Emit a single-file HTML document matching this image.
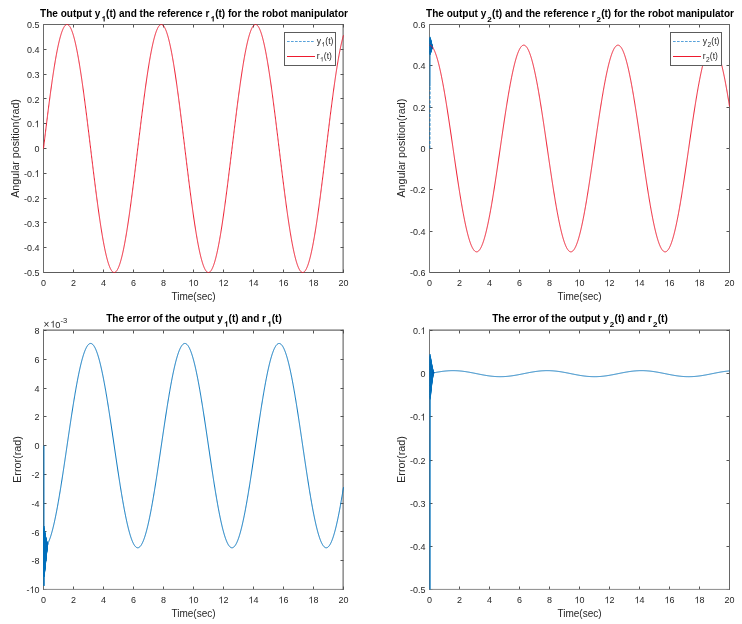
<!DOCTYPE html>
<html><head><meta charset="utf-8"><style>html,body{margin:0;padding:0;background:#fff;width:742px;height:624px;overflow:hidden}svg{display:block;will-change:transform}</style></head>
<body><svg width="742" height="624" viewBox="0 0 742 624" font-family="Liberation Sans, sans-serif" fill="#262626">
<rect width="742" height="624" fill="#fff"/>
<path d="M43.5,272.5v-3M43.5,24.5v3M73.5,272.5v-3M73.5,24.5v3M103.5,272.5v-3M103.5,24.5v3M133.5,272.5v-3M133.5,24.5v3M163.5,272.5v-3M163.5,24.5v3M193.5,272.5v-3M193.5,24.5v3M223.5,272.5v-3M223.5,24.5v3M253.5,272.5v-3M253.5,24.5v3M283.5,272.5v-3M283.5,24.5v3M313.5,272.5v-3M313.5,24.5v3M343.5,272.5v-3M343.5,24.5v3M43.5,272.5h3M343.5,272.5h-3M43.5,247.5h3M343.5,247.5h-3M43.5,222.5h3M343.5,222.5h-3M43.5,198.5h3M343.5,198.5h-3M43.5,173.5h3M343.5,173.5h-3M43.5,148.5h3M343.5,148.5h-3M43.5,123.5h3M343.5,123.5h-3M43.5,98.5h3M343.5,98.5h-3M43.5,74.5h3M343.5,74.5h-3M43.5,49.5h3M343.5,49.5h-3M43.5,24.5h3M343.5,24.5h-3" stroke="#555" stroke-width="1.0" fill="none"/>
<path d="M43.0,24.5H343.6" stroke="#666" stroke-width="1"/>
<path d="M43.0,272.5H343.6" stroke="#5c5c5c" stroke-width="1"/>
<path d="M43.5,24.0V273.0" stroke="#6a6a6a" stroke-width="1"/>
<path d="M343.1,24.0V273.0" stroke="#505050" stroke-width="1"/>
<path d="M429.5,272.5v-3M429.5,24.5v3M459.5,272.5v-3M459.5,24.5v3M489.5,272.5v-3M489.5,24.5v3M519.5,272.5v-3M519.5,24.5v3M549.5,272.5v-3M549.5,24.5v3M579.5,272.5v-3M579.5,24.5v3M609.5,272.5v-3M609.5,24.5v3M639.5,272.5v-3M639.5,24.5v3M669.5,272.5v-3M669.5,24.5v3M699.5,272.5v-3M699.5,24.5v3M729.5,272.5v-3M729.5,24.5v3M429.5,272.5h3M729.5,272.5h-3M429.5,231.5h3M729.5,231.5h-3M429.5,189.5h3M729.5,189.5h-3M429.5,148.5h3M729.5,148.5h-3M429.5,107.5h3M729.5,107.5h-3M429.5,65.5h3M729.5,65.5h-3M429.5,24.5h3M729.5,24.5h-3" stroke="#555" stroke-width="1.0" fill="none"/>
<path d="M429.0,24.5H730.0" stroke="#666" stroke-width="1"/>
<path d="M429.0,272.5H730.0" stroke="#5c5c5c" stroke-width="1"/>
<path d="M429.5,24.0V273.0" stroke="#777" stroke-width="1"/>
<path d="M729.5,24.0V273.0" stroke="#666" stroke-width="1"/>
<path d="M43.5,589.5v-3M43.5,330.5v3M73.5,589.5v-3M73.5,330.5v3M103.5,589.5v-3M103.5,330.5v3M133.5,589.5v-3M133.5,330.5v3M163.5,589.5v-3M163.5,330.5v3M193.5,589.5v-3M193.5,330.5v3M223.5,589.5v-3M223.5,330.5v3M253.5,589.5v-3M253.5,330.5v3M283.5,589.5v-3M283.5,330.5v3M313.5,589.5v-3M313.5,330.5v3M343.5,589.5v-3M343.5,330.5v3M43.5,589.5h3M343.5,589.5h-3M43.5,560.5h3M343.5,560.5h-3M43.5,531.5h3M343.5,531.5h-3M43.5,503.5h3M343.5,503.5h-3M43.5,474.5h3M343.5,474.5h-3M43.5,445.5h3M343.5,445.5h-3M43.5,416.5h3M343.5,416.5h-3M43.5,388.5h3M343.5,388.5h-3M43.5,359.5h3M343.5,359.5h-3M43.5,330.5h3M343.5,330.5h-3" stroke="#555" stroke-width="1.0" fill="none"/>
<path d="M43.0,330.1H343.6" stroke="#444" stroke-width="1"/>
<path d="M43.0,589.4H343.6" stroke="#8a8a8a" stroke-width="1"/>
<path d="M43.5,329.6V589.9" stroke="#6a6a6a" stroke-width="1"/>
<path d="M343.1,329.6V589.9" stroke="#505050" stroke-width="1"/>
<path d="M429.5,589.5v-3M429.5,330.5v3M459.5,589.5v-3M459.5,330.5v3M489.5,589.5v-3M489.5,330.5v3M519.5,589.5v-3M519.5,330.5v3M549.5,589.5v-3M549.5,330.5v3M579.5,589.5v-3M579.5,330.5v3M609.5,589.5v-3M609.5,330.5v3M639.5,589.5v-3M639.5,330.5v3M669.5,589.5v-3M669.5,330.5v3M699.5,589.5v-3M699.5,330.5v3M729.5,589.5v-3M729.5,330.5v3M429.5,589.5h3M729.5,589.5h-3M429.5,546.5h3M729.5,546.5h-3M429.5,503.5h3M729.5,503.5h-3M429.5,460.5h3M729.5,460.5h-3M429.5,416.5h3M729.5,416.5h-3M429.5,373.5h3M729.5,373.5h-3M429.5,330.5h3M729.5,330.5h-3" stroke="#555" stroke-width="1.0" fill="none"/>
<path d="M429.0,330.1H730.0" stroke="#444" stroke-width="1"/>
<path d="M429.0,589.4H730.0" stroke="#8a8a8a" stroke-width="1"/>
<path d="M429.5,329.6V589.9" stroke="#777" stroke-width="1"/>
<path d="M729.5,329.6V589.9" stroke="#666" stroke-width="1"/>
<path d="M43.50,148.50 L43.65,147.26 L43.80,146.02 L43.95,144.78 L44.10,143.54 L44.25,142.30 L44.40,141.06 L44.55,139.83 L44.70,138.59 L44.85,137.36 L45.00,136.12 L45.15,134.89 L45.30,133.66 L45.45,132.43 L45.60,131.20 L45.75,129.97 L45.90,128.74 L46.05,127.52 L46.20,126.30 L46.35,125.08 L46.50,123.87 L46.65,122.65 L46.80,121.44 L46.95,120.23 L47.10,119.02 L47.25,117.82 L47.40,116.62 L47.55,115.43 L47.70,114.23 L47.85,113.04 L48.00,111.86 L48.15,110.67 L48.30,109.49 L48.45,108.32 L48.60,107.15 L48.75,105.98 L48.90,104.82 L49.05,103.66 L49.20,102.51 L49.35,101.36 L49.50,100.21 L49.65,99.07 L49.80,97.94 L49.95,96.81 L50.10,95.68 L50.25,94.56 L50.40,93.45 L50.55,92.34 L50.70,91.24 L50.85,90.14 L51.00,89.05 L51.15,87.97 L51.30,86.89 L51.45,85.81 L51.60,84.75 L51.75,83.69 L51.90,82.63 L52.05,81.59 L52.20,80.55 L52.35,79.51 L52.50,78.48 L52.65,77.46 L52.80,76.45 L52.95,75.45 L53.10,74.45 L53.25,73.46 L53.40,72.47 L53.55,71.50 L53.70,70.53 L53.85,69.57 L54.00,68.62 L54.15,67.67 L54.30,66.74 L54.45,65.81 L54.60,64.89 L54.75,63.98 L54.90,63.07 L55.05,62.18 L55.20,61.29 L55.35,60.42 L55.50,59.55 L55.65,58.69 L55.80,57.84 L55.95,57.00 L56.10,56.16 L56.25,55.34 L56.40,54.53 L56.55,53.72 L56.70,52.93 L56.85,52.14 L57.00,51.37 L57.15,50.60 L57.30,49.85 L57.45,49.10 L57.60,48.36 L57.75,47.64 L57.90,46.92 L58.05,46.21 L58.20,45.52 L58.35,44.83 L58.50,44.16 L58.65,43.49 L58.80,42.84 L58.95,42.19 L59.10,41.56 L59.25,40.94 L59.40,40.33 L59.55,39.73 L59.70,39.14 L59.85,38.56 L60.00,37.99 L60.15,37.43 L60.30,36.89 L60.45,36.35 L60.60,35.83 L60.75,35.32 L60.90,34.82 L61.05,34.33 L61.20,33.85 L61.35,33.38 L61.50,32.93 L61.65,32.48 L61.80,32.05 L61.95,31.63 L62.10,31.22 L62.25,30.83 L62.40,30.44 L62.55,30.07 L62.70,29.71 L62.85,29.36 L63.00,29.02 L63.15,28.69 L63.30,28.38 L63.45,28.08 L63.60,27.79 L63.75,27.51 L63.90,27.24 L64.05,26.99 L64.20,26.75 L64.35,26.52 L64.50,26.30 L64.65,26.10 L64.80,25.91 L64.95,25.73 L65.10,25.56 L65.25,25.40 L65.40,25.26 L65.55,25.13 L65.70,25.01 L65.85,24.90 L66.00,24.81 L66.15,24.73 L66.30,24.66 L66.45,24.60 L66.60,24.56 L66.75,24.53 L66.90,24.51 L67.05,24.50 L67.20,24.51 L67.35,24.52 L67.50,24.55 L67.65,24.60 L67.80,24.65 L67.95,24.72 L68.10,24.80 L68.25,24.89 L68.40,24.99 L68.55,25.11 L68.70,25.24 L68.85,25.38 L69.00,25.53 L69.15,25.70 L69.30,25.88 L69.45,26.07 L69.60,26.27 L69.75,26.49 L69.90,26.71 L70.05,26.95 L70.20,27.20 L70.35,27.47 L70.50,27.74 L70.65,28.03 L70.80,28.33 L70.95,28.64 L71.10,28.97 L71.25,29.30 L71.40,29.65 L71.55,30.01 L71.70,30.38 L71.85,30.76 L72.00,31.16 L72.15,31.57 L72.30,31.98 L72.45,32.41 L72.60,32.86 L72.75,33.31 L72.90,33.77 L73.05,34.25 L73.20,34.74 L73.35,35.24 L73.50,35.75 L73.65,36.27 L73.80,36.80 L73.95,37.35 L74.10,37.90 L74.25,38.47 L74.40,39.04 L74.55,39.63 L74.70,40.23 L74.85,40.84 L75.00,41.46 L75.15,42.09 L75.30,42.74 L75.45,43.39 L75.60,44.05 L75.75,44.72 L75.90,45.41 L76.05,46.10 L76.20,46.81 L76.35,47.52 L76.50,48.25 L76.65,48.98 L76.80,49.73 L76.95,50.48 L77.10,51.24 L77.25,52.02 L77.40,52.80 L77.55,53.60 L77.70,54.40 L77.85,55.21 L78.00,56.03 L78.15,56.86 L78.30,57.70 L78.45,58.55 L78.60,59.41 L78.75,60.28 L78.90,61.15 L79.05,62.04 L79.20,62.93 L79.35,63.83 L79.50,64.74 L79.65,65.66 L79.80,66.59 L79.95,67.52 L80.10,68.47 L80.25,69.42 L80.40,70.38 L80.55,71.34 L80.70,72.32 L80.85,73.30 L81.00,74.29 L81.15,75.29 L81.30,76.29 L81.45,77.30 L81.60,78.32 L81.75,79.35 L81.90,80.38 L82.05,81.42 L82.20,82.47 L82.35,83.52 L82.50,84.58 L82.65,85.64 L82.80,86.72 L82.95,87.79 L83.10,88.88 L83.25,89.97 L83.40,91.06 L83.55,92.17 L83.70,93.27 L83.85,94.39 L84.00,95.50 L84.15,96.63 L84.30,97.76 L84.45,98.89 L84.60,100.03 L84.75,101.17 L84.90,102.32 L85.05,103.48 L85.20,104.63 L85.35,105.80 L85.50,106.96 L85.65,108.13 L85.80,109.31 L85.95,110.48 L86.10,111.67 L86.25,112.85 L86.40,114.04 L86.55,115.24 L86.70,116.43 L86.85,117.63 L87.00,118.83 L87.15,120.04 L87.30,121.25 L87.45,122.46 L87.60,123.67 L87.75,124.89 L87.90,126.11 L88.05,127.33 L88.20,128.55 L88.35,129.77 L88.50,131.00 L88.65,132.23 L88.80,133.46 L88.95,134.69 L89.10,135.92 L89.25,137.16 L89.40,138.39 L89.55,139.63 L89.70,140.87 L89.85,142.11 L90.00,143.34 L90.15,144.58 L90.30,145.82 L90.45,147.06 L90.60,148.30 L90.75,149.54 L90.90,150.78 L91.05,152.02 L91.20,153.26 L91.35,154.50 L91.50,155.74 L91.65,156.98 L91.80,158.21 L91.95,159.45 L92.10,160.68 L92.25,161.92 L92.40,163.15 L92.55,164.38 L92.70,165.61 L92.85,166.84 L93.00,168.06 L93.15,169.28 L93.30,170.51 L93.45,171.72 L93.60,172.94 L93.75,174.16 L93.90,175.37 L94.05,176.58 L94.20,177.78 L94.35,178.99 L94.50,180.19 L94.65,181.38 L94.80,182.58 L94.95,183.77 L95.10,184.96 L95.25,186.14 L95.40,187.32 L95.55,188.49 L95.70,189.67 L95.85,190.83 L96.00,192.00 L96.15,193.16 L96.30,194.31 L96.45,195.46 L96.60,196.61 L96.75,197.75 L96.90,198.88 L97.05,200.01 L97.20,201.14 L97.35,202.26 L97.50,203.37 L97.65,204.48 L97.80,205.59 L97.95,206.68 L98.10,207.78 L98.25,208.86 L98.40,209.94 L98.55,211.02 L98.70,212.08 L98.85,213.14 L99.00,214.20 L99.15,215.25 L99.30,216.29 L99.45,217.32 L99.60,218.35 L99.75,219.37 L99.90,220.39 L100.05,221.39 L100.20,222.39 L100.35,223.39 L100.50,224.37 L100.65,225.35 L100.80,226.32 L100.95,227.28 L101.10,228.23 L101.25,229.18 L101.40,230.12 L101.55,231.04 L101.70,231.97 L101.85,232.88 L102.00,233.78 L102.15,234.68 L102.30,235.57 L102.45,236.44 L102.60,237.31 L102.75,238.18 L102.90,239.03 L103.05,239.87 L103.20,240.70 L103.35,241.53 L103.50,242.34 L103.65,243.15 L103.80,243.95 L103.95,244.73 L104.10,245.51 L104.25,246.28 L104.40,247.03 L104.55,247.78 L104.70,248.52 L104.85,249.25 L105.00,249.97 L105.15,250.67 L105.30,251.37 L105.45,252.06 L105.60,252.74 L105.75,253.40 L105.90,254.06 L106.05,254.70 L106.20,255.34 L106.35,255.96 L106.50,256.58 L106.65,257.18 L106.80,257.77 L106.95,258.35 L107.10,258.92 L107.25,259.48 L107.40,260.03 L107.55,260.56 L107.70,261.09 L107.85,261.60 L108.00,262.10 L108.15,262.60 L108.30,263.08 L108.45,263.54 L108.60,264.00 L108.75,264.45 L108.90,264.88 L109.05,265.30 L109.20,265.71 L109.35,266.11 L109.50,266.50 L109.65,266.87 L109.80,267.24 L109.95,267.59 L110.10,267.93 L110.25,268.26 L110.40,268.57 L110.55,268.88 L110.70,269.17 L110.85,269.45 L111.00,269.71 L111.15,269.97 L111.30,270.21 L111.45,270.44 L111.60,270.66 L111.75,270.87 L111.90,271.06 L112.05,271.25 L112.20,271.41 L112.35,271.57 L112.50,271.72 L112.65,271.85 L112.80,271.97 L112.95,272.08 L113.10,272.18 L113.25,272.26 L113.40,272.33 L113.55,272.39 L113.70,272.43 L113.85,272.47 L114.00,272.49 L114.15,272.50 L114.30,272.50 L114.45,272.48 L114.60,272.45 L114.75,272.41 L114.90,272.36 L115.05,272.29 L115.20,272.22 L115.35,272.13 L115.50,272.02 L115.65,271.91 L115.80,271.78 L115.95,271.64 L116.10,271.49 L116.25,271.33 L116.40,271.15 L116.55,270.96 L116.70,270.76 L116.85,270.55 L117.00,270.32 L117.15,270.09 L117.30,269.84 L117.45,269.58 L117.60,269.30 L117.75,269.02 L117.90,268.72 L118.05,268.41 L118.20,268.09 L118.35,267.75 L118.50,267.41 L118.65,267.05 L118.80,266.68 L118.95,266.30 L119.10,265.90 L119.25,265.50 L119.40,265.08 L119.55,264.66 L119.70,264.22 L119.85,263.76 L120.00,263.30 L120.15,262.83 L120.30,262.34 L120.45,261.84 L120.60,261.33 L120.75,260.82 L120.90,260.28 L121.05,259.74 L121.20,259.19 L121.35,258.62 L121.50,258.05 L121.65,257.46 L121.80,256.86 L121.95,256.26 L122.10,255.64 L122.25,255.01 L122.40,254.37 L122.55,253.72 L122.70,253.06 L122.85,252.38 L123.00,251.70 L123.15,251.01 L123.30,250.31 L123.45,249.59 L123.60,248.87 L123.75,248.14 L123.90,247.39 L124.05,246.64 L124.20,245.88 L124.35,245.11 L124.50,244.32 L124.65,243.53 L124.80,242.73 L124.95,241.92 L125.10,241.10 L125.25,240.27 L125.40,239.43 L125.55,238.58 L125.70,237.73 L125.85,236.86 L126.00,235.99 L126.15,235.10 L126.30,234.21 L126.45,233.31 L126.60,232.40 L126.75,231.49 L126.90,230.56 L127.05,229.63 L127.20,228.68 L127.35,227.73 L127.50,226.78 L127.65,225.81 L127.80,224.84 L127.95,223.86 L128.10,222.87 L128.25,221.87 L128.40,220.87 L128.55,219.86 L128.70,218.84 L128.85,217.82 L129.00,216.79 L129.15,215.75 L129.30,214.70 L129.45,213.65 L129.60,212.59 L129.75,211.53 L129.90,210.46 L130.05,209.38 L130.20,208.30 L130.35,207.21 L130.50,206.11 L130.65,205.01 L130.80,203.90 L130.95,202.79 L131.10,201.67 L131.25,200.55 L131.40,199.42 L131.55,198.29 L131.70,197.15 L131.85,196.01 L132.00,194.86 L132.15,193.71 L132.30,192.55 L132.45,191.39 L132.60,190.22 L132.75,189.05 L132.90,187.88 L133.05,186.70 L133.20,185.52 L133.35,184.34 L133.50,183.15 L133.65,181.96 L133.80,180.76 L133.95,179.56 L134.10,178.36 L134.25,177.15 L134.40,175.95 L134.55,174.74 L134.70,173.52 L134.85,172.31 L135.00,171.09 L135.15,169.87 L135.30,168.65 L135.45,167.42 L135.60,166.19 L135.75,164.97 L135.90,163.74 L136.05,162.51 L136.20,161.27 L136.35,160.04 L136.50,158.80 L136.65,157.57 L136.80,156.33 L136.95,155.09 L137.10,153.85 L137.25,152.61 L137.40,151.37 L137.55,150.13 L137.70,148.89 L137.85,147.65 L138.00,146.42 L138.15,145.18 L138.30,143.94 L138.45,142.70 L138.60,141.46 L138.75,140.22 L138.90,138.98 L139.05,137.75 L139.20,136.51 L139.35,135.28 L139.50,134.05 L139.65,132.82 L139.80,131.59 L139.95,130.36 L140.10,129.13 L140.25,127.91 L140.40,126.69 L140.55,125.47 L140.70,124.25 L140.85,123.04 L141.00,121.83 L141.15,120.62 L141.30,119.41 L141.45,118.20 L141.60,117.00 L141.75,115.81 L141.90,114.61 L142.05,113.42 L142.20,112.23 L142.35,111.05 L142.50,109.87 L142.65,108.69 L142.80,107.52 L142.95,106.35 L143.10,105.19 L143.25,104.03 L143.40,102.87 L143.55,101.72 L143.70,100.58 L143.85,99.43 L144.00,98.30 L144.15,97.17 L144.30,96.04 L144.45,94.92 L144.60,93.80 L144.75,92.69 L144.90,91.59 L145.05,90.49 L145.20,89.40 L145.35,88.31 L145.50,87.23 L145.65,86.15 L145.80,85.09 L145.95,84.02 L146.10,82.97 L146.25,81.92 L146.40,80.88 L146.55,79.84 L146.70,78.81 L146.85,77.79 L147.00,76.77 L147.15,75.77 L147.30,74.76 L147.45,73.77 L147.60,72.79 L147.75,71.81 L147.90,70.84 L148.05,69.87 L148.20,68.92 L148.35,67.97 L148.50,67.03 L148.65,66.10 L148.80,65.18 L148.95,64.27 L149.10,63.36 L149.25,62.46 L149.40,61.57 L149.55,60.69 L149.70,59.82 L149.85,58.96 L150.00,58.11 L150.15,57.26 L150.30,56.43 L150.45,55.60 L150.60,54.79 L150.75,53.98 L150.90,53.18 L151.05,52.39 L151.20,51.61 L151.35,50.84 L151.50,50.09 L151.65,49.34 L151.80,48.60 L151.95,47.87 L152.10,47.15 L152.25,46.44 L152.40,45.74 L152.55,45.05 L152.70,44.37 L152.85,43.70 L153.00,43.05 L153.15,42.40 L153.30,41.76 L153.45,41.14 L153.60,40.52 L153.75,39.92 L153.90,39.32 L154.05,38.74 L154.20,38.17 L154.35,37.61 L154.50,37.06 L154.65,36.52 L154.80,35.99 L154.95,35.48 L155.10,34.97 L155.25,34.48 L155.40,34.00 L155.55,33.53 L155.70,33.07 L155.85,32.62 L156.00,32.19 L156.15,31.76 L156.30,31.35 L156.45,30.95 L156.60,30.56 L156.75,30.19 L156.90,29.82 L157.05,29.47 L157.20,29.13 L157.35,28.80 L157.50,28.48 L157.65,28.17 L157.80,27.88 L157.95,27.60 L158.10,27.33 L158.25,27.07 L158.40,26.83 L158.55,26.59 L158.70,26.37 L158.85,26.16 L159.00,25.97 L159.15,25.78 L159.30,25.61 L159.45,25.45 L159.60,25.30 L159.75,25.17 L159.90,25.05 L160.05,24.94 L160.20,24.84 L160.35,24.75 L160.50,24.68 L160.65,24.62 L160.80,24.57 L160.95,24.54 L161.10,24.51 L161.25,24.50 L161.40,24.50 L161.55,24.52 L161.70,24.54 L161.85,24.58 L162.00,24.63 L162.15,24.69 L162.30,24.77 L162.45,24.86 L162.60,24.96 L162.75,25.07 L162.90,25.20 L163.05,25.33 L163.20,25.48 L163.35,25.65 L163.50,25.82 L163.65,26.01 L163.80,26.20 L163.95,26.42 L164.10,26.64 L164.25,26.87 L164.40,27.12 L164.55,27.38 L164.70,27.65 L164.85,27.94 L165.00,28.23 L165.15,28.54 L165.30,28.86 L165.45,29.19 L165.60,29.54 L165.75,29.89 L165.90,30.26 L166.05,30.64 L166.20,31.03 L166.35,31.43 L166.50,31.85 L166.65,32.28 L166.80,32.71 L166.95,33.16 L167.10,33.62 L167.25,34.10 L167.40,34.58 L167.55,35.08 L167.70,35.58 L167.85,36.10 L168.00,36.63 L168.15,37.17 L168.30,37.72 L168.45,38.29 L168.60,38.86 L168.75,39.44 L168.90,40.04 L169.05,40.65 L169.20,41.26 L169.35,41.89 L169.50,42.53 L169.65,43.18 L169.80,43.84 L169.95,44.51 L170.10,45.19 L170.25,45.88 L170.40,46.58 L170.55,47.29 L170.70,48.01 L170.85,48.75 L171.00,49.49 L171.15,50.24 L171.30,51.00 L171.45,51.77 L171.60,52.55 L171.75,53.34 L171.90,54.14 L172.05,54.95 L172.20,55.77 L172.35,56.60 L172.50,57.43 L172.65,58.28 L172.80,59.14 L172.95,60.00 L173.10,60.87 L173.25,61.75 L173.40,62.65 L173.55,63.54 L173.70,64.45 L173.85,65.37 L174.00,66.29 L174.15,67.22 L174.30,68.16 L174.45,69.11 L174.60,70.07 L174.75,71.03 L174.90,72.01 L175.05,72.99 L175.20,73.97 L175.35,74.97 L175.50,75.97 L175.65,76.98 L175.80,78.00 L175.95,79.02 L176.10,80.05 L176.25,81.09 L176.40,82.13 L176.55,83.18 L176.70,84.24 L176.85,85.30 L177.00,86.37 L177.15,87.45 L177.30,88.53 L177.45,89.62 L177.60,90.71 L177.75,91.81 L177.90,92.92 L178.05,94.03 L178.20,95.15 L178.35,96.27 L178.50,97.40 L178.65,98.53 L178.80,99.67 L178.95,100.81 L179.10,101.96 L179.25,103.11 L179.40,104.26 L179.55,105.42 L179.70,106.59 L179.85,107.76 L180.00,108.93 L180.15,110.11 L180.30,111.29 L180.45,112.47 L180.60,113.66 L180.75,114.85 L180.90,116.05 L181.05,117.25 L181.20,118.45 L181.35,119.65 L181.50,120.86 L181.65,122.07 L181.80,123.28 L181.95,124.50 L182.10,125.72 L182.25,126.94 L182.40,128.16 L182.55,129.38 L182.70,130.61 L182.85,131.84 L183.00,133.07 L183.15,134.30 L183.30,135.53 L183.45,136.77 L183.60,138.00 L183.75,139.24 L183.90,140.47 L184.05,141.71 L184.20,142.95 L184.35,144.19 L184.50,145.43 L184.65,146.67 L184.80,147.91 L184.95,149.15 L185.10,150.39 L185.25,151.63 L185.40,152.87 L185.55,154.11 L185.70,155.34 L185.85,156.58 L186.00,157.82 L186.15,159.05 L186.30,160.29 L186.45,161.52 L186.60,162.76 L186.75,163.99 L186.90,165.22 L187.05,166.44 L187.20,167.67 L187.35,168.89 L187.50,170.12 L187.65,171.34 L187.80,172.55 L187.95,173.77 L188.10,174.98 L188.25,176.19 L188.40,177.40 L188.55,178.60 L188.70,179.81 L188.85,181.00 L189.00,182.20 L189.15,183.39 L189.30,184.58 L189.45,185.76 L189.60,186.94 L189.75,188.12 L189.90,189.29 L190.05,190.46 L190.20,191.63 L190.35,192.79 L190.50,193.94 L190.65,195.09 L190.80,196.24 L190.95,197.38 L191.10,198.52 L191.25,199.65 L191.40,200.78 L191.55,201.90 L191.70,203.02 L191.85,204.13 L192.00,205.23 L192.15,206.33 L192.30,207.43 L192.45,208.52 L192.60,209.60 L192.75,210.67 L192.90,211.74 L193.05,212.81 L193.20,213.86 L193.35,214.91 L193.50,215.96 L193.65,217.00 L193.80,218.03 L193.95,219.05 L194.10,220.07 L194.25,221.07 L194.40,222.08 L194.55,223.07 L194.70,224.06 L194.85,225.04 L195.00,226.01 L195.15,226.97 L195.30,227.93 L195.45,228.88 L195.60,229.82 L195.75,230.75 L195.90,231.67 L196.05,232.59 L196.20,233.50 L196.35,234.39 L196.50,235.28 L196.65,236.17 L196.80,237.04 L196.95,237.90 L197.10,238.76 L197.25,239.60 L197.40,240.44 L197.55,241.27 L197.70,242.08 L197.85,242.89 L198.00,243.69 L198.15,244.48 L198.30,245.26 L198.45,246.03 L198.60,246.79 L198.75,247.55 L198.90,248.29 L199.05,249.02 L199.20,249.74 L199.35,250.45 L199.50,251.15 L199.65,251.84 L199.80,252.52 L199.95,253.19 L200.10,253.85 L200.25,254.50 L200.40,255.14 L200.55,255.76 L200.70,256.38 L200.85,256.99 L201.00,257.58 L201.15,258.17 L201.30,258.74 L201.45,259.30 L201.60,259.85 L201.75,260.39 L201.90,260.92 L202.05,261.44 L202.20,261.95 L202.35,262.44 L202.50,262.92 L202.65,263.40 L202.80,263.86 L202.95,264.31 L203.10,264.74 L203.25,265.17 L203.40,265.58 L203.55,265.99 L203.70,266.38 L203.85,266.76 L204.00,267.12 L204.15,267.48 L204.30,267.82 L204.45,268.15 L204.60,268.47 L204.75,268.78 L204.90,269.08 L205.05,269.36 L205.20,269.63 L205.35,269.89 L205.50,270.14 L205.65,270.37 L205.80,270.59 L205.95,270.80 L206.10,271.00 L206.25,271.19 L206.40,271.36 L206.55,271.52 L206.70,271.67 L206.85,271.81 L207.00,271.93 L207.15,272.05 L207.30,272.15 L207.45,272.23 L207.60,272.31 L207.75,272.37 L207.90,272.42 L208.05,272.46 L208.20,272.48 L208.35,272.50 L208.50,272.50 L208.65,272.49 L208.80,272.46 L208.95,272.43 L209.10,272.38 L209.25,272.32 L209.40,272.24 L209.55,272.16 L209.70,272.06 L209.85,271.95 L210.00,271.82 L210.15,271.69 L210.30,271.54 L210.45,271.38 L210.60,271.21 L210.75,271.02 L210.90,270.83 L211.05,270.62 L211.20,270.40 L211.35,270.16 L211.50,269.92 L211.65,269.66 L211.80,269.39 L211.95,269.11 L212.10,268.81 L212.25,268.51 L212.40,268.19 L212.55,267.86 L212.70,267.52 L212.85,267.16 L213.00,266.80 L213.15,266.42 L213.30,266.03 L213.45,265.63 L213.60,265.22 L213.75,264.79 L213.90,264.36 L214.05,263.91 L214.20,263.45 L214.35,262.98 L214.50,262.50 L214.65,262.00 L214.80,261.50 L214.95,260.98 L215.10,260.45 L215.25,259.92 L215.40,259.37 L215.55,258.80 L215.70,258.23 L215.85,257.65 L216.00,257.06 L216.15,256.45 L216.30,255.84 L216.45,255.21 L216.60,254.57 L216.75,253.93 L216.90,253.27 L217.05,252.60 L217.20,251.92 L217.35,251.23 L217.50,250.53 L217.65,249.82 L217.80,249.10 L217.95,248.37 L218.10,247.63 L218.25,246.88 L218.40,246.12 L218.55,245.35 L218.70,244.57 L218.85,243.78 L219.00,242.99 L219.15,242.18 L219.30,241.36 L219.45,240.53 L219.60,239.70 L219.75,238.85 L219.90,238.00 L220.05,237.14 L220.20,236.27 L220.35,235.39 L220.50,234.50 L220.65,233.60 L220.80,232.69 L220.95,231.78 L221.10,230.86 L221.25,229.92 L221.40,228.99 L221.55,228.04 L221.70,227.08 L221.85,226.12 L222.00,225.15 L222.15,224.17 L222.30,223.18 L222.45,222.19 L222.60,221.19 L222.75,220.18 L222.90,219.17 L223.05,218.14 L223.20,217.11 L223.35,216.08 L223.50,215.04 L223.65,213.99 L223.80,212.93 L223.95,211.87 L224.10,210.80 L224.25,209.72 L224.40,208.64 L224.55,207.55 L224.70,206.46 L224.85,205.36 L225.00,204.26 L225.15,203.15 L225.30,202.03 L225.45,200.91 L225.60,199.78 L225.75,198.65 L225.90,197.51 L226.05,196.37 L226.20,195.23 L226.35,194.08 L226.50,192.92 L226.65,191.76 L226.80,190.60 L226.95,189.43 L227.10,188.26 L227.25,187.08 L227.40,185.90 L227.55,184.71 L227.70,183.53 L227.85,182.34 L228.00,181.14 L228.15,179.94 L228.30,178.74 L228.45,177.54 L228.60,176.33 L228.75,175.12 L228.90,173.91 L229.05,172.69 L229.20,171.48 L229.35,170.26 L229.50,169.03 L229.65,167.81 L229.80,166.59 L229.95,165.36 L230.10,164.13 L230.25,162.90 L230.40,161.67 L230.55,160.43 L230.70,159.20 L230.85,157.96 L231.00,156.72 L231.15,155.49 L231.30,154.25 L231.45,153.01 L231.60,151.77 L231.75,150.53 L231.90,149.29 L232.05,148.05 L232.20,146.81 L232.35,145.57 L232.50,144.33 L232.65,143.09 L232.80,141.85 L232.95,140.62 L233.10,139.38 L233.25,138.14 L233.40,136.91 L233.55,135.67 L233.70,134.44 L233.85,133.21 L234.00,131.98 L234.15,130.75 L234.30,129.52 L234.45,128.30 L234.60,127.08 L234.75,125.86 L234.90,124.64 L235.05,123.42 L235.20,122.21 L235.35,121.00 L235.50,119.79 L235.65,118.59 L235.80,117.39 L235.95,116.19 L236.10,114.99 L236.25,113.80 L236.40,112.61 L236.55,111.43 L236.70,110.24 L236.85,109.07 L237.00,107.89 L237.15,106.72 L237.30,105.56 L237.45,104.40 L237.60,103.24 L237.75,102.09 L237.90,100.94 L238.05,99.80 L238.20,98.66 L238.35,97.53 L238.50,96.40 L238.65,95.28 L238.80,94.16 L238.95,93.05 L239.10,91.94 L239.25,90.84 L239.40,89.75 L239.55,88.66 L239.70,87.57 L239.85,86.50 L240.00,85.43 L240.15,84.36 L240.30,83.30 L240.45,82.25 L240.60,81.21 L240.75,80.17 L240.90,79.14 L241.05,78.11 L241.20,77.10 L241.35,76.09 L241.50,75.08 L241.65,74.09 L241.80,73.10 L241.95,72.12 L242.10,71.15 L242.25,70.18 L242.40,69.22 L242.55,68.27 L242.70,67.33 L242.85,66.40 L243.00,65.47 L243.15,64.56 L243.30,63.65 L243.45,62.75 L243.60,61.86 L243.75,60.97 L243.90,60.10 L244.05,59.23 L244.20,58.38 L244.35,57.53 L244.50,56.69 L244.65,55.86 L244.80,55.04 L244.95,54.23 L245.10,53.43 L245.25,52.64 L245.40,51.86 L245.55,51.09 L245.70,50.33 L245.85,49.57 L246.00,48.83 L246.15,48.10 L246.30,47.38 L246.45,46.66 L246.60,45.96 L246.75,45.27 L246.90,44.59 L247.05,43.92 L247.20,43.25 L247.35,42.60 L247.50,41.96 L247.65,41.33 L247.80,40.72 L247.95,40.11 L248.10,39.51 L248.25,38.93 L248.40,38.35 L248.55,37.79 L248.70,37.23 L248.85,36.69 L249.00,36.16 L249.15,35.64 L249.30,35.13 L249.45,34.64 L249.60,34.15 L249.75,33.68 L249.90,33.22 L250.05,32.76 L250.20,32.33 L250.35,31.90 L250.50,31.48 L250.65,31.08 L250.80,30.68 L250.95,30.30 L251.10,29.93 L251.25,29.58 L251.40,29.23 L251.55,28.90 L251.70,28.58 L251.85,28.27 L252.00,27.97 L252.15,27.69 L252.30,27.41 L252.45,27.15 L252.60,26.90 L252.75,26.67 L252.90,26.44 L253.05,26.23 L253.20,26.03 L253.35,25.84 L253.50,25.66 L253.65,25.50 L253.80,25.35 L253.95,25.21 L254.10,25.08 L254.25,24.97 L254.40,24.87 L254.55,24.78 L254.70,24.70 L254.85,24.64 L255.00,24.59 L255.15,24.55 L255.30,24.52 L255.45,24.50 L255.60,24.50 L255.75,24.51 L255.90,24.53 L256.05,24.57 L256.20,24.61 L256.35,24.67 L256.50,24.74 L256.65,24.83 L256.80,24.93 L256.95,25.03 L257.10,25.16 L257.25,25.29 L257.40,25.43 L257.55,25.59 L257.70,25.76 L257.85,25.95 L258.00,26.14 L258.15,26.35 L258.30,26.57 L258.45,26.80 L258.60,27.04 L258.75,27.30 L258.90,27.57 L259.05,27.85 L259.20,28.14 L259.35,28.44 L259.50,28.76 L259.65,29.09 L259.80,29.43 L259.95,29.78 L260.10,30.14 L260.25,30.52 L260.40,30.91 L260.55,31.31 L260.70,31.72 L260.85,32.14 L261.00,32.57 L261.15,33.02 L261.30,33.48 L261.45,33.95 L261.60,34.43 L261.75,34.92 L261.90,35.42 L262.05,35.94 L262.20,36.46 L262.35,37.00 L262.50,37.55 L262.65,38.11 L262.80,38.68 L262.95,39.26 L263.10,39.85 L263.25,40.45 L263.40,41.07 L263.55,41.69 L263.70,42.33 L263.85,42.97 L264.00,43.63 L264.15,44.29 L264.30,44.97 L264.45,45.66 L264.60,46.36 L264.75,47.07 L264.90,47.78 L265.05,48.51 L265.20,49.25 L265.35,50.00 L265.50,50.76 L265.65,51.52 L265.80,52.30 L265.95,53.09 L266.10,53.89 L266.25,54.69 L266.40,55.51 L266.55,56.33 L266.70,57.17 L266.85,58.01 L267.00,58.86 L267.15,59.72 L267.30,60.59 L267.45,61.47 L267.60,62.36 L267.75,63.26 L267.90,64.16 L268.05,65.07 L268.20,66.00 L268.35,66.93 L268.50,67.86 L268.65,68.81 L268.80,69.76 L268.95,70.73 L269.10,71.70 L269.25,72.67 L269.40,73.66 L269.55,74.65 L269.70,75.65 L269.85,76.66 L270.00,77.67 L270.15,78.69 L270.30,79.72 L270.45,80.76 L270.60,81.80 L270.75,82.85 L270.90,83.90 L271.05,84.96 L271.20,86.03 L271.35,87.11 L271.50,88.19 L271.65,89.27 L271.80,90.37 L271.95,91.46 L272.10,92.57 L272.25,93.68 L272.40,94.79 L272.55,95.91 L272.70,97.04 L272.85,98.17 L273.00,99.30 L273.15,100.44 L273.30,101.59 L273.45,102.74 L273.60,103.90 L273.75,105.05 L273.90,106.22 L274.05,107.39 L274.20,108.56 L274.35,109.73 L274.50,110.91 L274.65,112.10 L274.80,113.28 L274.95,114.47 L275.10,115.67 L275.25,116.87 L275.40,118.07 L275.55,119.27 L275.70,120.48 L275.85,121.69 L276.00,122.90 L276.15,124.11 L276.30,125.33 L276.45,126.55 L276.60,127.77 L276.75,128.99 L276.90,130.22 L277.05,131.45 L277.20,132.68 L277.35,133.91 L277.50,135.14 L277.65,136.37 L277.80,137.61 L277.95,138.84 L278.10,140.08 L278.25,141.32 L278.40,142.55 L278.55,143.79 L278.70,145.03 L278.85,146.27 L279.00,147.51 L279.15,148.75 L279.30,149.99 L279.45,151.23 L279.60,152.47 L279.75,153.71 L279.90,154.95 L280.05,156.19 L280.20,157.42 L280.35,158.66 L280.50,159.90 L280.65,161.13 L280.80,162.36 L280.95,163.60 L281.10,164.83 L281.25,166.05 L281.40,167.28 L281.55,168.50 L281.70,169.73 L281.85,170.95 L282.00,172.17 L282.15,173.38 L282.30,174.60 L282.45,175.81 L282.60,177.02 L282.75,178.22 L282.90,179.42 L283.05,180.62 L283.20,181.82 L283.35,183.01 L283.50,184.20 L283.65,185.39 L283.80,186.57 L283.95,187.75 L284.10,188.92 L284.25,190.09 L284.40,191.26 L284.55,192.42 L284.70,193.58 L284.85,194.73 L285.00,195.88 L285.15,197.02 L285.30,198.16 L285.45,199.29 L285.60,200.42 L285.75,201.54 L285.90,202.66 L286.05,203.78 L286.20,204.88 L286.35,205.98 L286.50,207.08 L286.65,208.17 L286.80,209.25 L286.95,210.33 L287.10,211.40 L287.25,212.47 L287.40,213.53 L287.55,214.58 L287.70,215.63 L287.85,216.67 L288.00,217.70 L288.15,218.72 L288.30,219.74 L288.45,220.75 L288.60,221.76 L288.75,222.75 L288.90,223.74 L289.05,224.73 L289.20,225.70 L289.35,226.67 L289.50,227.63 L289.65,228.58 L289.80,229.52 L289.95,230.45 L290.10,231.38 L290.25,232.30 L290.40,233.21 L290.55,234.11 L290.70,235.00 L290.85,235.89 L291.00,236.76 L291.15,237.63 L291.30,238.49 L291.45,239.33 L291.60,240.17 L291.75,241.00 L291.90,241.83 L292.05,242.64 L292.20,243.44 L292.35,244.23 L292.50,245.02 L292.65,245.79 L292.80,246.55 L292.95,247.31 L293.10,248.05 L293.25,248.79 L293.40,249.51 L293.55,250.22 L293.70,250.93 L293.85,251.62 L294.00,252.31 L294.15,252.98 L294.30,253.64 L294.45,254.29 L294.60,254.93 L294.75,255.57 L294.90,256.19 L295.05,256.80 L295.20,257.39 L295.35,257.98 L295.50,258.56 L295.65,259.12 L295.80,259.68 L295.95,260.22 L296.10,260.75 L296.25,261.28 L296.40,261.79 L296.55,262.28 L296.70,262.77 L296.85,263.25 L297.00,263.71 L297.15,264.16 L297.30,264.61 L297.45,265.03 L297.60,265.45 L297.75,265.86 L297.90,266.25 L298.05,266.64 L298.20,267.01 L298.35,267.37 L298.50,267.71 L298.65,268.05 L298.80,268.37 L298.95,268.68 L299.10,268.98 L299.25,269.27 L299.40,269.54 L299.55,269.81 L299.70,270.06 L299.85,270.30 L300.00,270.52 L300.15,270.74 L300.30,270.94 L300.45,271.13 L300.60,271.31 L300.75,271.47 L300.90,271.63 L301.05,271.77 L301.20,271.90 L301.35,272.01 L301.50,272.12 L301.65,272.21 L301.80,272.29 L301.95,272.35 L302.10,272.41 L302.25,272.45 L302.40,272.48 L302.55,272.50 L302.70,272.50 L302.85,272.49 L303.00,272.47 L303.15,272.44 L303.30,272.39 L303.45,272.34 L303.60,272.27 L303.75,272.19 L303.90,272.09 L304.05,271.98 L304.20,271.87 L304.35,271.73 L304.50,271.59 L304.65,271.43 L304.80,271.27 L304.95,271.08 L305.10,270.89 L305.25,270.69 L305.40,270.47 L305.55,270.24 L305.70,270.00 L305.85,269.74 L306.00,269.48 L306.15,269.20 L306.30,268.91 L306.45,268.61 L306.60,268.29 L306.75,267.97 L306.90,267.63 L307.05,267.28 L307.20,266.92 L307.35,266.54 L307.50,266.16 L307.65,265.76 L307.80,265.35 L307.95,264.93 L308.10,264.50 L308.25,264.05 L308.40,263.60 L308.55,263.13 L308.70,262.65 L308.85,262.16 L309.00,261.66 L309.15,261.15 L309.30,260.62 L309.45,260.09 L309.60,259.54 L309.75,258.98 L309.90,258.42 L310.05,257.84 L310.20,257.25 L310.35,256.65 L310.50,256.03 L310.65,255.41 L310.80,254.78 L310.95,254.13 L311.10,253.48 L311.25,252.81 L311.40,252.14 L311.55,251.45 L311.70,250.75 L311.85,250.05 L312.00,249.33 L312.15,248.60 L312.30,247.87 L312.45,247.12 L312.60,246.36 L312.75,245.60 L312.90,244.82 L313.05,244.04 L313.20,243.24 L313.35,242.44 L313.50,241.62 L313.65,240.80 L313.80,239.97 L313.95,239.12 L314.10,238.27 L314.25,237.41 L314.40,236.55 L314.55,235.67 L314.70,234.78 L314.85,233.89 L315.00,232.98 L315.15,232.07 L315.30,231.15 L315.45,230.22 L315.60,229.29 L315.75,228.34 L315.90,227.39 L316.05,226.43 L316.20,225.46 L316.35,224.48 L316.50,223.50 L316.65,222.51 L316.80,221.51 L316.95,220.50 L317.10,219.49 L317.25,218.47 L317.40,217.44 L317.55,216.41 L317.70,215.37 L317.85,214.32 L318.00,213.27 L318.15,212.21 L318.30,211.14 L318.45,210.07 L318.60,208.99 L318.75,207.90 L318.90,206.81 L319.05,205.71 L319.20,204.61 L319.35,203.50 L319.50,202.39 L319.65,201.27 L319.80,200.14 L319.95,199.01 L320.10,197.88 L320.25,196.74 L320.40,195.59 L320.55,194.44 L320.70,193.29 L320.85,192.13 L321.00,190.97 L321.15,189.80 L321.30,188.63 L321.45,187.45 L321.60,186.27 L321.75,185.09 L321.90,183.91 L322.05,182.72 L322.20,181.52 L322.35,180.32 L322.50,179.12 L322.65,177.92 L322.80,176.72 L322.95,175.51 L323.10,174.30 L323.25,173.08 L323.40,171.86 L323.55,170.65 L323.70,169.42 L323.85,168.20 L324.00,166.98 L324.15,165.75 L324.30,164.52 L324.45,163.29 L324.60,162.06 L324.75,160.82 L324.90,159.59 L325.05,158.35 L325.20,157.12 L325.35,155.88 L325.50,154.64 L325.65,153.40 L325.80,152.16 L325.95,150.92 L326.10,149.68 L326.25,148.44 L326.40,147.20 L326.55,145.97 L326.70,144.73 L326.85,143.49 L327.00,142.25 L327.15,141.01 L327.30,139.77 L327.45,138.54 L327.60,137.30 L327.75,136.07 L327.90,134.83 L328.05,133.60 L328.20,132.37 L328.35,131.14 L328.50,129.92 L328.65,128.69 L328.80,127.47 L328.95,126.25 L329.10,125.03 L329.25,123.81 L329.40,122.60 L329.55,121.39 L329.70,120.18 L329.85,118.97 L330.00,117.77 L330.15,116.57 L330.30,115.37 L330.45,114.18 L330.60,112.99 L330.75,111.80 L330.90,110.62 L331.05,109.44 L331.20,108.27 L331.35,107.10 L331.50,105.93 L331.65,104.77 L331.80,103.61 L331.95,102.45 L332.10,101.31 L332.25,100.16 L332.40,99.02 L332.55,97.89 L332.70,96.76 L332.85,95.63 L333.00,94.51 L333.15,93.40 L333.30,92.29 L333.45,91.19 L333.60,90.09 L333.75,89.00 L333.90,87.92 L334.05,86.84 L334.20,85.77 L334.35,84.70 L334.50,83.64 L334.65,82.59 L334.80,81.54 L334.95,80.50 L335.10,79.47 L335.25,78.44 L335.40,77.42 L335.55,76.41 L335.70,75.40 L335.85,74.40 L336.00,73.41 L336.15,72.43 L336.30,71.45 L336.45,70.49 L336.60,69.53 L336.75,68.57 L336.90,67.63 L337.05,66.69 L337.20,65.77 L337.35,64.85 L337.50,63.94 L337.65,63.03 L337.80,62.14 L337.95,61.25 L338.10,60.38 L338.25,59.51 L338.40,58.65 L338.55,57.80 L338.70,56.96 L338.85,56.13 L339.00,55.30 L339.15,54.49 L339.30,53.69 L339.45,52.89 L339.60,52.11 L339.75,51.33 L339.90,50.57 L340.05,49.81 L340.20,49.07 L340.35,48.33 L340.50,47.60 L340.65,46.89 L340.80,46.18 L340.95,45.49 L341.10,44.80 L341.25,44.13 L341.40,43.46 L341.55,42.81 L341.70,42.17 L341.85,41.53 L342.00,40.91 L342.15,40.30 L342.30,39.70 L342.45,39.11 L342.60,38.53 L342.75,37.97 L342.90,37.41 L343.05,36.86 L343.20,36.33 L343.35,35.81 L343.50,35.29" stroke="#ee1a2e" stroke-width="1.0" fill="none"/>
<path d="M429.88,148.50 L430.02,86.50" stroke="#0072bd" stroke-width="0.9" stroke-dasharray="3,1.5" fill="none"/>
<path d="M430.02,86.50 L430.10,36.90" stroke="#0072bd" stroke-width="0.9" fill="none"/>
<path d="M430.10,36.90 L430.18,37.58 L430.18,37.92 L430.18,38.88 L430.18,40.39 L430.19,42.34 L430.19,44.57 L430.19,46.92 L430.20,49.21 L430.20,51.27 L430.20,52.94 L430.21,54.10 L430.21,54.67 L430.21,54.60 L430.22,53.90 L430.22,52.63 L430.22,50.88 L430.23,48.78 L430.23,46.51 L430.23,44.21 L430.24,42.08 L430.24,40.26 L430.24,38.90 L430.25,38.09 L430.25,37.90 L430.25,38.33 L430.26,39.36 L430.26,40.89 L430.26,42.83 L430.27,45.01 L430.27,47.27 L430.27,49.45 L430.28,51.37 L430.28,52.91 L430.28,53.93 L430.29,54.38 L430.29,54.20 L430.29,53.43 L430.30,52.12 L430.30,50.37 L430.30,48.31 L430.31,46.10 L430.31,43.91 L430.31,41.90 L430.32,40.22 L430.32,39.00 L430.32,38.32 L430.33,38.24 L430.33,38.76 L430.33,39.83 L430.34,41.39 L430.34,43.29 L430.34,45.42 L430.35,47.59 L430.35,49.65 L430.35,51.45 L430.36,52.85 L430.36,53.74 L430.36,54.07 L430.37,53.80 L430.37,52.96 L430.37,51.62 L430.38,49.88 L430.38,47.87 L430.38,45.74 L430.39,43.65 L430.39,41.76 L430.39,40.21 L430.40,39.12 L430.40,38.57 L430.40,38.59 L430.40,39.19 L430.41,40.31 L430.41,41.86 L430.41,43.74 L430.42,45.80 L430.42,47.88 L430.42,49.83 L430.43,51.50 L430.43,52.77 L430.43,53.53 L430.44,53.75 L430.44,53.39 L430.44,52.50 L430.45,51.14 L430.45,49.41 L430.45,47.45 L430.46,45.40 L430.46,43.42 L430.46,41.66 L430.47,40.24 L430.47,39.28 L430.47,38.84 L430.48,38.96 L430.48,39.62 L430.48,40.77 L430.49,42.33 L430.49,44.17 L430.49,46.16 L430.50,48.15 L430.50,49.98 L430.50,51.52 L430.51,52.66 L430.51,53.31 L430.51,53.42 L430.52,52.99 L430.52,52.05 L430.52,50.67 L430.53,48.97 L430.53,47.06 L430.53,45.10 L430.54,43.23 L430.54,41.59 L430.54,40.30 L430.55,39.46 L430.55,39.13 L430.55,39.33 L430.56,40.05 L430.56,41.23 L430.56,42.78 L430.57,44.58 L430.57,46.50 L430.57,48.38 L430.58,50.10 L430.58,51.52 L430.58,52.53 L430.59,53.06 L430.59,53.08 L430.59,52.58 L430.60,51.60 L430.60,50.22 L430.60,48.55 L430.61,46.71 L430.61,44.83 L430.61,43.07 L430.62,41.55 L430.62,40.38 L430.62,39.66 L430.63,39.44 L430.63,39.72 L430.63,40.49 L430.63,41.68 L430.64,43.21 L430.64,44.97 L430.64,46.80 L430.65,48.59 L430.65,50.19 L430.65,51.48 L430.66,52.38 L430.66,52.80 L430.66,52.73 L430.67,52.17 L430.67,51.17 L430.67,49.80 L430.68,48.16 L430.68,46.38 L430.68,44.60 L430.69,42.95 L430.69,41.54 L430.69,40.50 L430.70,39.89 L430.70,39.76 L430.70,40.11 L430.71,40.92 L430.71,42.12 L430.71,43.63 L430.72,45.33 L430.72,47.08 L430.72,48.77 L430.73,50.25 L430.73,51.43 L430.73,52.21 L430.74,52.54 L430.74,52.39 L430.74,51.78 L430.75,50.75 L430.75,49.39 L430.75,47.79 L430.76,46.09 L430.76,44.40 L430.76,42.86 L430.77,41.57 L430.77,40.64 L430.77,40.14 L430.78,40.09 L430.78,40.50 L430.78,41.35 L430.79,42.55 L430.79,44.03 L430.79,45.67 L430.80,47.34 L430.80,48.92 L430.80,50.29 L430.81,51.35 L430.81,52.02 L430.81,52.26 L430.82,52.04 L430.82,51.38 L430.82,50.34 L430.83,49.00 L430.83,47.46 L430.83,45.83 L430.84,44.23 L430.84,42.80 L430.84,41.63 L430.85,40.81 L430.85,40.40 L430.85,40.43 L430.86,40.90 L430.86,41.77 L430.86,42.97 L430.86,44.41 L430.87,45.98 L430.87,47.56 L430.87,49.04 L430.88,50.30 L430.88,51.25 L430.88,51.82 L430.89,51.97 L430.89,51.69 L430.89,51.00 L430.90,49.96 L430.90,48.64 L430.90,47.15 L430.91,45.60 L430.91,44.10 L430.91,42.77 L430.92,41.71 L430.92,41.00 L430.92,40.68 L430.93,40.78 L430.93,41.30 L430.93,42.18 L430.94,43.37 L430.94,44.77 L430.94,46.27 L430.95,47.76 L430.95,49.14 L430.95,50.29 L430.96,51.14 L430.96,51.61 L430.96,51.68 L430.97,51.34 L430.97,50.63 L430.97,49.59 L430.98,48.30 L430.98,46.87 L430.98,45.40 L430.99,44.00 L430.99,42.78 L430.99,41.82 L431.00,41.21 L431.00,40.97 L431.00,41.14 L431.01,41.69 L431.01,42.59 L431.01,43.75 L431.02,45.10 L431.02,46.53 L431.02,47.94 L431.03,49.21 L431.03,50.26 L431.03,51.00 L431.04,51.39 L431.04,51.39 L431.04,51.00 L431.05,50.27 L431.05,49.24 L431.05,47.99 L431.06,46.62 L431.06,45.23 L431.06,43.93 L431.07,42.81 L431.07,41.96 L431.07,41.44 L431.08,41.28 L431.08,41.50 L431.08,42.09 L431.09,42.98 L431.09,44.12 L431.09,45.42 L431.09,46.77 L431.10,48.09 L431.10,49.26 L431.10,50.21 L431.11,50.85 L431.11,51.16 L431.11,51.09 L431.12,50.67 L431.12,49.92 L431.12,48.91 L431.13,47.70 L431.13,46.40 L431.13,45.09 L431.14,43.89 L431.14,42.87 L431.14,42.12 L431.15,41.68 L431.15,41.60 L431.15,41.87 L431.16,42.47 L431.16,43.36 L431.16,44.47 L431.17,45.71 L431.17,46.99 L431.17,48.21 L431.18,49.29 L431.18,50.14 L431.18,50.69 L431.19,50.92 L431.19,50.80 L431.19,50.34 L431.20,49.59 L431.20,48.60 L431.20,47.44 L431.21,46.20 L431.21,44.99 L431.21,43.88 L431.22,42.96 L431.22,42.30 L431.22,41.94 L431.23,41.92 L431.23,42.23 L431.23,42.85 L431.24,43.73 L431.24,44.80 L431.24,45.98 L431.25,47.18 L431.25,48.31 L431.25,49.29 L431.26,50.05 L431.26,50.52 L431.26,50.68 L431.27,50.51 L431.27,50.03 L431.27,49.28 L431.28,48.31 L431.28,47.21 L431.28,46.04 L431.29,44.91 L431.29,43.89 L431.29,43.07 L431.30,42.50 L431.30,42.22 L431.30,42.25 L431.31,42.60 L431.31,43.23 L431.31,44.08 L431.32,45.11 L431.32,46.23 L431.32,47.35 L431.32,48.39 L431.33,49.28 L431.33,49.94 L431.33,50.34 L431.34,50.43 L431.34,50.22 L431.34,49.72 L431.35,48.98 L431.35,48.05 L431.35,47.00 L431.36,45.91 L431.36,44.86 L431.36,43.94 L431.37,43.20 L431.37,42.71 L431.37,42.50 L431.38,42.59 L431.38,42.96 L431.38,43.59 L431.39,44.42 L431.39,45.40 L431.39,46.45 L431.40,47.50 L431.40,48.45 L431.40,49.25 L431.41,49.82 L431.41,50.14 L431.41,50.18 L431.42,49.94 L431.42,49.43 L431.42,48.71 L431.43,47.81 L431.43,46.82 L431.43,45.80 L431.44,44.84 L431.44,44.01 L431.44,43.36 L431.45,42.95 L431.45,42.80 L431.45,42.93 L431.46,43.32 L431.46,43.94 L431.46,44.75 L431.47,45.67 L431.47,46.66 L431.47,47.62 L431.48,48.49 L431.48,49.19 L431.48,49.69 L431.49,49.95 L431.49,49.94 L431.49,49.67 L431.50,49.16 L431.50,48.45 L431.50,47.60 L431.51,46.67 L431.51,45.73 L431.51,44.85 L431.52,44.10 L431.52,43.54 L431.52,43.19 L431.53,43.10 L431.53,43.26 L431.53,43.67 L431.54,44.28 L431.54,45.05 L431.54,45.93 L431.54,46.84 L431.55,47.72 L431.55,48.50 L431.55,49.13 L431.56,49.55 L431.56,49.75 L431.56,49.70 L431.57,49.41 L431.57,48.90 L431.57,48.22 L431.58,47.41 L431.58,46.55 L431.58,45.68 L431.59,44.89 L431.59,44.22 L431.59,43.73 L431.60,43.45 L431.60,43.41 L431.60,43.60 L431.61,44.01 L431.61,44.60 L431.61,45.34 L431.62,46.16 L431.62,47.00 L431.62,47.80 L431.63,48.50 L431.63,49.05 L431.63,49.41 L431.64,49.55 L431.64,49.46 L431.64,49.16 L431.65,48.66 L431.65,48.01 L431.65,47.25 L431.66,46.45 L431.66,45.66 L431.66,44.95 L431.67,44.36 L431.67,43.94 L431.67,43.72 L431.68,43.72 L431.68,43.93 L431.68,44.34 L431.69,44.91 L431.69,45.61 L431.69,46.37 L431.70,47.14 L431.70,47.86 L431.70,48.48 L431.71,48.96 L431.71,49.25 L431.71,49.35 L431.72,49.23 L431.72,48.92 L431.72,48.44 L431.73,47.82 L431.73,47.12 L431.73,46.38 L431.74,45.67 L431.74,45.03 L431.74,44.52 L431.75,44.17 L431.75,44.00 L431.75,44.03 L431.76,44.26 L431.76,44.66 L431.76,45.21 L431.77,45.86 L431.77,46.56 L431.77,47.26 L431.77,47.90 L431.78,48.45 L431.78,48.86 L431.78,49.10 L431.79,49.15 L431.79,49.01 L431.79,48.70 L431.80,48.23 L431.80,47.66 L431.80,47.01 L431.81,46.34 L431.81,45.70 L431.81,45.14 L431.82,44.69 L431.82,44.40 L431.82,44.29 L431.83,44.35 L431.83,44.58 L431.83,44.97 L431.84,45.49 L431.84,46.09 L431.84,46.73 L431.85,47.36 L431.85,47.93 L431.85,48.41 L431.86,48.75 L431.86,48.94 L431.86,48.95 L431.87,48.80 L431.87,48.49 L431.87,48.05 L431.88,47.52 L431.88,46.92 L431.88,46.32 L431.89,45.75 L431.89,45.26 L431.89,44.89 L431.90,44.65 L431.90,44.57 L431.90,44.66 L431.91,44.90 L431.91,45.27 L431.91,45.75 L431.92,46.30 L431.92,46.88 L431.92,47.44 L431.93,47.94 L431.93,48.35 L431.93,48.64 L431.94,48.78 L431.94,48.76 L431.94,48.60 L431.95,48.30 L431.95,47.89 L431.95,47.40 L431.96,46.87 L431.96,46.33 L431.96,45.83 L431.97,45.41 L431.97,45.09 L431.97,44.91 L431.98,44.86 L431.98,44.97 L431.98,45.20 L431.99,45.55 L431.99,46.00 L431.99,46.49 L432.00,47.01 L432.00,47.50 L432.00,47.94 L432.00,48.28 L432.01,48.52 L432.01,48.62 L432.01,48.58 L432.02,48.42 L432.02,48.13 L432.02,47.75 L432.03,47.31 L432.03,46.83 L432.03,46.36 L432.04,45.93 L432.04,45.57 L432.04,45.31 L432.05,45.17 L432.05,45.16 L432.05,45.27 L432.06,45.50 L432.06,45.82 L432.06,46.23 L432.07,46.67 L432.07,47.12 L432.07,47.55 L432.08,47.92 L432.08,48.21 L432.08,48.40 L432.09,48.46 L432.09,48.41 L432.09,48.25 L432.10,47.98 L432.10,47.64 L432.10,47.24 L432.11,46.82 L432.11,46.42 L432.11,46.05 L432.12,45.75 L432.12,45.54 L432.12,45.44 L432.13,45.45 L432.13,45.56 L432.13,45.78 L432.14,46.08 L432.14,46.44 L432.14,46.83 L432.15,47.22 L432.15,47.58 L432.15,47.90 L432.16,48.13 L432.16,48.28 L432.16,48.32 L432.17,48.25 L432.17,48.10 L432.17,47.85 L432.18,47.55 L432.18,47.20 L432.18,46.84 L432.19,46.49 L432.19,46.19 L432.19,45.94 L432.20,45.78 L432.20,45.71 L432.20,45.73 L432.21,45.85 L432.21,46.05 L432.21,46.32 L432.22,46.63 L432.22,46.97 L432.22,47.30 L432.23,47.61 L432.23,47.86 L432.23,48.05 L432.23,48.16 L432.24,48.18 L432.24,48.11 L432.24,47.96 L432.25,47.74 L432.25,47.48 L432.25,47.18 L432.26,46.88 L432.26,46.59 L432.26,46.34 L432.27,46.15 L432.27,46.02 L432.27,45.98 L432.28,46.02 L432.28,46.13 L432.28,46.31 L432.29,46.54 L432.29,46.81 L432.29,47.09 L432.30,47.37 L432.30,47.62 L432.30,47.82 L432.31,47.97 L432.31,48.04 L432.31,48.05 L432.32,47.98 L432.32,47.85 L432.32,47.66 L432.33,47.43 L432.33,47.18 L432.33,46.94 L432.34,46.71 L432.34,46.51 L432.34,46.36 L432.35,46.27 L432.35,46.25 L432.35,46.29 L432.36,46.40 L432.36,46.55 L432.36,46.75 L432.37,46.97 L432.37,47.20 L432.37,47.43 L432.38,47.62 L432.38,47.78 L432.38,47.89 L432.39,47.94 L432.39,47.93 L432.39,47.87 L432.40,47.75 L432.40,47.59 L432.40,47.41 L432.41,47.21 L432.41,47.02 L432.41,46.84 L432.42,46.69 L432.42,46.58 L432.42,46.52 L432.43,46.51 L432.43,46.56 L432.43,46.65 L432.44,46.78 L432.44,46.94 L432.44,47.12 L432.45,47.30 L432.45,47.47 L432.45,47.62 L432.46,47.74 L432.46,47.81 L432.46,47.84 L432.46,47.83 L432.47,47.77 L432.47,47.68 L432.47,47.55 L432.48,47.41 L432.48,47.26 L432.48,47.11 L432.49,46.98 L432.49,46.88 L432.49,46.81 L432.50,46.77 L432.50,46.77 L432.50,46.82 L432.51,46.89 L432.51,47.00 L432.51,47.12 L432.52,47.25 L432.52,47.39 L432.52,47.51 L432.53,47.61 L432.53,47.69 L432.53,47.74 L432.54,47.76 L432.54,47.74 L432.54,47.70 L432.55,47.63 L432.55,47.53 L432.55,47.43 L432.56,47.33 L432.56,47.23 L432.56,47.14 L432.57,47.07 L432.57,47.03 L432.57,47.01 L432.58,47.02 L432.58,47.06 L432.58,47.12 L432.59,47.19 L432.59,47.28 L432.59,47.37 L432.60,47.46 L432.60,47.54 L432.60,47.61 L432.61,47.66 L432.61,47.69 L432.61,47.69 L432.62,47.68 L432.62,47.65 L432.62,47.60 L432.63,47.54 L432.63,47.48 L432.63,47.41 L432.64,47.36 L432.64,47.31 L432.64,47.27 L432.65,47.25 L432.65,47.25 L432.65,47.26 L432.66,47.29 L432.66,47.33 L432.66,47.37 L432.67,47.43 L432.67,47.48 L432.67,47.53 L432.68,47.58 L432.68,47.61 L432.68,47.64 L432.69,47.65 L432.69,47.65 L432.69,47.64 L432.69,47.62 L432.70,47.60 L432.70,47.57 L432.70,47.54 L432.71,47.52 L432.71,47.49 L432.71,47.48 L432.72,47.47 L432.72,47.46 L432.72,47.47 L432.73,47.48 L432.73,47.50 L432.73,47.52 L432.74,47.54 L432.74,47.56 L432.74,47.58 L432.75,47.60 L432.75,47.62 L432.75,47.63 L432.76,47.64 L432.76,47.64 L432.76,47.64 L432.77,47.64 L432.77,47.64 L432.77,47.63 L432.78,47.63 L432.78,47.63 L432.78,47.63 L432.79,47.63 L432.79,47.64 L432.79,47.64 L432.80,47.65 L432.80,47.66" stroke="#0072bd" stroke-width="0.8" fill="none"/>
<path d="M429.50,45.17 L429.65,45.17 L429.80,45.19 L429.95,45.21 L430.10,45.25 L430.25,45.30 L430.40,45.35 L430.55,45.42 L430.70,45.50 L430.85,45.58 L431.00,45.68 L431.15,45.79 L431.30,45.91 L431.45,46.04 L431.60,46.18 L431.75,46.33 L431.90,46.49 L432.05,46.66 L432.20,46.84 L432.35,47.03 L432.50,47.23 L432.65,47.44 L432.80,47.66 L432.95,47.89 L433.10,48.13 L433.25,48.38 L433.40,48.64 L433.55,48.91 L433.70,49.19 L433.85,49.48 L434.00,49.78 L434.15,50.09 L434.30,50.41 L434.45,50.74 L434.60,51.08 L434.75,51.43 L434.90,51.79 L435.05,52.16 L435.20,52.54 L435.35,52.93 L435.50,53.32 L435.65,53.73 L435.80,54.15 L435.95,54.57 L436.10,55.01 L436.25,55.45 L436.40,55.91 L436.55,56.37 L436.70,56.84 L436.85,57.33 L437.00,57.82 L437.15,58.32 L437.30,58.83 L437.45,59.34 L437.60,59.87 L437.75,60.41 L437.90,60.95 L438.05,61.50 L438.20,62.07 L438.35,62.64 L438.50,63.22 L438.65,63.80 L438.80,64.40 L438.95,65.00 L439.10,65.62 L439.25,66.24 L439.40,66.87 L439.55,67.51 L439.70,68.15 L439.85,68.80 L440.00,69.47 L440.15,70.14 L440.30,70.81 L440.45,71.50 L440.60,72.19 L440.75,72.89 L440.90,73.60 L441.05,74.32 L441.20,75.04 L441.35,75.77 L441.50,76.51 L441.65,77.25 L441.80,78.00 L441.95,78.76 L442.10,79.53 L442.25,80.30 L442.40,81.08 L442.55,81.87 L442.70,82.66 L442.85,83.46 L443.00,84.27 L443.15,85.08 L443.30,85.90 L443.45,86.72 L443.60,87.56 L443.75,88.39 L443.90,89.24 L444.05,90.09 L444.20,90.94 L444.35,91.80 L444.50,92.67 L444.65,93.54 L444.80,94.42 L444.95,95.30 L445.10,96.19 L445.25,97.08 L445.40,97.98 L445.55,98.89 L445.70,99.80 L445.85,100.71 L446.00,101.63 L446.15,102.55 L446.30,103.48 L446.45,104.41 L446.60,105.35 L446.75,106.29 L446.90,107.23 L447.05,108.18 L447.20,109.14 L447.35,110.10 L447.50,111.06 L447.65,112.02 L447.80,112.99 L447.95,113.96 L448.10,114.94 L448.25,115.92 L448.40,116.90 L448.55,117.88 L448.70,118.87 L448.85,119.86 L449.00,120.86 L449.15,121.86 L449.30,122.86 L449.45,123.86 L449.60,124.86 L449.75,125.87 L449.90,126.88 L450.05,127.89 L450.20,128.90 L450.35,129.92 L450.50,130.94 L450.65,131.96 L450.80,132.98 L450.95,134.00 L451.10,135.02 L451.25,136.05 L451.40,137.07 L451.55,138.10 L451.70,139.13 L451.85,140.16 L452.00,141.19 L452.15,142.22 L452.30,143.25 L452.45,144.29 L452.60,145.32 L452.75,146.35 L452.90,147.38 L453.05,148.42 L453.20,149.45 L453.35,150.48 L453.50,151.52 L453.65,152.55 L453.80,153.58 L453.95,154.61 L454.10,155.65 L454.25,156.68 L454.40,157.71 L454.55,158.73 L454.70,159.76 L454.85,160.79 L455.00,161.81 L455.15,162.84 L455.30,163.86 L455.45,164.88 L455.60,165.90 L455.75,166.92 L455.90,167.93 L456.05,168.95 L456.20,169.96 L456.35,170.97 L456.50,171.98 L456.65,172.98 L456.80,173.99 L456.95,174.99 L457.10,175.98 L457.25,176.98 L457.40,177.97 L457.55,178.96 L457.70,179.94 L457.85,180.93 L458.00,181.91 L458.15,182.88 L458.30,183.86 L458.45,184.82 L458.60,185.79 L458.75,186.75 L458.90,187.71 L459.05,188.66 L459.20,189.61 L459.35,190.56 L459.50,191.50 L459.65,192.44 L459.80,193.37 L459.95,194.30 L460.10,195.22 L460.25,196.14 L460.40,197.06 L460.55,197.97 L460.70,198.87 L460.85,199.77 L461.00,200.67 L461.15,201.56 L461.30,202.44 L461.45,203.32 L461.60,204.19 L461.75,205.06 L461.90,205.92 L462.05,206.78 L462.20,207.63 L462.35,208.47 L462.50,209.31 L462.65,210.14 L462.80,210.97 L462.95,211.79 L463.10,212.60 L463.25,213.41 L463.40,214.21 L463.55,215.01 L463.70,215.79 L463.85,216.57 L464.00,217.35 L464.15,218.12 L464.30,218.88 L464.45,219.63 L464.60,220.37 L464.75,221.11 L464.90,221.85 L465.05,222.57 L465.20,223.29 L465.35,224.00 L465.50,224.70 L465.65,225.39 L465.80,226.08 L465.95,226.76 L466.10,227.43 L466.25,228.09 L466.40,228.75 L466.55,229.39 L466.70,230.03 L466.85,230.66 L467.00,231.28 L467.15,231.90 L467.30,232.51 L467.45,233.10 L467.60,233.69 L467.75,234.27 L467.90,234.84 L468.05,235.41 L468.20,235.96 L468.35,236.51 L468.50,237.05 L468.65,237.57 L468.80,238.09 L468.95,238.60 L469.10,239.10 L469.25,239.60 L469.40,240.08 L469.55,240.55 L469.70,241.02 L469.85,241.47 L470.00,241.92 L470.15,242.36 L470.30,242.79 L470.45,243.20 L470.60,243.61 L470.75,244.01 L470.90,244.40 L471.05,244.78 L471.20,245.15 L471.35,245.51 L471.50,245.86 L471.65,246.20 L471.80,246.54 L471.95,246.86 L472.10,247.17 L472.25,247.47 L472.40,247.76 L472.55,248.05 L472.70,248.32 L472.85,248.58 L473.00,248.83 L473.15,249.07 L473.30,249.31 L473.45,249.53 L473.60,249.74 L473.75,249.94 L473.90,250.13 L474.05,250.32 L474.20,250.49 L474.35,250.65 L474.50,250.80 L474.65,250.94 L474.80,251.07 L474.95,251.19 L475.10,251.30 L475.25,251.40 L475.40,251.49 L475.55,251.57 L475.70,251.64 L475.85,251.70 L476.00,251.74 L476.15,251.78 L476.30,251.81 L476.45,251.83 L476.60,251.83 L476.75,251.83 L476.90,251.82 L477.05,251.79 L477.20,251.76 L477.35,251.71 L477.50,251.66 L477.65,251.59 L477.80,251.52 L477.95,251.43 L478.10,251.33 L478.25,251.23 L478.40,251.11 L478.55,250.98 L478.70,250.85 L478.85,250.70 L479.00,250.54 L479.15,250.37 L479.30,250.19 L479.45,250.00 L479.60,249.81 L479.75,249.60 L479.90,249.38 L480.05,249.15 L480.20,248.91 L480.35,248.66 L480.50,248.40 L480.65,248.13 L480.80,247.85 L480.95,247.57 L481.10,247.27 L481.25,246.96 L481.40,246.64 L481.55,246.31 L481.70,245.97 L481.85,245.62 L482.00,245.27 L482.15,244.90 L482.30,244.52 L482.45,244.14 L482.60,243.74 L482.75,243.33 L482.90,242.92 L483.05,242.49 L483.20,242.06 L483.35,241.62 L483.50,241.17 L483.65,240.70 L483.80,240.23 L483.95,239.75 L484.10,239.26 L484.25,238.76 L484.40,238.26 L484.55,237.74 L484.70,237.21 L484.85,236.68 L485.00,236.14 L485.15,235.59 L485.30,235.02 L485.45,234.46 L485.60,233.88 L485.75,233.29 L485.90,232.70 L486.05,232.09 L486.20,231.48 L486.35,230.86 L486.50,230.23 L486.65,229.60 L486.80,228.95 L486.95,228.30 L487.10,227.64 L487.25,226.97 L487.40,226.30 L487.55,225.61 L487.70,224.92 L487.85,224.22 L488.00,223.51 L488.15,222.80 L488.30,222.08 L488.45,221.35 L488.60,220.61 L488.75,219.87 L488.90,219.12 L489.05,218.36 L489.20,217.59 L489.35,216.82 L489.50,216.04 L489.65,215.26 L489.80,214.47 L489.95,213.67 L490.10,212.86 L490.25,212.05 L490.40,211.23 L490.55,210.41 L490.70,209.58 L490.85,208.74 L491.00,207.90 L491.15,207.05 L491.30,206.20 L491.45,205.34 L491.60,204.47 L491.75,203.60 L491.90,202.72 L492.05,201.84 L492.20,200.95 L492.35,200.06 L492.50,199.16 L492.65,198.26 L492.80,197.35 L492.95,196.44 L493.10,195.52 L493.25,194.60 L493.40,193.67 L493.55,192.74 L493.70,191.80 L493.85,190.86 L494.00,189.92 L494.15,188.97 L494.30,188.01 L494.45,187.06 L494.60,186.10 L494.75,185.13 L494.90,184.16 L495.05,183.19 L495.20,182.22 L495.35,181.24 L495.50,180.26 L495.65,179.27 L495.80,178.28 L495.95,177.29 L496.10,176.30 L496.25,175.30 L496.40,174.30 L496.55,173.30 L496.70,172.30 L496.85,171.29 L497.00,170.28 L497.15,169.27 L497.30,168.26 L497.45,167.24 L497.60,166.23 L497.75,165.21 L497.90,164.19 L498.05,163.16 L498.20,162.14 L498.35,161.12 L498.50,160.09 L498.65,159.06 L498.80,158.03 L498.95,157.00 L499.10,155.97 L499.25,154.94 L499.40,153.91 L499.55,152.88 L499.70,151.85 L499.85,150.81 L500.00,149.78 L500.15,148.75 L500.30,147.71 L500.45,146.68 L500.60,145.65 L500.75,144.61 L500.90,143.58 L501.05,142.55 L501.20,141.52 L501.35,140.49 L501.50,139.46 L501.65,138.43 L501.80,137.40 L501.95,136.37 L502.10,135.35 L502.25,134.33 L502.40,133.30 L502.55,132.28 L502.70,131.26 L502.85,130.24 L503.00,129.23 L503.15,128.21 L503.30,127.20 L503.45,126.19 L503.60,125.18 L503.75,124.18 L503.90,123.17 L504.05,122.17 L504.20,121.18 L504.35,120.18 L504.50,119.19 L504.65,118.20 L504.80,117.21 L504.95,116.23 L505.10,115.25 L505.25,114.27 L505.40,113.30 L505.55,112.33 L505.70,111.36 L505.85,110.40 L506.00,109.44 L506.15,108.49 L506.30,107.54 L506.45,106.59 L506.60,105.65 L506.75,104.71 L506.90,103.78 L507.05,102.85 L507.20,101.92 L507.35,101.00 L507.50,100.09 L507.65,99.18 L507.80,98.27 L507.95,97.37 L508.10,96.47 L508.25,95.58 L508.40,94.70 L508.55,93.82 L508.70,92.95 L508.85,92.08 L509.00,91.21 L509.15,90.36 L509.30,89.51 L509.45,88.66 L509.60,87.82 L509.75,86.99 L509.90,86.16 L510.05,85.34 L510.20,84.53 L510.35,83.72 L510.50,82.92 L510.65,82.12 L510.80,81.33 L510.95,80.55 L511.10,79.77 L511.25,79.01 L511.40,78.24 L511.55,77.49 L511.70,76.74 L511.85,76.00 L512.00,75.27 L512.15,74.55 L512.30,73.83 L512.45,73.12 L512.60,72.41 L512.75,71.72 L512.90,71.03 L513.05,70.35 L513.20,69.68 L513.35,69.01 L513.50,68.36 L513.65,67.71 L513.80,67.07 L513.95,66.44 L514.10,65.81 L514.25,65.20 L514.40,64.59 L514.55,63.99 L514.70,63.40 L514.85,62.82 L515.00,62.25 L515.15,61.68 L515.30,61.13 L515.45,60.58 L515.60,60.04 L515.75,59.51 L515.90,58.99 L516.05,58.48 L516.20,57.97 L516.35,57.48 L516.50,57.00 L516.65,56.52 L516.80,56.05 L516.95,55.60 L517.10,55.15 L517.25,54.71 L517.40,54.28 L517.55,53.86 L517.70,53.45 L517.85,53.05 L518.00,52.66 L518.15,52.28 L518.30,51.91 L518.45,51.54 L518.60,51.19 L518.75,50.85 L518.90,50.52 L519.05,50.19 L519.20,49.88 L519.35,49.58 L519.50,49.28 L519.65,49.00 L519.80,48.72 L519.95,48.46 L520.10,48.21 L520.25,47.96 L520.40,47.73 L520.55,47.51 L520.70,47.29 L520.85,47.09 L521.00,46.90 L521.15,46.71 L521.30,46.54 L521.45,46.38 L521.60,46.22 L521.75,46.08 L521.90,45.95 L522.05,45.83 L522.20,45.72 L522.35,45.61 L522.50,45.52 L522.65,45.44 L522.80,45.37 L522.95,45.31 L523.10,45.26 L523.25,45.22 L523.40,45.19 L523.55,45.18 L523.70,45.17 L523.85,45.17 L524.00,45.18 L524.15,45.20 L524.30,45.24 L524.45,45.28 L524.60,45.33 L524.75,45.40 L524.90,45.47 L525.05,45.56 L525.20,45.65 L525.35,45.76 L525.50,45.87 L525.65,46.00 L525.80,46.13 L525.95,46.28 L526.10,46.43 L526.25,46.60 L526.40,46.78 L526.55,46.96 L526.70,47.16 L526.85,47.37 L527.00,47.59 L527.15,47.81 L527.30,48.05 L527.45,48.30 L527.60,48.56 L527.75,48.82 L527.90,49.10 L528.05,49.39 L528.20,49.69 L528.35,49.99 L528.50,50.31 L528.65,50.64 L528.80,50.97 L528.95,51.32 L529.10,51.68 L529.25,52.04 L529.40,52.42 L529.55,52.80 L529.70,53.20 L529.85,53.60 L530.00,54.01 L530.15,54.44 L530.30,54.87 L530.45,55.31 L530.60,55.76 L530.75,56.22 L530.90,56.69 L531.05,57.17 L531.20,57.66 L531.35,58.16 L531.50,58.66 L531.65,59.18 L531.80,59.70 L531.95,60.23 L532.10,60.78 L532.25,61.33 L532.40,61.89 L532.55,62.45 L532.70,63.03 L532.85,63.61 L533.00,64.21 L533.15,64.81 L533.30,65.42 L533.45,66.04 L533.60,66.67 L533.75,67.30 L533.90,67.94 L534.05,68.60 L534.20,69.25 L534.35,69.92 L534.50,70.60 L534.65,71.28 L534.80,71.97 L534.95,72.67 L535.10,73.37 L535.25,74.09 L535.40,74.81 L535.55,75.54 L535.70,76.27 L535.85,77.01 L536.00,77.76 L536.15,78.52 L536.30,79.28 L536.45,80.05 L536.60,80.83 L536.75,81.62 L536.90,82.41 L537.05,83.21 L537.20,84.01 L537.35,84.82 L537.50,85.64 L537.65,86.46 L537.80,87.29 L537.95,88.13 L538.10,88.97 L538.25,89.81 L538.40,90.67 L538.55,91.53 L538.70,92.39 L538.85,93.26 L539.00,94.14 L539.15,95.02 L539.30,95.91 L539.45,96.80 L539.60,97.70 L539.75,98.60 L539.90,99.51 L540.05,100.42 L540.20,101.34 L540.35,102.26 L540.50,103.18 L540.65,104.11 L540.80,105.05 L540.95,105.99 L541.10,106.93 L541.25,107.88 L541.40,108.83 L541.55,109.79 L541.70,110.75 L541.85,111.71 L542.00,112.68 L542.15,113.65 L542.30,114.63 L542.45,115.60 L542.60,116.59 L542.75,117.57 L542.90,118.56 L543.05,119.55 L543.20,120.54 L543.35,121.54 L543.50,122.54 L543.65,123.54 L543.80,124.54 L543.95,125.55 L544.10,126.56 L544.25,127.57 L544.40,128.58 L544.55,129.60 L544.70,130.61 L544.85,131.63 L545.00,132.65 L545.15,133.67 L545.30,134.70 L545.45,135.72 L545.60,136.75 L545.75,137.77 L545.90,138.80 L546.05,139.83 L546.20,140.86 L546.35,141.89 L546.50,142.92 L546.65,143.96 L546.80,144.99 L546.95,146.02 L547.10,147.06 L547.25,148.09 L547.40,149.12 L547.55,150.16 L547.70,151.19 L547.85,152.22 L548.00,153.25 L548.15,154.29 L548.30,155.32 L548.45,156.35 L548.60,157.38 L548.75,158.41 L548.90,159.43 L549.05,160.46 L549.20,161.49 L549.35,162.51 L549.50,163.54 L549.65,164.56 L549.80,165.58 L549.95,166.59 L550.10,167.61 L550.25,168.63 L550.40,169.64 L550.55,170.65 L550.70,171.66 L550.85,172.66 L551.00,173.67 L551.15,174.67 L551.30,175.67 L551.45,176.66 L551.60,177.65 L551.75,178.64 L551.90,179.63 L552.05,180.61 L552.20,181.59 L552.35,182.57 L552.50,183.55 L552.65,184.52 L552.80,185.48 L552.95,186.45 L553.10,187.41 L553.25,188.36 L553.40,189.31 L553.55,190.26 L553.70,191.20 L553.85,192.14 L554.00,193.08 L554.15,194.01 L554.30,194.93 L554.45,195.85 L554.60,196.77 L554.75,197.68 L554.90,198.59 L555.05,199.49 L555.20,200.38 L555.35,201.27 L555.50,202.16 L555.65,203.04 L555.80,203.92 L555.95,204.78 L556.10,205.65 L556.25,206.51 L556.40,207.36 L556.55,208.20 L556.70,209.05 L556.85,209.88 L557.00,210.71 L557.15,211.53 L557.30,212.35 L557.45,213.15 L557.60,213.96 L557.75,214.75 L557.90,215.54 L558.05,216.33 L558.20,217.10 L558.35,217.87 L558.50,218.63 L558.65,219.39 L558.80,220.14 L558.95,220.88 L559.10,221.61 L559.25,222.34 L559.40,223.06 L559.55,223.77 L559.70,224.47 L559.85,225.17 L560.00,225.86 L560.15,226.54 L560.30,227.21 L560.45,227.88 L560.60,228.54 L560.75,229.19 L560.90,229.83 L561.05,230.46 L561.20,231.09 L561.35,231.70 L561.50,232.31 L561.65,232.91 L561.80,233.50 L561.95,234.09 L562.10,234.66 L562.25,235.23 L562.40,235.79 L562.55,236.34 L562.70,236.88 L562.85,237.41 L563.00,237.93 L563.15,238.44 L563.30,238.95 L563.45,239.44 L563.60,239.93 L563.75,240.40 L563.90,240.87 L564.05,241.33 L564.20,241.78 L564.35,242.22 L564.50,242.65 L564.65,243.07 L564.80,243.48 L564.95,243.89 L565.10,244.28 L565.25,244.66 L565.40,245.03 L565.55,245.40 L565.70,245.75 L565.85,246.10 L566.00,246.43 L566.15,246.76 L566.30,247.07 L566.45,247.38 L566.60,247.67 L566.75,247.96 L566.90,248.23 L567.05,248.50 L567.20,248.75 L567.35,249.00 L567.50,249.23 L567.65,249.46 L567.80,249.67 L567.95,249.88 L568.10,250.07 L568.25,250.26 L568.40,250.43 L568.55,250.60 L568.70,250.75 L568.85,250.90 L569.00,251.03 L569.15,251.15 L569.30,251.27 L569.45,251.37 L569.60,251.46 L569.75,251.54 L569.90,251.62 L570.05,251.68 L570.20,251.73 L570.35,251.77 L570.50,251.80 L570.65,251.82 L570.80,251.83 L570.95,251.83 L571.10,251.82 L571.25,251.80 L571.40,251.77 L571.55,251.73 L571.70,251.68 L571.85,251.61 L572.00,251.54 L572.15,251.46 L572.30,251.37 L572.45,251.26 L572.60,251.15 L572.75,251.02 L572.90,250.89 L573.05,250.75 L573.20,250.59 L573.35,250.43 L573.50,250.25 L573.65,250.07 L573.80,249.87 L573.95,249.66 L574.10,249.45 L574.25,249.22 L574.40,248.99 L574.55,248.74 L574.70,248.49 L574.85,248.22 L575.00,247.94 L575.15,247.66 L575.30,247.36 L575.45,247.06 L575.60,246.74 L575.75,246.42 L575.90,246.08 L576.05,245.74 L576.20,245.38 L576.35,245.02 L576.50,244.64 L576.65,244.26 L576.80,243.87 L576.95,243.46 L577.10,243.05 L577.25,242.63 L577.40,242.20 L577.55,241.76 L577.70,241.31 L577.85,240.85 L578.00,240.38 L578.15,239.91 L578.30,239.42 L578.45,238.92 L578.60,238.42 L578.75,237.91 L578.90,237.38 L579.05,236.85 L579.20,236.31 L579.35,235.76 L579.50,235.20 L579.65,234.64 L579.80,234.06 L579.95,233.48 L580.10,232.89 L580.25,232.29 L580.40,231.68 L580.55,231.06 L580.70,230.43 L580.85,229.80 L581.00,229.16 L581.15,228.51 L581.30,227.85 L581.45,227.18 L581.60,226.51 L581.75,225.83 L581.90,225.14 L582.05,224.44 L582.20,223.74 L582.35,223.03 L582.50,222.31 L582.65,221.58 L582.80,220.85 L582.95,220.10 L583.10,219.36 L583.25,218.60 L583.40,217.84 L583.55,217.07 L583.70,216.29 L583.85,215.51 L584.00,214.72 L584.15,213.92 L584.30,213.12 L584.45,212.31 L584.60,211.49 L584.75,210.67 L584.90,209.84 L585.05,209.01 L585.20,208.17 L585.35,207.32 L585.50,206.47 L585.65,205.61 L585.80,204.75 L585.95,203.88 L586.10,203.00 L586.25,202.12 L586.40,201.23 L586.55,200.34 L586.70,199.45 L586.85,198.55 L587.00,197.64 L587.15,196.73 L587.30,195.81 L587.45,194.89 L587.60,193.96 L587.75,193.03 L587.90,192.10 L588.05,191.16 L588.20,190.22 L588.35,189.27 L588.50,188.32 L588.65,187.36 L588.80,186.40 L588.95,185.44 L589.10,184.47 L589.25,183.50 L589.40,182.53 L589.55,181.55 L589.70,180.57 L589.85,179.59 L590.00,178.60 L590.15,177.61 L590.30,176.62 L590.45,175.62 L590.60,174.62 L590.75,173.62 L590.90,172.62 L591.05,171.61 L591.20,170.60 L591.35,169.59 L591.50,168.58 L591.65,167.57 L591.80,166.55 L591.95,165.53 L592.10,164.51 L592.25,163.49 L592.40,162.47 L592.55,161.44 L592.70,160.42 L592.85,159.39 L593.00,158.36 L593.15,157.33 L593.30,156.30 L593.45,155.27 L593.60,154.24 L593.75,153.21 L593.90,152.18 L594.05,151.14 L594.20,150.11 L594.35,149.08 L594.50,148.04 L594.65,147.01 L594.80,145.98 L594.95,144.94 L595.10,143.91 L595.25,142.88 L595.40,141.85 L595.55,140.82 L595.70,139.79 L595.85,138.76 L596.00,137.73 L596.15,136.70 L596.30,135.68 L596.45,134.65 L596.60,133.63 L596.75,132.61 L596.90,131.59 L597.05,130.57 L597.20,129.55 L597.35,128.54 L597.50,127.52 L597.65,126.51 L597.80,125.50 L597.95,124.50 L598.10,123.49 L598.25,122.49 L598.40,121.49 L598.55,120.50 L598.70,119.50 L598.85,118.51 L599.00,117.53 L599.15,116.54 L599.30,115.56 L599.45,114.58 L599.60,113.61 L599.75,112.64 L599.90,111.67 L600.05,110.71 L600.20,109.75 L600.35,108.79 L600.50,107.84 L600.65,106.89 L600.80,105.95 L600.95,105.01 L601.10,104.07 L601.25,103.14 L601.40,102.22 L601.55,101.29 L601.70,100.38 L601.85,99.47 L602.00,98.56 L602.15,97.66 L602.30,96.76 L602.45,95.87 L602.60,94.98 L602.75,94.10 L602.90,93.22 L603.05,92.35 L603.20,91.49 L603.35,90.63 L603.50,89.78 L603.65,88.93 L603.80,88.09 L603.95,87.25 L604.10,86.42 L604.25,85.60 L604.40,84.78 L604.55,83.97 L604.70,83.17 L604.85,82.37 L605.00,81.58 L605.15,80.80 L605.30,80.02 L605.45,79.25 L605.60,78.49 L605.75,77.73 L605.90,76.98 L606.05,76.24 L606.20,75.50 L606.35,74.78 L606.50,74.06 L606.65,73.34 L606.80,72.64 L606.95,71.94 L607.10,71.25 L607.25,70.57 L607.40,69.89 L607.55,69.23 L607.70,68.57 L607.85,67.92 L608.00,67.27 L608.15,66.64 L608.30,66.01 L608.45,65.39 L608.60,64.78 L608.75,64.18 L608.90,63.59 L609.05,63.00 L609.20,62.43 L609.35,61.86 L609.50,61.30 L609.65,60.75 L609.80,60.21 L609.95,59.68 L610.10,59.15 L610.25,58.64 L610.40,58.13 L610.55,57.64 L610.70,57.15 L610.85,56.67 L611.00,56.20 L611.15,55.74 L611.30,55.29 L611.45,54.85 L611.60,54.42 L611.75,54.00 L611.90,53.58 L612.05,53.18 L612.20,52.78 L612.35,52.40 L612.50,52.02 L612.65,51.66 L612.80,51.30 L612.95,50.96 L613.10,50.62 L613.25,50.30 L613.40,49.98 L613.55,49.67 L613.70,49.37 L613.85,49.09 L614.00,48.81 L614.15,48.54 L614.30,48.29 L614.45,48.04 L614.60,47.80 L614.75,47.58 L614.90,47.36 L615.05,47.15 L615.20,46.96 L615.35,46.77 L615.50,46.59 L615.65,46.43 L615.80,46.27 L615.95,46.13 L616.10,45.99 L616.25,45.87 L616.40,45.75 L616.55,45.65 L616.70,45.55 L616.85,45.47 L617.00,45.39 L617.15,45.33 L617.30,45.28 L617.45,45.24 L617.60,45.20 L617.75,45.18 L617.90,45.17 L618.05,45.17 L618.20,45.18 L618.35,45.20 L618.50,45.23 L618.65,45.26 L618.80,45.32 L618.95,45.38 L619.10,45.45 L619.25,45.53 L619.40,45.62 L619.55,45.72 L619.70,45.83 L619.85,45.96 L620.00,46.09 L620.15,46.23 L620.30,46.38 L620.45,46.55 L620.60,46.72 L620.75,46.90 L620.90,47.10 L621.05,47.30 L621.20,47.52 L621.35,47.74 L621.50,47.97 L621.65,48.22 L621.80,48.47 L621.95,48.74 L622.10,49.01 L622.25,49.30 L622.40,49.59 L622.55,49.89 L622.70,50.21 L622.85,50.53 L623.00,50.86 L623.15,51.21 L623.30,51.56 L623.45,51.92 L623.60,52.30 L623.75,52.68 L623.90,53.07 L624.05,53.47 L624.20,53.88 L624.35,54.30 L624.50,54.73 L624.65,55.17 L624.80,55.62 L624.95,56.08 L625.10,56.54 L625.25,57.02 L625.40,57.50 L625.55,58.00 L625.70,58.50 L625.85,59.01 L626.00,59.53 L626.15,60.06 L626.30,60.60 L626.45,61.15 L626.60,61.71 L626.75,62.27 L626.90,62.85 L627.05,63.43 L627.20,64.02 L627.35,64.62 L627.50,65.23 L627.65,65.84 L627.80,66.47 L627.95,67.10 L628.10,67.74 L628.25,68.39 L628.40,69.04 L628.55,69.71 L628.70,70.38 L628.85,71.06 L629.00,71.75 L629.15,72.44 L629.30,73.15 L629.45,73.86 L629.60,74.58 L629.75,75.30 L629.90,76.04 L630.05,76.78 L630.20,77.52 L630.35,78.28 L630.50,79.04 L630.65,79.81 L630.80,80.58 L630.95,81.37 L631.10,82.16 L631.25,82.95 L631.40,83.75 L631.55,84.56 L631.70,85.38 L631.85,86.20 L632.00,87.02 L632.15,87.86 L632.30,88.70 L632.45,89.54 L632.60,90.40 L632.75,91.25 L632.90,92.12 L633.05,92.98 L633.20,93.86 L633.35,94.74 L633.50,95.62 L633.65,96.51 L633.80,97.41 L633.95,98.31 L634.10,99.22 L634.25,100.13 L634.40,101.04 L634.55,101.96 L634.70,102.89 L634.85,103.82 L635.00,104.75 L635.15,105.69 L635.30,106.63 L635.45,107.58 L635.60,108.53 L635.75,109.48 L635.90,110.44 L636.05,111.41 L636.20,112.37 L636.35,113.34 L636.50,114.32 L636.65,115.29 L636.80,116.27 L636.95,117.26 L637.10,118.24 L637.25,119.23 L637.40,120.22 L637.55,121.22 L637.70,122.22 L637.85,123.22 L638.00,124.22 L638.15,125.23 L638.30,126.24 L638.45,127.25 L638.60,128.26 L638.75,129.27 L638.90,130.29 L639.05,131.31 L639.20,132.33 L639.35,133.35 L639.50,134.37 L639.65,135.39 L639.80,136.42 L639.95,137.45 L640.10,138.48 L640.25,139.50 L640.40,140.53 L640.55,141.56 L640.70,142.60 L640.85,143.63 L641.00,144.66 L641.15,145.69 L641.30,146.73 L641.45,147.76 L641.60,148.79 L641.75,149.83 L641.90,150.86 L642.05,151.89 L642.20,152.92 L642.35,153.96 L642.50,154.99 L642.65,156.02 L642.80,157.05 L642.95,158.08 L643.10,159.11 L643.25,160.13 L643.40,161.16 L643.55,162.19 L643.70,163.21 L643.85,164.23 L644.00,165.25 L644.15,166.27 L644.30,167.29 L644.45,168.30 L644.60,169.32 L644.75,170.33 L644.90,171.34 L645.05,172.34 L645.20,173.35 L645.35,174.35 L645.50,175.35 L645.65,176.34 L645.80,177.34 L645.95,178.33 L646.10,179.32 L646.25,180.30 L646.40,181.28 L646.55,182.26 L646.70,183.24 L646.85,184.21 L647.00,185.18 L647.15,186.14 L647.30,187.10 L647.45,188.06 L647.60,189.01 L647.75,189.96 L647.90,190.90 L648.05,191.84 L648.20,192.78 L648.35,193.71 L648.50,194.64 L648.65,195.56 L648.80,196.48 L648.95,197.39 L649.10,198.30 L649.25,199.20 L649.40,200.10 L649.55,200.99 L649.70,201.88 L649.85,202.76 L650.00,203.64 L650.15,204.51 L650.30,205.37 L650.45,206.23 L650.60,207.09 L650.75,207.94 L650.90,208.78 L651.05,209.61 L651.20,210.44 L651.35,211.27 L651.50,212.09 L651.65,212.90 L651.80,213.70 L651.95,214.50 L652.10,215.29 L652.25,216.08 L652.40,216.86 L652.55,217.63 L652.70,218.39 L652.85,219.15 L653.00,219.90 L653.15,220.64 L653.30,221.38 L653.45,222.11 L653.60,222.83 L653.75,223.54 L653.90,224.25 L654.05,224.95 L654.20,225.64 L654.35,226.33 L654.50,227.00 L654.65,227.67 L654.80,228.33 L654.95,228.98 L655.10,229.63 L655.25,230.26 L655.40,230.89 L655.55,231.51 L655.70,232.12 L655.85,232.72 L656.00,233.32 L656.15,233.90 L656.30,234.48 L656.45,235.05 L656.60,235.61 L656.75,236.16 L656.90,236.70 L657.05,237.24 L657.20,237.76 L657.35,238.28 L657.50,238.79 L657.65,239.28 L657.80,239.77 L657.95,240.25 L658.10,240.72 L658.25,241.19 L658.40,241.64 L658.55,242.08 L658.70,242.51 L658.85,242.94 L659.00,243.35 L659.15,243.76 L659.30,244.15 L659.45,244.54 L659.60,244.92 L659.75,245.28 L659.90,245.64 L660.05,245.99 L660.20,246.33 L660.35,246.65 L660.50,246.97 L660.65,247.28 L660.80,247.58 L660.95,247.87 L661.10,248.15 L661.25,248.41 L661.40,248.67 L661.55,248.92 L661.70,249.16 L661.85,249.39 L662.00,249.61 L662.15,249.82 L662.30,250.01 L662.45,250.20 L662.60,250.38 L662.75,250.55 L662.90,250.70 L663.05,250.85 L663.20,250.99 L663.35,251.12 L663.50,251.23 L663.65,251.34 L663.80,251.43 L663.95,251.52 L664.10,251.59 L664.25,251.66 L664.40,251.71 L664.55,251.76 L664.70,251.79 L664.85,251.82 L665.00,251.83 L665.15,251.83 L665.30,251.83 L665.45,251.81 L665.60,251.78 L665.75,251.74 L665.90,251.69 L666.05,251.63 L666.20,251.57 L666.35,251.49 L666.50,251.40 L666.65,251.30 L666.80,251.19 L666.95,251.06 L667.10,250.93 L667.25,250.79 L667.40,250.64 L667.55,250.48 L667.70,250.31 L667.85,250.13 L668.00,249.93 L668.15,249.73 L668.30,249.52 L668.45,249.30 L668.60,249.06 L668.75,248.82 L668.90,248.57 L669.05,248.31 L669.20,248.03 L669.35,247.75 L669.50,247.46 L669.65,247.16 L669.80,246.84 L669.95,246.52 L670.10,246.19 L670.25,245.85 L670.40,245.50 L670.55,245.13 L670.70,244.76 L670.85,244.38 L671.00,243.99 L671.15,243.59 L671.30,243.19 L671.45,242.77 L671.60,242.34 L671.75,241.90 L671.90,241.45 L672.05,241.00 L672.20,240.53 L672.35,240.06 L672.50,239.58 L672.65,239.08 L672.80,238.58 L672.95,238.07 L673.10,237.55 L673.25,237.02 L673.40,236.48 L673.55,235.94 L673.70,235.38 L673.85,234.82 L674.00,234.25 L674.15,233.67 L674.30,233.08 L674.45,232.48 L674.60,231.87 L674.75,231.26 L674.90,230.63 L675.05,230.00 L675.20,229.36 L675.35,228.72 L675.50,228.06 L675.65,227.40 L675.80,226.73 L675.95,226.05 L676.10,225.36 L676.25,224.67 L676.40,223.96 L676.55,223.25 L676.70,222.54 L676.85,221.81 L677.00,221.08 L677.15,220.34 L677.30,219.60 L677.45,218.84 L677.60,218.08 L677.75,217.31 L677.90,216.54 L678.05,215.76 L678.20,214.97 L678.35,214.18 L678.50,213.38 L678.65,212.57 L678.80,211.75 L678.95,210.93 L679.10,210.11 L679.25,209.27 L679.40,208.44 L679.55,207.59 L679.70,206.74 L679.85,205.88 L680.00,205.02 L680.15,204.15 L680.30,203.28 L680.45,202.40 L680.60,201.52 L680.75,200.63 L680.90,199.73 L681.05,198.83 L681.20,197.93 L681.35,197.02 L681.50,196.10 L681.65,195.18 L681.80,194.26 L681.95,193.33 L682.10,192.40 L682.25,191.46 L682.40,190.52 L682.55,189.57 L682.70,188.62 L682.85,187.67 L683.00,186.71 L683.15,185.75 L683.30,184.78 L683.45,183.81 L683.60,182.84 L683.75,181.86 L683.90,180.88 L684.05,179.90 L684.20,178.91 L684.35,177.93 L684.50,176.93 L684.65,175.94 L684.80,174.94 L684.95,173.94 L685.10,172.94 L685.25,171.93 L685.40,170.93 L685.55,169.92 L685.70,168.90 L685.85,167.89 L686.00,166.87 L686.15,165.86 L686.30,164.84 L686.45,163.82 L686.60,162.79 L686.75,161.77 L686.90,160.74 L687.05,159.72 L687.20,158.69 L687.35,157.66 L687.50,156.63 L687.65,155.60 L687.80,154.57 L687.95,153.54 L688.10,152.50 L688.25,151.47 L688.40,150.44 L688.55,149.41 L688.70,148.37 L688.85,147.34 L689.00,146.31 L689.15,145.27 L689.30,144.24 L689.45,143.21 L689.60,142.18 L689.75,141.14 L689.90,140.11 L690.05,139.08 L690.20,138.06 L690.35,137.03 L690.50,136.00 L690.65,134.98 L690.80,133.95 L690.95,132.93 L691.10,131.91 L691.25,130.89 L691.40,129.87 L691.55,128.86 L691.70,127.85 L691.85,126.83 L692.00,125.82 L692.15,124.82 L692.30,123.81 L692.45,122.81 L692.60,121.81 L692.75,120.81 L692.90,119.82 L693.05,118.83 L693.20,117.84 L693.35,116.86 L693.50,115.87 L693.65,114.89 L693.80,113.92 L693.95,112.95 L694.10,111.98 L694.25,111.01 L694.40,110.05 L694.55,109.10 L694.70,108.14 L694.85,107.19 L695.00,106.25 L695.15,105.31 L695.30,104.37 L695.45,103.44 L695.60,102.51 L695.75,101.59 L695.90,100.67 L696.05,99.76 L696.20,98.85 L696.35,97.94 L696.50,97.04 L696.65,96.15 L696.80,95.26 L696.95,94.38 L697.10,93.50 L697.25,92.63 L697.40,91.76 L697.55,90.90 L697.70,90.05 L697.85,89.20 L698.00,88.36 L698.15,87.52 L698.30,86.69 L698.45,85.86 L698.60,85.04 L698.75,84.23 L698.90,83.43 L699.05,82.63 L699.20,81.83 L699.35,81.05 L699.50,80.27 L699.65,79.49 L699.80,78.73 L699.95,77.97 L700.10,77.22 L700.25,76.47 L700.40,75.74 L700.55,75.01 L700.70,74.28 L700.85,73.57 L701.00,72.86 L701.15,72.16 L701.30,71.47 L701.45,70.78 L701.60,70.11 L701.75,69.44 L701.90,68.78 L702.05,68.12 L702.20,67.48 L702.35,66.84 L702.50,66.21 L702.65,65.59 L702.80,64.98 L702.95,64.37 L703.10,63.78 L703.25,63.19 L703.40,62.61 L703.55,62.04 L703.70,61.48 L703.85,60.93 L704.00,60.38 L704.15,59.85 L704.30,59.32 L704.45,58.80 L704.60,58.29 L704.75,57.79 L704.90,57.30 L705.05,56.82 L705.20,56.35 L705.35,55.89 L705.50,55.43 L705.65,54.99 L705.80,54.55 L705.95,54.13 L706.10,53.71 L706.25,53.31 L706.40,52.91 L706.55,52.52 L706.70,52.14 L706.85,51.77 L707.00,51.42 L707.15,51.07 L707.30,50.73 L707.45,50.40 L707.60,50.08 L707.75,49.77 L707.90,49.47 L708.05,49.18 L708.20,48.90 L708.35,48.63 L708.50,48.37 L708.65,48.12 L708.80,47.88 L708.95,47.65 L709.10,47.43 L709.25,47.22 L709.40,47.02 L709.55,46.83 L709.70,46.65 L709.85,46.48 L710.00,46.32 L710.15,46.17 L710.30,46.03 L710.45,45.90 L710.60,45.79 L710.75,45.68 L710.90,45.58 L711.05,45.49 L711.20,45.42 L711.35,45.35 L711.50,45.29 L711.65,45.25 L711.80,45.21 L711.95,45.19 L712.10,45.17 L712.25,45.17 L712.40,45.17 L712.55,45.19 L712.70,45.21 L712.85,45.25 L713.00,45.30 L713.15,45.36 L713.30,45.42 L713.45,45.50 L713.60,45.59 L713.75,45.69 L713.90,45.80 L714.05,45.92 L714.20,46.04 L714.35,46.18 L714.50,46.33 L714.65,46.49 L714.80,46.66 L714.95,46.84 L715.10,47.03 L715.25,47.24 L715.40,47.45 L715.55,47.67 L715.70,47.90 L715.85,48.14 L716.00,48.39 L716.15,48.65 L716.30,48.92 L716.45,49.20 L716.60,49.49 L716.75,49.80 L716.90,50.11 L717.05,50.43 L717.20,50.76 L717.35,51.10 L717.50,51.45 L717.65,51.81 L717.80,52.18 L717.95,52.56 L718.10,52.94 L718.25,53.34 L718.40,53.75 L718.55,54.17 L718.70,54.59 L718.85,55.03 L719.00,55.47 L719.15,55.93 L719.30,56.39 L719.45,56.87 L719.60,57.35 L719.75,57.84 L719.90,58.34 L720.05,58.85 L720.20,59.37 L720.35,59.89 L720.50,60.43 L720.65,60.97 L720.80,61.53 L720.95,62.09 L721.10,62.66 L721.25,63.24 L721.40,63.83 L721.55,64.43 L721.70,65.03 L721.85,65.64 L722.00,66.27 L722.15,66.90 L722.30,67.53 L722.45,68.18 L722.60,68.83 L722.75,69.50 L722.90,70.17 L723.05,70.84 L723.20,71.53 L723.35,72.22 L723.50,72.92 L723.65,73.63 L723.80,74.35 L723.95,75.07 L724.10,75.80 L724.25,76.54 L724.40,77.29 L724.55,78.04 L724.70,78.80 L724.85,79.56 L725.00,80.34 L725.15,81.12 L725.30,81.90 L725.45,82.70 L725.60,83.50 L725.75,84.30 L725.90,85.12 L726.05,85.94 L726.20,86.76 L726.35,87.59 L726.50,88.43 L726.65,89.27 L726.80,90.12 L726.95,90.98 L727.10,91.84 L727.25,92.71 L727.40,93.58 L727.55,94.46 L727.70,95.34 L727.85,96.23 L728.00,97.12 L728.15,98.02 L728.30,98.93 L728.45,99.84 L728.60,100.75 L728.75,101.67 L728.90,102.59 L729.05,103.52 L729.20,104.45 L729.35,105.39 L729.50,106.33" stroke="#ee1a2e" stroke-width="1.0" fill="none"/>
<path d="M43.95,445.61 L44.01,585.90 L44.07,526.19 L44.13,572.24 L44.13,575.65 L44.14,576.83 L44.14,575.65 L44.14,572.24 L44.15,566.93 L44.15,560.24 L44.16,552.82 L44.16,545.38 L44.16,538.63 L44.17,533.24 L44.17,529.71 L44.17,528.37 L44.18,529.36 L44.18,532.57 L44.19,537.68 L44.19,544.20 L44.19,551.49 L44.20,558.85 L44.20,565.56 L44.20,570.99 L44.21,574.61 L44.21,576.07 L44.22,575.24 L44.22,572.21 L44.22,567.27 L44.23,560.90 L44.23,553.73 L44.23,546.43 L44.24,539.72 L44.24,534.25 L44.25,530.52 L44.25,528.91 L44.25,529.56 L44.26,532.39 L44.26,537.14 L44.26,543.33 L44.27,550.37 L44.27,557.57 L44.28,564.24 L44.28,569.74 L44.28,573.54 L44.29,575.27 L44.29,574.78 L44.29,572.12 L44.30,567.54 L44.30,561.50 L44.31,554.58 L44.31,547.44 L44.31,540.79 L44.32,535.25 L44.32,531.36 L44.32,529.48 L44.33,529.80 L44.33,532.28 L44.33,536.66 L44.34,542.52 L44.34,549.30 L44.35,556.34 L44.35,562.94 L44.35,568.49 L44.36,572.45 L44.36,574.44 L44.36,574.26 L44.37,571.95 L44.37,567.74 L44.38,562.02 L44.38,555.37 L44.38,548.41 L44.39,541.83 L44.39,536.25 L44.39,532.21 L44.40,530.09 L44.40,530.10 L44.41,532.22 L44.41,536.24 L44.41,541.78 L44.42,548.29 L44.42,555.14 L44.42,561.67 L44.43,567.25 L44.43,571.34 L44.44,573.56 L44.44,573.69 L44.44,571.73 L44.45,567.87 L44.45,562.48 L44.45,556.10 L44.46,549.33 L44.46,542.83 L44.47,537.23 L44.47,533.06 L44.47,530.72 L44.48,530.43 L44.48,532.22 L44.48,535.89 L44.49,541.10 L44.49,547.33 L44.49,553.99 L44.50,560.42 L44.50,566.01 L44.51,570.23 L44.51,572.66 L44.51,573.08 L44.52,571.45 L44.52,567.93 L44.52,562.87 L44.53,556.77 L44.53,550.20 L44.54,543.81 L44.54,538.20 L44.54,533.93 L44.55,531.38 L44.55,530.81 L44.55,532.27 L44.56,535.60 L44.56,540.48 L44.57,546.43 L44.57,552.88 L44.57,559.21 L44.58,564.79 L44.58,569.10 L44.58,571.73 L44.59,572.41 L44.59,571.10 L44.60,567.93 L44.60,563.20 L44.60,557.37 L44.61,551.02 L44.61,544.74 L44.61,539.15 L44.62,534.79 L44.62,532.06 L44.63,531.23 L44.63,532.37 L44.63,535.37 L44.64,539.92 L44.64,545.59 L44.64,551.83 L44.65,558.02 L44.65,563.58 L44.66,567.97 L44.66,570.77 L44.66,571.71 L44.67,570.71 L44.67,567.86 L44.67,563.46 L44.68,557.92 L44.68,551.78 L44.68,545.64 L44.69,540.08 L44.69,535.65 L44.70,532.76 L44.70,531.68 L44.70,532.53 L44.71,535.19 L44.71,539.42 L44.71,544.81 L44.72,550.82 L44.72,556.87 L44.73,562.39 L44.73,566.84 L44.73,569.79 L44.74,570.97 L44.74,570.26 L44.74,567.74 L44.75,563.65 L44.75,558.40 L44.76,552.49 L44.76,546.49 L44.76,540.99 L44.77,536.51 L44.77,533.47 L44.77,532.17 L44.78,532.72 L44.78,535.07 L44.79,538.99 L44.79,544.08 L44.79,549.86 L44.80,555.76 L44.80,561.22 L44.80,565.71 L44.81,568.80 L44.81,570.19 L44.82,569.76 L44.82,567.55 L44.82,563.78 L44.83,558.82 L44.83,553.14 L44.83,547.31 L44.84,541.87 L44.84,537.35 L44.84,534.19 L44.85,532.68 L44.85,532.96 L44.86,535.01 L44.86,538.61 L44.86,543.41 L44.87,548.95 L44.87,554.69 L44.87,560.07 L44.88,564.59 L44.88,567.79 L44.89,569.38 L44.89,569.21 L44.89,567.31 L44.90,563.85 L44.90,559.17 L44.90,553.74 L44.91,548.07 L44.91,542.72 L44.92,538.19 L44.92,534.92 L44.92,533.22 L44.93,533.25 L44.93,534.99 L44.93,538.29 L44.94,542.80 L44.94,548.10 L44.95,553.66 L44.95,558.95 L44.95,563.47 L44.96,566.77 L44.96,568.55 L44.96,568.63 L44.97,567.01 L44.97,563.85 L44.98,559.47 L44.98,554.28 L44.98,548.79 L44.99,543.53 L44.99,539.01 L44.99,535.65 L45.00,533.77 L45.00,533.56 L45.01,535.03 L45.01,538.02 L45.01,542.24 L45.02,547.29 L45.02,552.67 L45.02,557.86 L45.03,562.37 L45.03,565.75 L45.03,567.69 L45.04,568.00 L45.04,566.66 L45.05,563.80 L45.05,559.70 L45.05,554.76 L45.06,549.46 L45.06,544.31 L45.06,539.81 L45.07,536.38 L45.07,534.35 L45.08,533.91 L45.08,535.10 L45.08,537.80 L45.09,541.75 L45.09,546.54 L45.09,551.73 L45.10,556.81 L45.10,561.28 L45.11,564.72 L45.11,566.81 L45.11,567.33 L45.12,566.26 L45.12,563.69 L45.12,559.87 L45.13,555.19 L45.13,550.08 L45.14,545.05 L45.14,540.58 L45.14,537.10 L45.15,534.94 L45.15,534.29 L45.15,535.23 L45.16,537.64 L45.16,541.30 L45.17,545.84 L45.17,550.83 L45.17,555.78 L45.18,560.21 L45.18,563.70 L45.18,565.91 L45.19,566.64 L45.19,565.81 L45.19,563.52 L45.20,559.98 L45.20,555.55 L45.21,550.65 L45.21,545.76 L45.21,541.34 L45.22,537.82 L45.22,535.53 L45.22,534.70 L45.23,535.39 L45.23,537.53 L45.24,540.91 L45.24,545.20 L45.24,549.98 L45.25,554.79 L45.25,559.16 L45.25,562.68 L45.26,565.00 L45.26,565.91 L45.27,565.32 L45.27,563.30 L45.27,560.04 L45.28,555.86 L45.28,551.17 L45.28,546.42 L45.29,542.06 L45.29,538.52 L45.30,536.14 L45.30,535.13 L45.30,535.59 L45.31,537.46 L45.31,540.57 L45.31,544.61 L45.32,549.18 L45.32,553.84 L45.33,558.14 L45.33,561.66 L45.33,564.08 L45.34,565.16 L45.34,564.79 L45.34,563.03 L45.35,560.03 L45.35,556.11 L45.36,551.63 L45.36,547.04 L45.36,542.76 L45.37,539.22 L45.37,536.75 L45.37,535.58 L45.38,535.82 L45.38,537.44 L45.38,540.29 L45.39,544.07 L45.39,548.42 L45.40,552.92 L45.40,557.14 L45.40,560.66 L45.41,563.15 L45.41,564.38 L45.41,564.22 L45.42,562.70 L45.42,559.98 L45.43,556.30 L45.43,552.04 L45.43,547.61 L45.44,543.42 L45.44,539.89 L45.44,537.35 L45.45,536.04 L45.45,536.08 L45.46,537.47 L45.46,540.05 L45.46,543.58 L45.47,547.72 L45.47,552.05 L45.47,556.17 L45.48,559.67 L45.48,562.22 L45.49,563.58 L45.49,563.62 L45.49,562.34 L45.50,559.86 L45.50,556.44 L45.50,552.40 L45.51,548.14 L45.51,544.05 L45.52,540.55 L45.52,537.96 L45.52,536.52 L45.53,536.38 L45.53,537.53 L45.53,539.86 L45.54,543.15 L45.54,547.06 L45.55,551.22 L45.55,555.23 L45.55,558.70 L45.56,561.29 L45.56,562.77 L45.56,562.99 L45.57,561.93 L45.57,559.70 L45.57,556.52 L45.58,552.70 L45.58,548.61 L45.59,544.65 L45.59,541.19 L45.59,538.56 L45.60,537.01 L45.60,536.69 L45.60,537.63 L45.61,539.72 L45.61,542.76 L45.62,546.45 L45.62,550.43 L45.62,554.32 L45.63,557.74 L45.63,560.37 L45.63,561.94 L45.64,562.32 L45.64,561.48 L45.65,559.49 L45.65,556.55 L45.65,552.95 L45.66,549.05 L45.66,545.20 L45.66,541.79 L45.67,539.15 L45.67,537.51 L45.68,537.03 L45.68,537.76 L45.68,539.62 L45.69,542.42 L45.69,545.89 L45.69,549.69 L45.70,553.45 L45.70,556.81 L45.71,559.44 L45.71,561.11 L45.71,561.64 L45.72,560.99 L45.72,559.23 L45.72,556.53 L45.73,553.15 L45.73,549.43 L45.73,545.72 L45.74,542.38 L45.74,539.72 L45.75,538.01 L45.75,537.39 L45.75,537.93 L45.76,539.56 L45.76,542.13 L45.76,545.38 L45.77,548.99 L45.77,552.61 L45.78,555.90 L45.78,558.53 L45.78,560.26 L45.79,560.93 L45.79,560.46 L45.79,558.92 L45.80,556.45 L45.80,553.30 L45.81,549.76 L45.81,546.19 L45.81,542.93 L45.82,540.28 L45.82,538.50 L45.82,537.76 L45.83,538.12 L45.83,539.54 L45.84,541.88 L45.84,544.91 L45.84,548.33 L45.85,551.81 L45.85,555.01 L45.85,557.63 L45.86,559.42 L45.86,560.20 L45.87,559.91 L45.87,558.57 L45.87,556.32 L45.88,553.39 L45.88,550.05 L45.88,546.62 L45.89,543.45 L45.89,540.82 L45.90,539.00 L45.90,538.15 L45.90,538.34 L45.91,539.56 L45.91,541.68 L45.91,544.49 L45.92,547.72 L45.92,551.05 L45.92,554.16 L45.93,556.75 L45.93,558.57 L45.94,559.46 L45.94,559.32 L45.94,558.18 L45.95,556.15 L45.95,553.43 L45.95,550.28 L45.96,547.01 L45.96,543.94 L45.97,541.35 L45.97,539.49 L45.97,538.54 L45.98,538.59 L45.98,539.61 L45.98,541.52 L45.99,544.12 L45.99,547.15 L46.00,550.32 L46.00,553.33 L46.00,555.88 L46.01,557.73 L46.01,558.70 L46.01,558.71 L46.02,557.75 L46.02,555.93 L46.03,553.42 L46.03,550.47 L46.03,547.36 L46.04,544.39 L46.04,541.85 L46.04,539.97 L46.05,538.94 L46.05,538.85 L46.06,539.70 L46.06,541.40 L46.06,543.79 L46.07,546.63 L46.07,549.64 L46.07,552.53 L46.08,555.03 L46.08,556.89 L46.08,557.93 L46.09,558.07 L46.09,557.29 L46.10,555.66 L46.10,553.36 L46.10,550.60 L46.11,547.65 L46.11,544.80 L46.11,542.32 L46.12,540.44 L46.12,539.34 L46.13,539.13 L46.13,539.81 L46.13,541.32 L46.14,543.50 L46.14,546.15 L46.14,549.00 L46.15,551.77 L46.15,554.20 L46.16,556.06 L46.16,557.16 L46.16,557.42 L46.17,556.79 L46.17,555.36 L46.17,553.26 L46.18,550.69 L46.18,547.91 L46.19,545.18 L46.19,542.76 L46.19,540.89 L46.20,539.74 L46.20,539.42 L46.20,539.95 L46.21,541.27 L46.21,543.26 L46.22,545.71 L46.22,548.39 L46.22,551.04 L46.23,553.40 L46.23,555.24 L46.23,556.39 L46.24,556.74 L46.24,556.27 L46.25,555.01 L46.25,553.10 L46.25,550.73 L46.26,548.11 L46.26,545.51 L46.26,543.18 L46.27,541.33 L46.27,540.14 L46.27,539.72 L46.28,540.11 L46.28,541.26 L46.29,543.06 L46.29,545.32 L46.29,547.83 L46.30,550.35 L46.30,552.62 L46.30,554.43 L46.31,555.62 L46.31,556.06 L46.32,555.72 L46.32,554.63 L46.32,552.91 L46.33,550.72 L46.33,548.27 L46.33,545.81 L46.34,543.56 L46.34,541.75 L46.35,540.53 L46.35,540.04 L46.35,540.29 L46.36,541.28 L46.36,542.89 L46.36,544.97 L46.37,547.31 L46.37,549.69 L46.38,551.87 L46.38,553.64 L46.38,554.85 L46.39,555.36 L46.39,555.14 L46.39,554.21 L46.40,552.67 L46.40,550.66 L46.41,548.39 L46.41,546.06 L46.41,543.91 L46.42,542.14 L46.42,540.92 L46.42,540.35 L46.43,540.49 L46.43,541.33 L46.43,542.76 L46.44,544.66 L46.44,546.83 L46.45,549.07 L46.45,551.15 L46.45,552.87 L46.46,554.08 L46.46,554.65 L46.46,554.55 L46.47,553.77 L46.47,552.39 L46.48,550.56 L46.48,548.46 L46.48,546.28 L46.49,544.23 L46.49,542.51 L46.49,541.29 L46.50,540.67 L46.50,540.71 L46.51,541.40 L46.51,542.67 L46.51,544.39 L46.52,546.39 L46.52,548.48 L46.52,550.46 L46.53,552.12 L46.53,553.32 L46.54,553.95 L46.54,553.93 L46.54,553.29 L46.55,552.08 L46.55,550.42 L46.55,548.48 L46.56,546.45 L46.56,544.51 L46.57,542.86 L46.57,541.64 L46.57,540.98 L46.58,540.93 L46.58,541.49 L46.58,542.61 L46.59,544.16 L46.59,545.99 L46.60,547.94 L46.60,549.80 L46.60,551.39 L46.61,552.58 L46.61,553.23 L46.61,553.30 L46.62,552.78 L46.62,551.73 L46.62,550.24 L46.63,548.46 L46.63,546.57 L46.64,544.75 L46.64,543.17 L46.64,541.98 L46.65,541.29 L46.65,541.16 L46.65,541.61 L46.66,542.57 L46.66,543.96 L46.67,545.63 L46.67,547.43 L46.67,549.17 L46.68,550.69 L46.68,551.85 L46.68,552.52 L46.69,552.66 L46.69,552.26 L46.70,551.34 L46.70,550.01 L46.70,548.40 L46.71,546.66 L46.71,544.96 L46.71,543.46 L46.72,542.30 L46.72,541.59 L46.73,541.40 L46.73,541.74 L46.73,542.56 L46.74,543.80 L46.74,545.31 L46.74,546.96 L46.75,548.58 L46.75,550.01 L46.76,551.13 L46.76,551.82 L46.76,552.02 L46.77,551.71 L46.77,550.93 L46.77,549.75 L46.78,548.29 L46.78,546.70 L46.79,545.12 L46.79,543.71 L46.79,542.60 L46.80,541.89 L46.80,541.64 L46.80,541.88 L46.81,542.58 L46.81,543.66 L46.81,545.02 L46.82,546.52 L46.82,548.02 L46.83,549.36 L46.83,550.43 L46.83,551.12 L46.84,551.36 L46.84,551.14 L46.84,550.48 L46.85,549.45 L46.85,548.15 L46.86,546.70 L46.86,545.25 L46.86,543.93 L46.87,542.87 L46.87,542.17 L46.87,541.88 L46.88,542.04 L46.88,542.62 L46.89,543.56 L46.89,544.77 L46.89,546.13 L46.90,547.49 L46.90,548.74 L46.90,549.75 L46.91,550.43 L46.91,550.71 L46.92,550.56 L46.92,550.02 L46.92,549.12 L46.93,547.96 L46.93,546.66 L46.93,545.34 L46.94,544.12 L46.94,543.12 L46.95,542.43 L46.95,542.12 L46.95,542.21 L46.96,542.68 L46.96,543.49 L46.96,544.55 L46.97,545.76 L46.97,547.00 L46.97,548.15 L46.98,549.10 L46.98,549.75 L46.99,550.05 L46.99,549.97 L46.99,549.52 L47.00,548.76 L47.00,547.74 L47.00,546.58 L47.01,545.38 L47.01,544.27 L47.02,543.33 L47.02,542.67 L47.02,542.35 L47.03,542.37 L47.03,542.75 L47.03,543.44 L47.04,544.37 L47.04,545.44 L47.05,546.55 L47.05,547.59 L47.05,548.46 L47.06,549.09 L47.06,549.40 L47.06,549.37 L47.07,549.02 L47.07,548.36 L47.08,547.48 L47.08,546.46 L47.08,545.39 L47.09,544.38 L47.09,543.52 L47.09,542.90 L47.10,542.56 L47.10,542.55 L47.11,542.84 L47.11,543.41 L47.11,544.21 L47.12,545.14 L47.12,546.13 L47.12,547.06 L47.13,547.86 L47.13,548.44 L47.14,548.75 L47.14,548.77 L47.14,548.49 L47.15,547.95 L47.15,547.19 L47.15,546.30 L47.16,545.36 L47.16,544.46 L47.16,543.68 L47.17,543.10 L47.17,542.77 L47.18,542.71 L47.18,542.94 L47.18,543.41 L47.19,544.08 L47.19,544.88 L47.19,545.74 L47.20,546.56 L47.20,547.28 L47.21,547.81 L47.21,548.11 L47.21,548.16 L47.22,547.95 L47.22,547.51 L47.22,546.87 L47.23,546.11 L47.23,545.29 L47.24,544.50 L47.24,543.81 L47.24,543.28 L47.25,542.96 L47.25,542.88 L47.25,543.04 L47.26,543.41 L47.26,543.97 L47.27,544.65 L47.27,545.38 L47.27,546.10 L47.28,546.73 L47.28,547.20 L47.28,547.49 L47.29,547.56 L47.29,547.41 L47.30,547.05 L47.30,546.52 L47.30,545.88 L47.31,545.19 L47.31,544.51 L47.31,543.90 L47.32,543.43 L47.32,543.13 L47.32,543.03 L47.33,543.14 L47.33,543.44 L47.34,543.89 L47.34,544.45 L47.34,545.06 L47.35,545.67 L47.35,546.20 L47.35,546.62 L47.36,546.88 L47.36,546.96 L47.37,546.85 L47.37,546.57 L47.37,546.15 L47.38,545.62 L47.38,545.05 L47.38,544.47 L47.39,543.96 L47.39,543.55 L47.40,543.28 L47.40,543.18 L47.40,543.24 L47.41,543.47 L47.41,543.82 L47.41,544.27 L47.42,544.77 L47.42,545.26 L47.43,545.71 L47.43,546.06 L47.43,546.29 L47.44,546.37 L47.44,546.30 L47.44,546.09 L47.45,545.75 L47.45,545.33 L47.46,544.87 L47.46,544.40 L47.46,543.98 L47.47,543.64 L47.47,543.41 L47.47,543.31 L47.48,543.34 L47.48,543.50 L47.49,543.77 L47.49,544.11 L47.49,544.50 L47.50,544.89 L47.50,545.25 L47.50,545.53 L47.51,545.72 L47.51,545.79 L47.51,545.75 L47.52,545.59 L47.52,545.34 L47.53,545.02 L47.53,544.66 L47.53,544.30 L47.54,543.97 L47.54,543.70 L47.54,543.51 L47.55,543.42 L47.55,543.43 L47.56,543.54 L47.56,543.73 L47.56,543.98 L47.57,544.26 L47.57,544.55 L47.57,544.82 L47.58,545.03 L47.58,545.17 L47.59,545.23 L47.59,545.21 L47.59,545.10 L47.60,544.92 L47.60,544.69 L47.60,544.43 L47.61,544.16 L47.61,543.92 L47.62,543.72 L47.62,543.58 L47.62,543.50 L47.63,543.50 L47.63,543.57 L47.63,543.69 L47.64,543.86 L47.64,544.05 L47.65,544.24 L47.65,544.42 L47.65,544.56 L47.66,544.65 L47.66,544.69 L47.66,544.68 L47.67,544.60 L47.67,544.49 L47.67,544.33 L47.68,544.16 L47.68,543.99 L47.69,543.83 L47.69,543.70 L47.69,543.61 L47.70,543.56 L47.70,543.55 L47.70,543.58 L47.71,543.65 L47.71,543.74 L47.72,543.85 L47.72,543.95 L47.72,544.05 L47.73,544.12 L47.73,544.17 L47.73,544.19 L47.74,544.17 L47.74,544.13 L47.75,544.06 L47.75,543.97 L47.75,543.88 L47.76,543.79 L47.76,543.71 L47.76,543.64 L47.77,543.60 L47.77,543.57 L47.78,543.56 L47.78,543.57 L47.78,543.60 L47.79,543.63 L47.79,543.66 L47.79,543.69 L47.80,543.71 L47.80,543.73 L47.81,543.73 L47.81,543.72 L47.81,543.70 L47.82,543.68 L47.82,543.65 L47.82,543.62 L47.83,543.59 L47.83,543.57 L47.84,543.55 L47.84,543.53 L47.84,543.52 L47.85,543.51 L47.85,543.51 L47.85,543.51 L48.00,543.21 L48.15,542.91 L48.29,542.60 L48.44,542.28 L48.59,541.95 L48.74,541.61 L48.89,541.26 L49.03,540.90 L49.18,540.53 L49.33,540.16 L49.48,539.77 L49.62,539.37 L49.77,538.97 L49.92,538.56 L50.07,538.13 L50.22,537.70 L50.36,537.26 L50.51,536.81 L50.66,536.35 L50.81,535.89 L50.96,535.41 L51.10,534.92 L51.25,534.43 L51.40,533.93 L51.55,533.42 L51.70,532.90 L51.84,532.37 L51.99,531.84 L52.14,531.29 L52.29,530.74 L52.43,530.18 L52.58,529.61 L52.73,529.03 L52.88,528.45 L53.03,527.85 L53.17,527.25 L53.32,526.64 L53.47,526.02 L53.62,525.40 L53.77,524.77 L53.91,524.12 L54.06,523.48 L54.21,522.82 L54.36,522.16 L54.51,521.49 L54.65,520.81 L54.80,520.12 L54.95,519.43 L55.10,518.73 L55.24,518.02 L55.39,517.31 L55.54,516.59 L55.69,515.86 L55.84,515.13 L55.98,514.38 L56.13,513.64 L56.28,512.88 L56.43,512.12 L56.58,511.35 L56.72,510.58 L56.87,509.80 L57.02,509.01 L57.17,508.22 L57.32,507.42 L57.46,506.61 L57.61,505.80 L57.76,504.99 L57.91,504.16 L58.06,503.33 L58.20,502.50 L58.35,501.66 L58.50,500.82 L58.65,499.97 L58.79,499.11 L58.94,498.25 L59.09,497.38 L59.24,496.51 L59.39,495.64 L59.53,494.76 L59.68,493.87 L59.83,492.98 L59.98,492.09 L60.13,491.19 L60.27,490.28 L60.42,489.38 L60.57,488.46 L60.72,487.55 L60.87,486.63 L61.01,485.70 L61.16,484.77 L61.31,483.84 L61.46,482.90 L61.60,481.97 L61.75,481.02 L61.90,480.08 L62.05,479.13 L62.20,478.17 L62.34,477.22 L62.49,476.26 L62.64,475.29 L62.79,474.33 L62.94,473.36 L63.08,472.39 L63.23,471.42 L63.38,470.44 L63.53,469.46 L63.68,468.48 L63.82,467.50 L63.97,466.51 L64.12,465.53 L64.27,464.54 L64.41,463.55 L64.56,462.55 L64.71,461.56 L64.86,460.57 L65.01,459.57 L65.15,458.57 L65.30,457.57 L65.45,456.57 L65.60,455.57 L65.75,454.56 L65.89,453.56 L66.04,452.56 L66.19,451.55 L66.34,450.54 L66.49,449.54 L66.63,448.53 L66.78,447.52 L66.93,446.52 L67.08,445.51 L67.22,444.50 L67.37,443.50 L67.52,442.49 L67.67,441.48 L67.82,440.48 L67.96,439.47 L68.11,438.46 L68.26,437.46 L68.41,436.46 L68.56,435.45 L68.70,434.45 L68.85,433.45 L69.00,432.45 L69.15,431.45 L69.30,430.46 L69.44,429.46 L69.59,428.47 L69.74,427.47 L69.89,426.48 L70.03,425.50 L70.18,424.51 L70.33,423.52 L70.48,422.54 L70.63,421.56 L70.77,420.58 L70.92,419.61 L71.07,418.64 L71.22,417.67 L71.37,416.70 L71.51,415.73 L71.66,414.77 L71.81,413.81 L71.96,412.86 L72.11,411.90 L72.25,410.96 L72.40,410.01 L72.55,409.07 L72.70,408.13 L72.84,407.19 L72.99,406.26 L73.14,405.33 L73.29,404.41 L73.44,403.49 L73.58,402.57 L73.73,401.66 L73.88,400.76 L74.03,399.85 L74.18,398.96 L74.32,398.06 L74.47,397.17 L74.62,396.29 L74.77,395.41 L74.92,394.53 L75.06,393.66 L75.21,392.80 L75.36,391.94 L75.51,391.08 L75.66,390.24 L75.80,389.39 L75.95,388.55 L76.10,387.72 L76.25,386.89 L76.39,386.07 L76.54,385.26 L76.69,384.45 L76.84,383.64 L76.99,382.84 L77.13,382.05 L77.28,381.27 L77.43,380.49 L77.58,379.72 L77.73,378.95 L77.87,378.19 L78.02,377.44 L78.17,376.69 L78.32,375.95 L78.47,375.21 L78.61,374.49 L78.76,373.77 L78.91,373.06 L79.06,372.35 L79.20,371.65 L79.35,370.96 L79.50,370.28 L79.65,369.60 L79.80,368.93 L79.94,368.27 L80.09,367.61 L80.24,366.97 L80.39,366.33 L80.54,365.70 L80.68,365.07 L80.83,364.46 L80.98,363.85 L81.13,363.25 L81.28,362.66 L81.42,362.07 L81.57,361.50 L81.72,360.93 L81.87,360.37 L82.01,359.82 L82.16,359.28 L82.31,358.74 L82.46,358.22 L82.61,357.70 L82.75,357.19 L82.90,356.69 L83.05,356.20 L83.20,355.72 L83.35,355.24 L83.49,354.78 L83.64,354.32 L83.79,353.87 L83.94,353.43 L84.09,353.00 L84.23,352.58 L84.38,352.17 L84.53,351.77 L84.68,351.37 L84.82,350.99 L84.97,350.62 L85.12,350.25 L85.27,349.89 L85.42,349.55 L85.56,349.21 L85.71,348.88 L85.86,348.56 L86.01,348.25 L86.16,347.95 L86.30,347.66 L86.45,347.38 L86.60,347.10 L86.75,346.84 L86.90,346.59 L87.04,346.35 L87.19,346.11 L87.34,345.89 L87.49,345.68 L87.63,345.47 L87.78,345.28 L87.93,345.09 L88.08,344.92 L88.23,344.75 L88.37,344.60 L88.52,344.45 L88.67,344.32 L88.82,344.19 L88.97,344.07 L89.11,343.97 L89.26,343.87 L89.41,343.78 L89.56,343.71 L89.71,343.64 L89.85,343.58 L90.00,343.54 L90.15,343.50 L90.30,343.47 L90.44,343.46 L90.59,343.45 L90.74,343.45 L90.89,343.47 L91.04,343.49 L91.18,343.52 L91.33,343.56 L91.48,343.62 L91.63,343.68 L91.78,343.75 L91.92,343.83 L92.07,343.93 L92.22,344.03 L92.37,344.14 L92.52,344.26 L92.66,344.39 L92.81,344.53 L92.96,344.69 L93.11,344.85 L93.25,345.02 L93.40,345.20 L93.55,345.39 L93.70,345.59 L93.85,345.80 L93.99,346.02 L94.14,346.25 L94.29,346.49 L94.44,346.74 L94.59,346.99 L94.73,347.26 L94.88,347.54 L95.03,347.83 L95.18,348.12 L95.33,348.43 L95.47,348.74 L95.62,349.07 L95.77,349.40 L95.92,349.75 L96.07,350.10 L96.21,350.46 L96.36,350.83 L96.51,351.21 L96.66,351.60 L96.80,352.00 L96.95,352.41 L97.10,352.83 L97.25,353.25 L97.40,353.69 L97.54,354.13 L97.69,354.58 L97.84,355.04 L97.99,355.52 L98.14,355.99 L98.28,356.48 L98.43,356.98 L98.58,357.48 L98.73,358.00 L98.88,358.52 L99.02,359.05 L99.17,359.59 L99.32,360.14 L99.47,360.69 L99.61,361.26 L99.76,361.83 L99.91,362.41 L100.06,363.00 L100.21,363.60 L100.35,364.20 L100.50,364.81 L100.65,365.43 L100.80,366.06 L100.95,366.70 L101.09,367.34 L101.24,367.99 L101.39,368.65 L101.54,369.32 L101.69,369.99 L101.83,370.67 L101.98,371.36 L102.13,372.06 L102.28,372.76 L102.42,373.47 L102.57,374.18 L102.72,374.91 L102.87,375.64 L103.02,376.38 L103.16,377.12 L103.31,377.87 L103.46,378.63 L103.61,379.39 L103.76,380.16 L103.90,380.94 L104.05,381.72 L104.20,382.51 L104.35,383.31 L104.50,384.11 L104.64,384.91 L104.79,385.73 L104.94,386.55 L105.09,387.37 L105.23,388.20 L105.38,389.04 L105.53,389.88 L105.68,390.73 L105.83,391.58 L105.97,392.44 L106.12,393.30 L106.27,394.17 L106.42,395.04 L106.57,395.92 L106.71,396.80 L106.86,397.69 L107.01,398.58 L107.16,399.48 L107.31,400.38 L107.45,401.28 L107.60,402.19 L107.75,403.11 L107.90,404.02 L108.04,404.95 L108.19,405.87 L108.34,406.80 L108.49,407.73 L108.64,408.67 L108.78,409.61 L108.93,410.56 L109.08,411.51 L109.23,412.46 L109.38,413.41 L109.52,414.37 L109.67,415.33 L109.82,416.29 L109.97,417.26 L110.12,418.23 L110.26,419.20 L110.41,420.17 L110.56,421.15 L110.71,422.13 L110.85,423.11 L111.00,424.09 L111.15,425.08 L111.30,426.07 L111.45,427.06 L111.59,428.05 L111.74,429.04 L111.89,430.04 L112.04,431.03 L112.19,432.03 L112.33,433.03 L112.48,434.03 L112.63,435.03 L112.78,436.03 L112.93,437.04 L113.07,438.04 L113.22,439.05 L113.37,440.05 L113.52,441.06 L113.67,442.06 L113.81,443.07 L113.96,444.08 L114.11,445.09 L114.26,446.09 L114.40,447.10 L114.55,448.11 L114.70,449.11 L114.85,450.12 L115.00,451.13 L115.14,452.13 L115.29,453.14 L115.44,454.14 L115.59,455.15 L115.74,456.15 L115.88,457.15 L116.03,458.15 L116.18,459.15 L116.33,460.15 L116.48,461.14 L116.62,462.14 L116.77,463.13 L116.92,464.12 L117.07,465.11 L117.21,466.10 L117.36,467.09 L117.51,468.07 L117.66,469.05 L117.81,470.03 L117.95,471.01 L118.10,471.98 L118.25,472.95 L118.40,473.92 L118.55,474.89 L118.69,475.85 L118.84,476.81 L118.99,477.77 L119.14,478.73 L119.29,479.68 L119.43,480.62 L119.58,481.57 L119.73,482.51 L119.88,483.45 L120.02,484.38 L120.17,485.31 L120.32,486.24 L120.47,487.16 L120.62,488.08 L120.76,488.99 L120.91,489.90 L121.06,490.81 L121.21,491.71 L121.36,492.61 L121.50,493.50 L121.65,494.38 L121.80,495.27 L121.95,496.15 L122.10,497.02 L122.24,497.89 L122.39,498.75 L122.54,499.61 L122.69,500.46 L122.83,501.31 L122.98,502.15 L123.13,502.98 L123.28,503.82 L123.43,504.64 L123.57,505.46 L123.72,506.27 L123.87,507.08 L124.02,507.88 L124.17,508.68 L124.31,509.47 L124.46,510.25 L124.61,511.03 L124.76,511.80 L124.91,512.56 L125.05,513.32 L125.20,514.07 L125.35,514.81 L125.50,515.55 L125.64,516.28 L125.79,517.01 L125.94,517.72 L126.09,518.43 L126.24,519.14 L126.38,519.83 L126.53,520.52 L126.68,521.20 L126.83,521.88 L126.98,522.54 L127.12,523.20 L127.27,523.85 L127.42,524.50 L127.57,525.13 L127.72,525.76 L127.86,526.38 L128.01,527.00 L128.16,527.60 L128.31,528.20 L128.45,528.79 L128.60,529.37 L128.75,529.94 L128.90,530.50 L129.05,531.06 L129.19,531.61 L129.34,532.15 L129.49,532.68 L129.64,533.20 L129.79,533.72 L129.93,534.22 L130.08,534.72 L130.23,535.21 L130.38,535.69 L130.53,536.16 L130.67,536.62 L130.82,537.07 L130.97,537.52 L131.12,537.95 L131.27,538.38 L131.41,538.80 L131.56,539.20 L131.71,539.60 L131.86,539.99 L132.00,540.37 L132.15,540.75 L132.30,541.11 L132.45,541.46 L132.60,541.81 L132.74,542.14 L132.89,542.47 L133.04,542.78 L133.19,543.09 L133.34,543.38 L133.48,543.67 L133.63,543.95 L133.78,544.22 L133.93,544.48 L134.08,544.73 L134.22,544.96 L134.37,545.19 L134.52,545.41 L134.67,545.62 L134.81,545.83 L134.96,546.02 L135.11,546.20 L135.26,546.37 L135.41,546.53 L135.55,546.68 L135.70,546.82 L135.85,546.96 L136.00,547.08 L136.15,547.19 L136.29,547.29 L136.44,547.39 L136.59,547.47 L136.74,547.54 L136.89,547.60 L137.03,547.66 L137.18,547.70 L137.33,547.73 L137.48,547.76 L137.62,547.77 L137.77,547.77 L137.92,547.77 L138.07,547.75 L138.22,547.72 L138.36,547.69 L138.51,547.64 L138.66,547.58 L138.81,547.52 L138.96,547.44 L139.10,547.36 L139.25,547.26 L139.40,547.15 L139.55,547.04 L139.70,546.91 L139.84,546.78 L139.99,546.63 L140.14,546.48 L140.29,546.31 L140.43,546.14 L140.58,545.95 L140.73,545.76 L140.88,545.56 L141.03,545.34 L141.17,545.12 L141.32,544.89 L141.47,544.64 L141.62,544.39 L141.77,544.13 L141.91,543.86 L142.06,543.58 L142.21,543.29 L142.36,542.99 L142.51,542.68 L142.65,542.36 L142.80,542.03 L142.95,541.69 L143.10,541.34 L143.24,540.99 L143.39,540.62 L143.54,540.25 L143.69,539.86 L143.84,539.47 L143.98,539.07 L144.13,538.66 L144.28,538.24 L144.43,537.81 L144.58,537.37 L144.72,536.92 L144.87,536.47 L145.02,536.00 L145.17,535.53 L145.32,535.04 L145.46,534.55 L145.61,534.05 L145.76,533.54 L145.91,533.03 L146.05,532.50 L146.20,531.97 L146.35,531.43 L146.50,530.87 L146.65,530.32 L146.79,529.75 L146.94,529.17 L147.09,528.59 L147.24,528.00 L147.39,527.40 L147.53,526.79 L147.68,526.18 L147.83,525.55 L147.98,524.92 L148.13,524.28 L148.27,523.64 L148.42,522.98 L148.57,522.32 L148.72,521.65 L148.86,520.97 L149.01,520.29 L149.16,519.60 L149.31,518.90 L149.46,518.20 L149.60,517.48 L149.75,516.76 L149.90,516.04 L150.05,515.31 L150.20,514.57 L150.34,513.82 L150.49,513.07 L150.64,512.31 L150.79,511.54 L150.94,510.77 L151.08,509.99 L151.23,509.20 L151.38,508.41 L151.53,507.61 L151.68,506.81 L151.82,506.00 L151.97,505.19 L152.12,504.36 L152.27,503.54 L152.41,502.70 L152.56,501.87 L152.71,501.02 L152.86,500.17 L153.01,499.32 L153.15,498.46 L153.30,497.60 L153.45,496.73 L153.60,495.85 L153.75,494.97 L153.89,494.09 L154.04,493.20 L154.19,492.31 L154.34,491.41 L154.49,490.50 L154.63,489.60 L154.78,488.69 L154.93,487.77 L155.08,486.85 L155.22,485.93 L155.37,485.00 L155.52,484.07 L155.67,483.13 L155.82,482.20 L155.96,481.25 L156.11,480.31 L156.26,479.36 L156.41,478.41 L156.56,477.45 L156.70,476.49 L156.85,475.53 L157.00,474.57 L157.15,473.60 L157.30,472.63 L157.44,471.65 L157.59,470.68 L157.74,469.70 L157.89,468.72 L158.03,467.74 L158.18,466.76 L158.33,465.77 L158.48,464.78 L158.63,463.79 L158.77,462.80 L158.92,461.80 L159.07,460.81 L159.22,459.81 L159.37,458.81 L159.51,457.81 L159.66,456.81 L159.81,455.81 L159.96,454.81 L160.11,453.81 L160.25,452.80 L160.40,451.80 L160.55,450.79 L160.70,449.78 L160.84,448.78 L160.99,447.77 L161.14,446.76 L161.29,445.76 L161.44,444.75 L161.58,443.74 L161.73,442.73 L161.88,441.73 L162.03,440.72 L162.18,439.72 L162.32,438.71 L162.47,437.71 L162.62,436.70 L162.77,435.70 L162.92,434.70 L163.06,433.70 L163.21,432.70 L163.36,431.70 L163.51,430.70 L163.65,429.70 L163.80,428.71 L163.95,427.72 L164.10,426.73 L164.25,425.74 L164.39,424.75 L164.54,423.77 L164.69,422.78 L164.84,421.80 L164.99,420.82 L165.13,419.85 L165.28,418.87 L165.43,417.90 L165.58,416.93 L165.73,415.97 L165.87,415.01 L166.02,414.05 L166.17,413.09 L166.32,412.14 L166.46,411.19 L166.61,410.24 L166.76,409.30 L166.91,408.36 L167.06,407.42 L167.20,406.49 L167.35,405.56 L167.50,404.64 L167.65,403.72 L167.80,402.80 L167.94,401.89 L168.09,400.98 L168.24,400.07 L168.39,399.17 L168.54,398.28 L168.68,397.39 L168.83,396.50 L168.98,395.62 L169.13,394.75 L169.28,393.88 L169.42,393.01 L169.57,392.15 L169.72,391.29 L169.87,390.44 L170.01,389.60 L170.16,388.76 L170.31,387.92 L170.46,387.09 L170.61,386.27 L170.75,385.45 L170.90,384.64 L171.05,383.84 L171.20,383.04 L171.35,382.25 L171.49,381.46 L171.64,380.68 L171.79,379.90 L171.94,379.14 L172.09,378.37 L172.23,377.62 L172.38,376.87 L172.53,376.13 L172.68,375.39 L172.82,374.67 L172.97,373.94 L173.12,373.23 L173.27,372.52 L173.42,371.82 L173.56,371.13 L173.71,370.44 L173.86,369.76 L174.01,369.09 L174.16,368.43 L174.30,367.77 L174.45,367.12 L174.60,366.48 L174.75,365.85 L174.90,365.23 L175.04,364.61 L175.19,364.00 L175.34,363.40 L175.49,362.80 L175.63,362.22 L175.78,361.64 L175.93,361.07 L176.08,360.51 L176.23,359.95 L176.37,359.41 L176.52,358.87 L176.67,358.34 L176.82,357.83 L176.97,357.31 L177.11,356.81 L177.26,356.32 L177.41,355.83 L177.56,355.36 L177.71,354.89 L177.85,354.43 L178.00,353.98 L178.15,353.54 L178.30,353.11 L178.44,352.68 L178.59,352.27 L178.74,351.87 L178.89,351.47 L179.04,351.08 L179.18,350.71 L179.33,350.34 L179.48,349.98 L179.63,349.63 L179.78,349.29 L179.92,348.96 L180.07,348.64 L180.22,348.32 L180.37,348.02 L180.52,347.73 L180.66,347.44 L180.81,347.17 L180.96,346.91 L181.11,346.65 L181.25,346.41 L181.40,346.17 L181.55,345.94 L181.70,345.73 L181.85,345.52 L181.99,345.32 L182.14,345.14 L182.29,344.96 L182.44,344.79 L182.59,344.63 L182.73,344.49 L182.88,344.35 L183.03,344.22 L183.18,344.10 L183.33,343.99 L183.47,343.89 L183.62,343.80 L183.77,343.73 L183.92,343.66 L184.06,343.60 L184.21,343.55 L184.36,343.51 L184.51,343.48 L184.66,343.46 L184.80,343.45 L184.95,343.45 L185.10,343.46 L185.25,343.48 L185.40,343.51 L185.54,343.55 L185.69,343.60 L185.84,343.66 L185.99,343.73 L186.14,343.81 L186.28,343.90 L186.43,344.00 L186.58,344.11 L186.73,344.23 L186.88,344.36 L187.02,344.50 L187.17,344.65 L187.32,344.81 L187.47,344.97 L187.61,345.15 L187.76,345.34 L187.91,345.54 L188.06,345.75 L188.21,345.96 L188.35,346.19 L188.50,346.43 L188.65,346.67 L188.80,346.93 L188.95,347.19 L189.09,347.47 L189.24,347.75 L189.39,348.05 L189.54,348.35 L189.69,348.66 L189.83,348.99 L189.98,349.32 L190.13,349.66 L190.28,350.01 L190.42,350.37 L190.57,350.74 L190.72,351.12 L190.87,351.51 L191.02,351.90 L191.16,352.31 L191.31,352.72 L191.46,353.15 L191.61,353.58 L191.76,354.02 L191.90,354.47 L192.05,354.93 L192.20,355.40 L192.35,355.88 L192.50,356.36 L192.64,356.86 L192.79,357.36 L192.94,357.87 L193.09,358.39 L193.23,358.92 L193.38,359.46 L193.53,360.00 L193.68,360.56 L193.83,361.12 L193.97,361.69 L194.12,362.27 L194.27,362.86 L194.42,363.45 L194.57,364.05 L194.71,364.66 L194.86,365.28 L195.01,365.91 L195.16,366.54 L195.31,367.18 L195.45,367.83 L195.60,368.49 L195.75,369.15 L195.90,369.83 L196.04,370.50 L196.19,371.19 L196.34,371.89 L196.49,372.59 L196.64,373.29 L196.78,374.01 L196.93,374.73 L197.08,375.46 L197.23,376.20 L197.38,376.94 L197.52,377.69 L197.67,378.44 L197.82,379.20 L197.97,379.97 L198.12,380.75 L198.26,381.53 L198.41,382.32 L198.56,383.11 L198.71,383.91 L198.85,384.72 L199.00,385.53 L199.15,386.35 L199.30,387.17 L199.45,388.00 L199.59,388.83 L199.74,389.67 L199.89,390.52 L200.04,391.37 L200.19,392.23 L200.33,393.09 L200.48,393.95 L200.63,394.83 L200.78,395.70 L200.93,396.58 L201.07,397.47 L201.22,398.36 L201.37,399.26 L201.52,400.16 L201.66,401.06 L201.81,401.97 L201.96,402.88 L202.11,403.80 L202.26,404.72 L202.40,405.64 L202.55,406.57 L202.70,407.51 L202.85,408.44 L203.00,409.38 L203.14,410.33 L203.29,411.27 L203.44,412.22 L203.59,413.18 L203.74,414.13 L203.88,415.09 L204.03,416.06 L204.18,417.02 L204.33,417.99 L204.47,418.96 L204.62,419.94 L204.77,420.91 L204.92,421.89 L205.07,422.87 L205.21,423.85 L205.36,424.84 L205.51,425.83 L205.66,426.82 L205.81,427.81 L205.95,428.80 L206.10,429.79 L206.25,430.79 L206.40,431.79 L206.55,432.79 L206.69,433.79 L206.84,434.79 L206.99,435.79 L207.14,436.79 L207.29,437.80 L207.43,438.80 L207.58,439.81 L207.73,440.81 L207.88,441.82 L208.02,442.83 L208.17,443.83 L208.32,444.84 L208.47,445.85 L208.62,446.85 L208.76,447.86 L208.91,448.87 L209.06,449.88 L209.21,450.88 L209.36,451.89 L209.50,452.89 L209.65,453.90 L209.80,454.90 L209.95,455.90 L210.10,456.90 L210.24,457.90 L210.39,458.90 L210.54,459.90 L210.69,460.90 L210.83,461.89 L210.98,462.89 L211.13,463.88 L211.28,464.87 L211.43,465.86 L211.57,466.84 L211.72,467.83 L211.87,468.81 L212.02,469.79 L212.17,470.77 L212.31,471.74 L212.46,472.72 L212.61,473.69 L212.76,474.65 L212.91,475.62 L213.05,476.58 L213.20,477.54 L213.35,478.49 L213.50,479.44 L213.64,480.39 L213.79,481.34 L213.94,482.28 L214.09,483.22 L214.24,484.15 L214.38,485.08 L214.53,486.01 L214.68,486.93 L214.83,487.85 L214.98,488.77 L215.12,489.68 L215.27,490.59 L215.42,491.49 L215.57,492.39 L215.72,493.28 L215.86,494.17 L216.01,495.05 L216.16,495.93 L216.31,496.81 L216.45,497.67 L216.60,498.54 L216.75,499.40 L216.90,500.25 L217.05,501.10 L217.19,501.94 L217.34,502.78 L217.49,503.61 L217.64,504.44 L217.79,505.26 L217.93,506.07 L218.08,506.88 L218.23,507.69 L218.38,508.48 L218.53,509.27 L218.67,510.06 L218.82,510.84 L218.97,511.61 L219.12,512.38 L219.26,513.13 L219.41,513.89 L219.56,514.63 L219.71,515.37 L219.86,516.10 L220.00,516.83 L220.15,517.55 L220.30,518.26 L220.45,518.97 L220.60,519.66 L220.74,520.35 L220.89,521.04 L221.04,521.71 L221.19,522.38 L221.34,523.04 L221.48,523.69 L221.63,524.34 L221.78,524.98 L221.93,525.61 L222.07,526.23 L222.22,526.85 L222.37,527.45 L222.52,528.05 L222.67,528.64 L222.81,529.23 L222.96,529.80 L223.11,530.37 L223.26,530.93 L223.41,531.48 L223.55,532.02 L223.70,532.55 L223.85,533.07 L224.00,533.59 L224.15,534.10 L224.29,534.60 L224.44,535.09 L224.59,535.57 L224.74,536.04 L224.89,536.51 L225.03,536.96 L225.18,537.41 L225.33,537.85 L225.48,538.28 L225.62,538.70 L225.77,539.11 L225.92,539.51 L226.07,539.90 L226.22,540.28 L226.36,540.66 L226.51,541.02 L226.66,541.38 L226.81,541.72 L226.96,542.06 L227.10,542.39 L227.25,542.71 L227.40,543.01 L227.55,543.31 L227.70,543.60 L227.84,543.88 L227.99,544.15 L228.14,544.41 L228.29,544.67 L228.43,544.91 L228.58,545.14 L228.73,545.36 L228.88,545.57 L229.03,545.78 L229.17,545.97 L229.32,546.15 L229.47,546.33 L229.62,546.49 L229.77,546.65 L229.91,546.79 L230.06,546.92 L230.21,547.05 L230.36,547.16 L230.51,547.27 L230.65,547.36 L230.80,547.45 L230.95,547.52 L231.10,547.59 L231.24,547.64 L231.39,547.69 L231.54,547.73 L231.69,547.75 L231.84,547.77 L231.98,547.77 L232.13,547.77 L232.28,547.75 L232.43,547.73 L232.58,547.70 L232.72,547.65 L232.87,547.60 L233.02,547.53 L233.17,547.46 L233.32,547.38 L233.46,547.28 L233.61,547.18 L233.76,547.07 L233.91,546.94 L234.05,546.81 L234.20,546.67 L234.35,546.52 L234.50,546.35 L234.65,546.18 L234.79,546.00 L234.94,545.81 L235.09,545.61 L235.24,545.39 L235.39,545.17 L235.53,544.94 L235.68,544.70 L235.83,544.45 L235.98,544.19 L236.13,543.92 L236.27,543.65 L236.42,543.36 L236.57,543.06 L236.72,542.75 L236.86,542.44 L237.01,542.11 L237.16,541.78 L237.31,541.43 L237.46,541.08 L237.60,540.71 L237.75,540.34 L237.90,539.96 L238.05,539.57 L238.20,539.17 L238.34,538.76 L238.49,538.34 L238.64,537.91 L238.79,537.48 L238.94,537.03 L239.08,536.58 L239.23,536.12 L239.38,535.64 L239.53,535.16 L239.67,534.67 L239.82,534.18 L239.97,533.67 L240.12,533.15 L240.27,532.63 L240.41,532.10 L240.56,531.56 L240.71,531.01 L240.86,530.45 L241.01,529.89 L241.15,529.31 L241.30,528.73 L241.45,528.14 L241.60,527.55 L241.75,526.94 L241.89,526.33 L242.04,525.71 L242.19,525.08 L242.34,524.44 L242.49,523.79 L242.63,523.14 L242.78,522.48 L242.93,521.82 L243.08,521.14 L243.22,520.46 L243.37,519.77 L243.52,519.07 L243.67,518.37 L243.82,517.66 L243.96,516.94 L244.11,516.22 L244.26,515.49 L244.41,514.75 L244.56,514.00 L244.70,513.25 L244.85,512.49 L245.00,511.73 L245.15,510.96 L245.30,510.18 L245.44,509.40 L245.59,508.61 L245.74,507.81 L245.89,507.01 L246.03,506.20 L246.18,505.39 L246.33,504.57 L246.48,503.74 L246.63,502.91 L246.77,502.07 L246.92,501.23 L247.07,500.38 L247.22,499.53 L247.37,498.67 L247.51,497.81 L247.66,496.94 L247.81,496.07 L247.96,495.19 L248.11,494.30 L248.25,493.42 L248.40,492.52 L248.55,491.63 L248.70,490.73 L248.84,489.82 L248.99,488.91 L249.14,487.99 L249.29,487.08 L249.44,486.15 L249.58,485.23 L249.73,484.30 L249.88,483.36 L250.03,482.42 L250.18,481.48 L250.32,480.54 L250.47,479.59 L250.62,478.64 L250.77,477.68 L250.92,476.73 L251.06,475.77 L251.21,474.80 L251.36,473.83 L251.51,472.86 L251.65,471.89 L251.80,470.92 L251.95,469.94 L252.10,468.96 L252.25,467.98 L252.39,467.00 L252.54,466.01 L252.69,465.02 L252.84,464.03 L252.99,463.04 L253.13,462.05 L253.28,461.05 L253.43,460.06 L253.58,459.06 L253.73,458.06 L253.87,457.06 L254.02,456.06 L254.17,455.05 L254.32,454.05 L254.46,453.05 L254.61,452.04 L254.76,451.04 L254.91,450.03 L255.06,449.02 L255.20,448.02 L255.35,447.01 L255.50,446.00 L255.65,444.99 L255.80,443.99 L255.94,442.98 L256.09,441.97 L256.24,440.97 L256.39,439.96 L256.54,438.96 L256.68,437.95 L256.83,436.95 L256.98,435.94 L257.13,434.94 L257.27,433.94 L257.42,432.94 L257.57,431.94 L257.72,430.94 L257.87,429.95 L258.01,428.95 L258.16,427.96 L258.31,426.97 L258.46,425.98 L258.61,424.99 L258.75,424.01 L258.90,423.02 L259.05,422.04 L259.20,421.06 L259.35,420.09 L259.49,419.11 L259.64,418.14 L259.79,417.17 L259.94,416.20 L260.08,415.24 L260.23,414.28 L260.38,413.32 L260.53,412.37 L260.68,411.42 L260.82,410.47 L260.97,409.53 L261.12,408.59 L261.27,407.65 L261.42,406.72 L261.56,405.79 L261.71,404.86 L261.86,403.94 L262.01,403.02 L262.16,402.11 L262.30,401.20 L262.45,400.29 L262.60,399.39 L262.75,398.50 L262.90,397.61 L263.04,396.72 L263.19,395.84 L263.34,394.96 L263.49,394.09 L263.63,393.22 L263.78,392.36 L263.93,391.50 L264.08,390.65 L264.23,389.80 L264.37,388.96 L264.52,388.13 L264.67,387.30 L264.82,386.47 L264.97,385.65 L265.11,384.84 L265.26,384.03 L265.41,383.23 L265.56,382.44 L265.71,381.65 L265.85,380.87 L266.00,380.09 L266.15,379.32 L266.30,378.56 L266.44,377.80 L266.59,377.05 L266.74,376.31 L266.89,375.57 L267.04,374.84 L267.18,374.12 L267.33,373.40 L267.48,372.69 L267.63,371.99 L267.78,371.30 L267.92,370.61 L268.07,369.93 L268.22,369.26 L268.37,368.59 L268.52,367.93 L268.66,367.28 L268.81,366.64 L268.96,366.00 L269.11,365.38 L269.25,364.76 L269.40,364.15 L269.55,363.54 L269.70,362.95 L269.85,362.36 L269.99,361.78 L270.14,361.21 L270.29,360.64 L270.44,360.09 L270.59,359.54 L270.73,359.00 L270.88,358.47 L271.03,357.95 L271.18,357.44 L271.33,356.93 L271.47,356.44 L271.62,355.95 L271.77,355.47 L271.92,355.00 L272.06,354.54 L272.21,354.09 L272.36,353.65 L272.51,353.21 L272.66,352.79 L272.80,352.37 L272.95,351.96 L273.10,351.57 L273.25,351.18 L273.40,350.80 L273.54,350.43 L273.69,350.07 L273.84,349.71 L273.99,349.37 L274.14,349.04 L274.28,348.71 L274.43,348.40 L274.58,348.09 L274.73,347.80 L274.87,347.51 L275.02,347.24 L275.17,346.97 L275.32,346.71 L275.47,346.46 L275.61,346.23 L275.76,346.00 L275.91,345.78 L276.06,345.57 L276.21,345.37 L276.35,345.18 L276.50,345.00 L276.65,344.83 L276.80,344.67 L276.95,344.52 L277.09,344.38 L277.24,344.25 L277.39,344.13 L277.54,344.02 L277.68,343.92 L277.83,343.83 L277.98,343.74 L278.13,343.67 L278.28,343.61 L278.42,343.56 L278.57,343.52 L278.72,343.49 L278.87,343.46 L279.02,343.45 L279.16,343.45 L279.31,343.46 L279.46,343.48 L279.61,343.50 L279.76,343.54 L279.90,343.59 L280.05,343.65 L280.20,343.71 L280.35,343.79 L280.50,343.88 L280.64,343.98 L280.79,344.08 L280.94,344.20 L281.09,344.33 L281.23,344.46 L281.38,344.61 L281.53,344.77 L281.68,344.93 L281.83,345.11 L281.97,345.29 L282.12,345.49 L282.27,345.69 L282.42,345.91 L282.57,346.13 L282.71,346.37 L282.86,346.61 L283.01,346.87 L283.16,347.13 L283.31,347.40 L283.45,347.68 L283.60,347.98 L283.75,348.28 L283.90,348.59 L284.04,348.91 L284.19,349.24 L284.34,349.58 L284.49,349.92 L284.64,350.28 L284.78,350.65 L284.93,351.02 L285.08,351.41 L285.23,351.80 L285.38,352.21 L285.52,352.62 L285.67,353.04 L285.82,353.47 L285.97,353.91 L286.12,354.36 L286.26,354.82 L286.41,355.28 L286.56,355.76 L286.71,356.24 L286.85,356.74 L287.00,357.24 L287.15,357.75 L287.30,358.26 L287.45,358.79 L287.59,359.33 L287.74,359.87 L287.89,360.42 L288.04,360.98 L288.19,361.55 L288.33,362.13 L288.48,362.71 L288.63,363.30 L288.78,363.90 L288.93,364.51 L289.07,365.13 L289.22,365.75 L289.37,366.39 L289.52,367.03 L289.66,367.67 L289.81,368.33 L289.96,368.99 L290.11,369.66 L290.26,370.34 L290.40,371.02 L290.55,371.71 L290.70,372.41 L290.85,373.12 L291.00,373.83 L291.14,374.55 L291.29,375.28 L291.44,376.01 L291.59,376.76 L291.74,377.50 L291.88,378.26 L292.03,379.02 L292.18,379.78 L292.33,380.56 L292.47,381.34 L292.62,382.12 L292.77,382.92 L292.92,383.72 L293.07,384.52 L293.21,385.33 L293.36,386.15 L293.51,386.97 L293.66,387.80 L293.81,388.63 L293.95,389.47 L294.10,390.31 L294.25,391.16 L294.40,392.02 L294.55,392.88 L294.69,393.74 L294.84,394.61 L294.99,395.49 L295.14,396.37 L295.28,397.25 L295.43,398.14 L295.58,399.04 L295.73,399.94 L295.88,400.84 L296.02,401.75 L296.17,402.66 L296.32,403.57 L296.47,404.49 L296.62,405.42 L296.76,406.35 L296.91,407.28 L297.06,408.21 L297.21,409.15 L297.36,410.10 L297.50,411.04 L297.65,411.99 L297.80,412.94 L297.95,413.90 L298.10,414.86 L298.24,415.82 L298.39,416.79 L298.54,417.75 L298.69,418.72 L298.83,419.70 L298.98,420.67 L299.13,421.65 L299.28,422.63 L299.43,423.61 L299.57,424.60 L299.72,425.59 L299.87,426.57 L300.02,427.56 L300.17,428.56 L300.31,429.55 L300.46,430.55 L300.61,431.54 L300.76,432.54 L300.91,433.54 L301.05,434.54 L301.20,435.54 L301.35,436.55 L301.50,437.55 L301.64,438.56 L301.79,439.56 L301.94,440.57 L302.09,441.57 L302.24,442.58 L302.38,443.59 L302.53,444.59 L302.68,445.60 L302.83,446.61 L302.98,447.62 L303.12,448.62 L303.27,449.63 L303.42,450.64 L303.57,451.64 L303.72,452.65 L303.86,453.65 L304.01,454.65 L304.16,455.66 L304.31,456.66 L304.45,457.66 L304.60,458.66 L304.75,459.66 L304.90,460.66 L305.05,461.65 L305.19,462.65 L305.34,463.64 L305.49,464.63 L305.64,465.62 L305.79,466.60 L305.93,467.59 L306.08,468.57 L306.23,469.55 L306.38,470.53 L306.53,471.51 L306.67,472.48 L306.82,473.45 L306.97,474.42 L307.12,475.38 L307.26,476.34 L307.41,477.30 L307.56,478.26 L307.71,479.21 L307.86,480.16 L308.00,481.11 L308.15,482.05 L308.30,482.99 L308.45,483.93 L308.60,484.86 L308.74,485.79 L308.89,486.71 L309.04,487.63 L309.19,488.55 L309.34,489.46 L309.48,490.37 L309.63,491.27 L309.78,492.17 L309.93,493.06 L310.07,493.95 L310.22,494.84 L310.37,495.72 L310.52,496.59 L310.67,497.46 L310.81,498.33 L310.96,499.19 L311.11,500.04 L311.26,500.89 L311.41,501.74 L311.55,502.58 L311.70,503.41 L311.85,504.24 L312.00,505.06 L312.15,505.88 L312.29,506.69 L312.44,507.49 L312.59,508.29 L312.74,509.08 L312.88,509.87 L313.03,510.65 L313.18,511.42 L313.33,512.19 L313.48,512.95 L313.62,513.70 L313.77,514.45 L313.92,515.19 L314.07,515.93 L314.22,516.65 L314.36,517.37 L314.51,518.09 L314.66,518.79 L314.81,519.49 L314.96,520.19 L315.10,520.87 L315.25,521.55 L315.40,522.22 L315.55,522.88 L315.69,523.54 L315.84,524.18 L315.99,524.82 L316.14,525.46 L316.29,526.08 L316.43,526.70 L316.58,527.31 L316.73,527.91 L316.88,528.50 L317.03,529.08 L317.17,529.66 L317.32,530.23 L317.47,530.79 L317.62,531.34 L317.77,531.89 L317.91,532.42 L318.06,532.95 L318.21,533.47 L318.36,533.98 L318.51,534.48 L318.65,534.97 L318.80,535.45 L318.95,535.93 L319.10,536.39 L319.24,536.85 L319.39,537.30 L319.54,537.74 L319.69,538.17 L319.84,538.59 L319.98,539.01 L320.13,539.41 L320.28,539.80 L320.43,540.19 L320.58,540.57 L320.72,540.93 L320.87,541.29 L321.02,541.64 L321.17,541.98 L321.32,542.31 L321.46,542.63 L321.61,542.94 L321.76,543.24 L321.91,543.53 L322.05,543.81 L322.20,544.09 L322.35,544.35 L322.50,544.60 L322.65,544.85 L322.79,545.08 L322.94,545.31 L323.09,545.52 L323.24,545.73 L323.39,545.92 L323.53,546.11 L323.68,546.29 L323.83,546.45 L323.98,546.61 L324.13,546.76 L324.27,546.89 L324.42,547.02 L324.57,547.14 L324.72,547.24 L324.86,547.34 L325.01,547.43 L325.16,547.51 L325.31,547.57 L325.46,547.63 L325.60,547.68 L325.75,547.72 L325.90,547.75 L326.05,547.76 L326.20,547.77 L326.34,547.77 L326.49,547.76 L326.64,547.74 L326.79,547.71 L326.94,547.66 L327.08,547.61 L327.23,547.55 L327.38,547.48 L327.53,547.40 L327.67,547.31 L327.82,547.21 L327.97,547.10 L328.12,546.97 L328.27,546.84 L328.41,546.70 L328.56,546.55 L328.71,546.39 L328.86,546.22 L329.01,546.04 L329.15,545.86 L329.30,545.66 L329.45,545.45 L329.60,545.23 L329.75,545.00 L329.89,544.76 L330.04,544.52 L330.19,544.26 L330.34,543.99 L330.48,543.72 L330.63,543.43 L330.78,543.13 L330.93,542.83 L331.08,542.51 L331.22,542.19 L331.37,541.86 L331.52,541.52 L331.67,541.16 L331.82,540.80 L331.96,540.43 L332.11,540.05 L332.26,539.66 L332.41,539.27 L332.56,538.86 L332.70,538.44 L332.85,538.02 L333.00,537.58 L333.15,537.14 L333.29,536.69 L333.44,536.23 L333.59,535.76 L333.74,535.28 L333.89,534.79 L334.03,534.30 L334.18,533.79 L334.33,533.28 L334.48,532.76 L334.63,532.23 L334.77,531.69 L334.92,531.15 L335.07,530.59 L335.22,530.03 L335.37,529.46 L335.51,528.88 L335.66,528.29 L335.81,527.69 L335.96,527.09 L336.11,526.48 L336.25,525.86 L336.40,525.23 L336.55,524.60 L336.70,523.95 L336.84,523.30 L336.99,522.64 L337.14,521.98 L337.29,521.31 L337.44,520.63 L337.58,519.94 L337.73,519.24 L337.88,518.54 L338.03,517.83 L338.18,517.12 L338.32,516.39 L338.47,515.66 L338.62,514.93 L338.77,514.18 L338.92,513.43 L339.06,512.68 L339.21,511.92 L339.36,511.15 L339.51,510.37 L339.65,509.59 L339.80,508.80 L339.95,508.00 L340.10,507.20 L340.25,506.40 L340.39,505.58 L340.54,504.77 L340.69,503.94 L340.84,503.11 L340.99,502.28 L341.13,501.44 L341.28,500.59 L341.43,499.74 L341.58,498.88 L341.73,498.02 L341.87,497.15 L342.02,496.28 L342.17,495.40 L342.32,494.52 L342.46,493.63 L342.61,492.74 L342.76,491.85 L342.91,490.95 L343.06,490.04 L343.20,489.13 L343.35,488.22 L343.50,487.30" stroke="#0072bd" stroke-width="1.0" fill="none"/>
<path d="M430.02,589.50 L430.10,354.24" stroke="#0072bd" stroke-width="1.2" fill="none"/>
<path d="M430.10,354.24 L430.18,355.12 L430.18,356.29 L430.18,359.61 L430.19,364.75 L430.19,371.17 L430.19,378.21 L430.20,385.15 L430.20,391.29 L430.21,396.01 L430.21,398.82 L430.21,399.44 L430.22,397.82 L430.22,394.12 L430.22,388.74 L430.23,382.21 L430.23,375.22 L430.24,368.47 L430.24,362.65 L430.24,358.34 L430.25,355.98 L430.25,355.81 L430.26,357.83 L430.26,361.83 L430.26,367.40 L430.27,373.96 L430.27,380.84 L430.27,387.34 L430.28,392.79 L430.28,396.65 L430.29,398.52 L430.29,398.22 L430.29,395.78 L430.30,391.47 L430.30,385.72 L430.31,379.12 L430.31,372.35 L430.31,366.09 L430.32,360.99 L430.32,357.55 L430.32,356.13 L430.33,356.85 L430.33,359.64 L430.34,364.20 L430.34,370.07 L430.34,376.64 L430.35,383.24 L430.35,389.19 L430.35,393.90 L430.36,396.88 L430.36,397.84 L430.37,396.68 L430.37,393.52 L430.37,388.71 L430.38,382.72 L430.38,376.17 L430.39,369.73 L430.39,364.06 L430.39,359.73 L430.40,357.17 L430.40,356.64 L430.40,358.19 L430.41,361.64 L430.41,366.65 L430.42,372.69 L430.42,379.15 L430.42,385.37 L430.43,390.70 L430.43,394.62 L430.44,396.73 L430.44,396.81 L430.44,394.86 L430.45,391.09 L430.45,385.89 L430.45,379.79 L430.46,373.41 L430.46,367.41 L430.47,362.39 L430.47,358.86 L430.47,357.17 L430.48,357.49 L430.48,359.78 L430.49,363.80 L430.49,369.13 L430.49,375.23 L430.50,381.46 L430.50,387.20 L430.50,391.86 L430.51,394.96 L430.51,396.21 L430.52,395.46 L430.52,392.82 L430.52,388.54 L430.53,383.08 L430.53,376.99 L430.53,370.89 L430.54,365.40 L430.54,361.08 L430.55,358.37 L430.55,357.53 L430.55,358.64 L430.56,361.59 L430.56,366.06 L430.57,371.59 L430.57,377.62 L430.57,383.53 L430.58,388.71 L430.58,392.65 L430.58,394.94 L430.59,395.35 L430.59,393.85 L430.60,390.60 L430.60,385.93 L430.60,380.33 L430.61,374.35 L430.61,368.63 L430.62,363.73 L430.62,360.15 L430.62,358.25 L430.63,358.21 L430.63,360.04 L430.63,363.55 L430.64,368.35 L430.64,373.97 L430.65,379.83 L430.65,385.32 L430.65,389.89 L430.66,393.08 L430.66,394.56 L430.67,394.19 L430.67,392.02 L430.67,388.26 L430.68,383.31 L430.68,377.67 L430.68,371.93 L430.69,366.66 L430.69,362.39 L430.70,359.57 L430.70,358.47 L430.70,359.19 L430.71,361.65 L430.71,365.61 L430.71,370.64 L430.72,376.23 L430.72,381.82 L430.73,386.82 L430.73,390.73 L430.73,393.16 L430.74,393.86 L430.74,392.77 L430.75,390.00 L430.75,385.85 L430.75,380.73 L430.76,375.17 L430.76,369.74 L430.76,364.99 L430.77,361.41 L430.77,359.34 L430.78,359.00 L430.78,360.41 L430.78,363.42 L430.79,367.73 L430.79,372.87 L430.80,378.34 L430.80,383.56 L430.80,388.01 L430.81,391.24 L430.81,392.91 L430.81,392.87 L430.82,391.13 L430.82,387.86 L430.83,383.41 L430.83,378.23 L430.83,372.85 L430.84,367.82 L430.84,363.65 L430.85,360.76 L430.85,359.44 L430.85,359.81 L430.86,361.84 L430.86,365.30 L430.86,369.85 L430.87,375.00 L430.87,380.24 L430.88,385.03 L430.88,388.89 L430.88,391.41 L430.89,392.36 L430.89,391.63 L430.89,389.31 L430.90,385.64 L430.90,381.00 L430.91,375.86 L430.91,370.75 L430.91,366.19 L430.92,362.63 L430.92,360.44 L430.93,359.83 L430.93,360.87 L430.93,363.42 L430.94,367.24 L430.94,371.92 L430.94,376.99 L430.95,381.92 L430.95,386.22 L430.96,389.45 L430.96,391.27 L430.96,391.52 L430.97,390.17 L430.97,387.36 L430.98,383.39 L430.98,378.66 L430.98,373.66 L430.99,368.89 L430.99,364.85 L430.99,361.93 L431.00,360.43 L431.00,360.50 L431.01,362.12 L431.01,365.12 L431.01,369.20 L431.02,373.92 L431.02,378.81 L431.02,383.36 L431.03,387.12 L431.03,389.70 L431.04,390.84 L431.04,390.44 L431.04,388.54 L431.05,385.33 L431.05,381.15 L431.06,376.43 L431.06,371.65 L431.06,367.30 L431.07,363.81 L431.07,361.54 L431.07,360.71 L431.08,361.40 L431.08,363.54 L431.09,366.89 L431.09,371.12 L431.09,375.79 L431.10,380.42 L431.10,384.53 L431.11,387.72 L431.11,389.65 L431.11,390.15 L431.12,389.15 L431.12,386.77 L431.12,383.26 L431.13,378.97 L431.13,374.35 L431.14,369.87 L431.14,365.97 L431.14,363.07 L431.15,361.44 L431.15,361.24 L431.16,362.50 L431.16,365.07 L431.16,368.69 L431.17,372.98 L431.17,377.51 L431.17,381.80 L431.18,385.43 L431.18,388.03 L431.19,389.33 L431.19,389.21 L431.19,387.69 L431.20,384.92 L431.20,381.19 L431.20,376.88 L431.21,372.44 L431.21,368.32 L431.22,364.93 L431.22,362.62 L431.22,361.61 L431.23,362.00 L431.23,363.75 L431.24,366.67 L431.24,370.46 L431.24,374.73 L431.25,379.04 L431.25,382.95 L431.25,386.06 L431.26,388.07 L431.26,388.76 L431.27,388.08 L431.27,386.10 L431.27,383.02 L431.28,379.16 L431.28,374.93 L431.29,370.74 L431.29,367.03 L431.29,364.17 L431.30,362.44 L431.30,362.03 L431.30,362.95 L431.31,365.12 L431.31,368.31 L431.32,372.18 L431.32,376.34 L431.32,380.37 L431.33,383.84 L431.33,386.42 L431.34,387.84 L431.34,387.96 L431.34,386.78 L431.35,384.42 L431.35,381.12 L431.35,377.22 L431.36,373.13 L431.36,369.25 L431.37,365.99 L431.37,363.67 L431.37,362.53 L431.38,362.66 L431.38,364.06 L431.38,366.57 L431.39,369.94 L431.39,373.81 L431.40,377.79 L431.40,381.48 L431.40,384.49 L431.41,386.52 L431.41,387.38 L431.42,386.97 L431.42,385.35 L431.42,382.68 L431.43,379.25 L431.43,375.39 L431.43,371.51 L431.44,368.00 L431.44,365.22 L431.45,363.44 L431.45,362.84 L431.45,363.48 L431.46,365.28 L431.46,368.06 L431.47,371.52 L431.47,375.32 L431.47,379.05 L431.48,382.35 L431.48,384.88 L431.48,386.38 L431.49,386.70 L431.49,385.82 L431.50,383.83 L431.50,380.94 L431.50,377.44 L431.51,373.70 L431.51,370.09 L431.52,366.99 L431.52,364.70 L431.52,363.45 L431.53,363.36 L431.53,364.45 L431.53,366.58 L431.54,369.54 L431.54,373.03 L431.55,376.68 L431.55,380.12 L431.55,383.00 L431.56,385.03 L431.56,386.01 L431.56,385.84 L431.57,384.55 L431.57,382.26 L431.58,379.22 L431.58,375.74 L431.58,372.18 L431.59,368.89 L431.59,366.21 L431.60,364.42 L431.60,363.67 L431.60,364.06 L431.61,365.53 L431.61,367.92 L431.61,370.99 L431.62,374.42 L431.62,377.87 L431.63,380.97 L431.63,383.41 L431.63,384.95 L431.64,385.44 L431.64,384.83 L431.65,383.18 L431.65,380.67 L431.65,377.56 L431.66,374.17 L431.66,370.84 L431.66,367.91 L431.67,365.68 L431.67,364.36 L431.68,364.10 L431.68,364.90 L431.68,366.69 L431.69,369.27 L431.69,372.37 L431.70,375.69 L431.70,378.87 L431.70,381.60 L431.71,383.60 L431.71,384.67 L431.71,384.70 L431.72,383.69 L431.72,381.76 L431.73,379.10 L431.73,375.99 L431.73,372.75 L431.74,369.70 L431.74,367.15 L431.74,365.36 L431.75,364.52 L431.75,364.69 L431.76,365.85 L431.76,367.89 L431.76,370.58 L431.77,373.66 L431.77,376.80 L431.78,379.69 L431.78,382.02 L431.78,383.58 L431.79,384.19 L431.79,383.81 L431.79,382.47 L431.80,380.32 L431.80,377.58 L431.81,374.53 L431.81,371.49 L431.81,368.75 L431.82,366.61 L431.82,365.26 L431.83,364.85 L431.83,365.41 L431.83,366.88 L431.84,369.10 L431.84,371.85 L431.84,374.83 L431.85,377.75 L431.85,380.30 L431.86,382.24 L431.86,383.36 L431.86,383.55 L431.87,382.80 L431.87,381.20 L431.88,378.90 L431.88,376.14 L431.88,373.21 L431.89,370.41 L431.89,368.02 L431.89,366.27 L431.90,365.35 L431.90,365.35 L431.91,366.25 L431.91,367.95 L431.91,370.29 L431.92,373.02 L431.92,375.86 L431.92,378.52 L431.93,380.72 L431.93,382.26 L431.94,382.96 L431.94,382.77 L431.94,381.71 L431.95,379.90 L431.95,377.51 L431.96,374.80 L431.96,372.04 L431.96,369.52 L431.97,367.48 L431.97,366.14 L431.97,365.62 L431.98,365.97 L431.98,367.15 L431.99,369.04 L431.99,371.44 L431.99,374.10 L432.00,376.74 L432.00,379.11 L432.01,380.95 L432.01,382.09 L432.01,382.41 L432.02,381.89 L432.02,380.57 L432.02,378.61 L432.03,376.20 L432.03,373.58 L432.04,371.04 L432.04,368.81 L432.04,367.14 L432.05,366.18 L432.05,366.03 L432.05,366.70 L432.06,368.11 L432.06,370.11 L432.07,372.51 L432.07,375.04 L432.07,377.46 L432.08,379.52 L432.08,381.00 L432.09,381.76 L432.09,381.74 L432.09,380.92 L432.10,379.41 L432.10,377.36 L432.10,374.97 L432.11,372.50 L432.11,370.20 L432.12,368.30 L432.12,366.98 L432.12,366.38 L432.13,366.56 L432.13,367.49 L432.14,369.07 L432.14,371.14 L432.14,373.48 L432.15,375.85 L432.15,378.02 L432.15,379.75 L432.16,380.88 L432.16,381.30 L432.17,380.96 L432.17,379.91 L432.17,378.25 L432.18,376.16 L432.18,373.86 L432.19,371.57 L432.19,369.54 L432.19,367.96 L432.20,366.99 L432.20,366.73 L432.20,367.19 L432.21,368.33 L432.21,370.03 L432.22,372.11 L432.22,374.35 L432.22,376.52 L432.23,378.41 L432.23,379.82 L432.23,380.61 L432.24,380.71 L432.24,380.11 L432.25,378.87 L432.25,377.13 L432.25,375.06 L432.26,372.87 L432.26,370.80 L432.27,369.04 L432.27,367.78 L432.27,367.14 L432.28,367.18 L432.28,367.89 L432.28,369.19 L432.29,370.95 L432.29,372.98 L432.30,375.08 L432.30,377.03 L432.30,378.64 L432.31,379.73 L432.31,380.21 L432.32,380.03 L432.32,379.21 L432.32,377.84 L432.33,376.05 L432.33,374.05 L432.33,372.02 L432.34,370.18 L432.34,368.72 L432.35,367.76 L432.35,367.42 L432.35,367.72 L432.36,368.63 L432.36,370.04 L432.37,371.81 L432.37,373.76 L432.37,375.69 L432.38,377.40 L432.38,378.71 L432.38,379.51 L432.39,379.70 L432.39,379.28 L432.40,378.29 L432.40,376.83 L432.40,375.06 L432.41,373.16 L432.41,371.32 L432.41,369.72 L432.42,368.54 L432.42,367.88 L432.43,367.81 L432.43,368.33 L432.43,369.38 L432.44,370.85 L432.44,372.60 L432.45,374.43 L432.45,376.16 L432.45,377.62 L432.46,378.65 L432.46,379.17 L432.46,379.11 L432.47,378.49 L432.47,377.37 L432.48,375.87 L432.48,374.16 L432.48,372.39 L432.49,370.75 L432.49,369.41 L432.50,368.50 L432.50,368.11 L432.50,368.28 L432.51,368.97 L432.51,370.13 L432.51,371.62 L432.52,373.29 L432.52,374.97 L432.53,376.49 L432.53,377.70 L432.53,378.47 L432.54,378.73 L432.54,378.45 L432.55,377.67 L432.55,376.48 L432.55,374.99 L432.56,373.36 L432.56,371.75 L432.56,370.33 L432.57,369.24 L432.57,368.59 L432.58,368.44 L432.58,368.80 L432.58,369.63 L432.59,370.85 L432.59,372.31 L432.59,373.88 L432.60,375.39 L432.60,376.69 L432.61,377.65 L432.61,378.17 L432.61,378.21 L432.62,377.76 L432.62,376.87 L432.63,375.63 L432.63,374.19 L432.63,372.67 L432.64,371.24 L432.64,370.05 L432.64,369.20 L432.65,368.79 L432.65,368.85 L432.66,369.36 L432.66,370.29 L432.66,371.52 L432.67,372.92 L432.67,374.36 L432.68,375.69 L432.68,376.77 L432.68,377.49 L432.69,377.79 L432.69,377.63 L432.69,377.04 L432.70,376.08 L432.70,374.85 L432.71,373.48 L432.71,372.10 L432.71,370.87 L432.72,369.89 L432.72,369.27 L432.73,369.07 L432.73,369.30 L432.73,369.94 L432.74,370.91 L432.74,372.12 L432.74,373.44 L432.75,374.73 L432.75,375.87 L432.76,376.73 L432.76,377.24 L432.76,377.34 L432.77,377.03 L432.77,376.34 L432.77,375.34 L432.78,374.15 L432.78,372.88 L432.79,371.66 L432.79,370.61 L432.79,369.85 L432.80,369.44 L432.80,369.42 L432.81,369.79 L432.81,370.50 L432.81,371.49 L432.82,372.65 L432.82,373.86 L432.82,374.99 L432.83,375.93 L432.83,376.59 L432.84,376.90 L432.84,376.84 L432.84,376.41 L432.85,375.65 L432.85,374.66 L432.86,373.53 L432.86,372.38 L432.86,371.33 L432.87,370.47 L432.87,369.91 L432.87,369.68 L432.88,369.81 L432.88,370.28 L432.89,371.05 L432.89,372.02 L432.89,373.10 L432.90,374.18 L432.90,375.14 L432.90,375.90 L432.91,376.37 L432.91,376.51 L432.92,376.31 L432.92,375.79 L432.92,375.01 L432.93,374.05 L432.93,373.01 L432.94,372.00 L432.94,371.11 L432.94,370.44 L432.95,370.05 L432.95,369.98 L432.95,370.23 L432.96,370.77 L432.96,371.55 L432.97,372.47 L432.97,373.46 L432.97,374.40 L432.98,375.20 L432.98,375.78 L432.99,376.08 L432.99,376.08 L432.99,375.78 L433.00,375.21 L433.00,374.43 L433.00,373.53 L433.01,372.59 L433.01,371.72 L433.02,371.00 L433.02,370.49 L433.02,370.26 L433.03,370.32 L433.03,370.65 L433.04,371.23 L433.04,371.99 L433.04,372.85 L433.05,373.73 L433.05,374.52 L433.05,375.16 L433.06,375.58 L433.06,375.74 L433.07,375.62 L433.07,375.25 L433.07,374.66 L433.08,373.91 L433.08,373.09 L433.08,372.27 L433.09,371.54 L433.09,370.97 L433.10,370.62 L433.10,370.52 L433.10,370.68 L433.11,371.07 L433.11,371.66 L433.12,372.38 L433.12,373.15 L433.12,373.90 L433.13,374.56 L433.13,375.05 L433.13,375.32 L433.14,375.36 L433.14,375.16 L433.15,374.75 L433.15,374.16 L433.15,373.47 L433.16,372.73 L433.16,372.04 L433.17,371.45 L433.17,371.03 L433.17,370.81 L433.18,370.82 L433.18,371.04 L433.18,371.46 L433.19,372.03 L433.19,372.69 L433.20,373.37 L433.20,374.00 L433.20,374.52 L433.21,374.87 L433.21,375.03 L433.22,374.97 L433.22,374.72 L433.22,374.29 L433.23,373.73 L433.23,373.10 L433.23,372.47 L433.24,371.90 L433.24,371.44 L433.25,371.15 L433.25,371.04 L433.25,371.12 L433.26,371.40 L433.26,371.82 L433.26,372.35 L433.27,372.93 L433.27,373.51 L433.28,374.02 L433.28,374.41 L433.28,374.64 L433.29,374.70 L433.29,374.58 L433.30,374.29 L433.30,373.87 L433.30,373.37 L433.31,372.82 L433.31,372.29 L433.31,371.84 L433.32,371.50 L433.32,371.31 L433.33,371.29 L433.33,371.43 L433.33,371.72 L433.34,372.13 L433.34,372.61 L433.35,373.10 L433.35,373.57 L433.35,373.97 L433.36,374.25 L433.36,374.39 L433.36,374.37 L433.37,374.21 L433.37,373.91 L433.38,373.52 L433.38,373.07 L433.38,372.62 L433.39,372.19 L433.39,371.85 L433.40,371.62 L433.40,371.52 L433.40,371.56 L433.41,371.73 L433.41,372.02 L433.41,372.38 L433.42,372.80 L433.42,373.21 L433.43,373.58 L433.43,373.87 L433.43,374.05 L433.44,374.11 L433.44,374.05 L433.44,373.86 L433.45,373.58 L433.45,373.23 L433.46,372.86 L433.46,372.49 L433.46,372.16 L433.47,371.92 L433.47,371.77 L433.48,371.74 L433.48,371.82 L433.48,372.00 L433.49,372.27 L433.49,372.58 L433.49,372.92 L433.50,373.25 L433.50,373.52 L433.51,373.72 L433.51,373.83 L433.51,373.84 L433.52,373.74 L433.52,373.56 L433.53,373.30 L433.53,373.01 L433.53,372.71 L433.54,372.42 L433.54,372.19 L433.54,372.02 L433.55,371.95 L433.55,371.96 L433.56,372.06 L433.56,372.23 L433.56,372.47 L433.57,372.73 L433.57,372.99 L433.57,373.23 L433.58,373.42 L433.58,373.55 L433.59,373.60 L433.59,373.57 L433.59,373.47 L433.60,373.30 L433.60,373.09 L433.61,372.85 L433.61,372.62 L433.61,372.42 L433.62,372.26 L433.62,372.16 L433.62,372.13 L433.63,372.17 L433.63,372.28 L433.64,372.43 L433.64,372.62 L433.64,372.82 L433.65,373.01 L433.65,373.17 L433.66,373.30 L433.66,373.37 L433.66,373.38 L433.67,373.33 L433.67,373.23 L433.67,373.09 L433.68,372.93 L433.68,372.76 L433.69,372.60 L433.69,372.46 L433.69,372.36 L433.70,372.32 L433.70,372.32 L433.71,372.37 L433.71,372.46 L433.71,372.58 L433.72,372.72 L433.72,372.86 L433.72,372.98 L433.73,373.09 L433.73,373.16 L433.74,373.19 L433.74,373.18 L433.74,373.13 L433.75,373.04 L433.75,372.94 L433.75,372.83 L433.76,372.71 L433.76,372.61 L433.77,372.53 L433.77,372.48 L433.77,372.47 L433.78,372.48 L433.78,372.53 L433.79,372.60 L433.79,372.68 L433.79,372.77 L433.80,372.86 L433.80,372.93 L433.80,372.99 L433.81,373.02 L433.81,373.02 L433.82,373.00 L433.82,372.96 L433.82,372.91 L433.83,372.84 L433.83,372.77 L433.84,372.71 L433.84,372.66 L433.84,372.62 L433.85,372.61 L433.85,372.61 L433.85,372.62 L433.86,372.66 L433.86,372.70 L433.87,372.74 L433.87,372.79 L433.87,372.83 L433.88,372.86 L433.88,372.88 L433.89,372.89 L433.89,372.89 L433.89,372.87 L433.90,372.85 L433.90,372.82 L433.90,372.79 L433.91,372.76 L433.91,372.74 L433.92,372.72 L433.92,372.71 L433.92,372.71 L433.93,372.72 L433.93,372.73 L433.93,372.74 L433.94,372.76 L433.94,372.77 L433.95,372.78 L433.95,372.79 L433.95,372.80 L433.96,372.80 L433.96,372.80 L433.97,372.79 L433.97,372.79 L433.97,372.78 L433.98,372.78 L433.98,372.77 L433.98,372.77 L433.99,372.77 L433.99,372.77 L434.00,372.77 L434.00,372.77" stroke="#0072bd" stroke-width="0.6" fill="none"/>
<path d="M434.00,372.77 L434.15,372.75 L434.30,372.72 L434.44,372.69 L434.59,372.66 L434.74,372.63 L434.89,372.60 L435.03,372.58 L435.18,372.55 L435.33,372.52 L435.48,372.49 L435.63,372.47 L435.77,372.44 L435.92,372.41 L436.07,372.39 L436.22,372.36 L436.37,372.33 L436.51,372.30 L436.66,372.28 L436.81,372.25 L436.96,372.23 L437.10,372.20 L437.25,372.17 L437.40,372.15 L437.55,372.12 L437.70,372.10 L437.84,372.07 L437.99,372.05 L438.14,372.02 L438.29,372.00 L438.43,371.97 L438.58,371.95 L438.73,371.92 L438.88,371.90 L439.03,371.87 L439.17,371.85 L439.32,371.83 L439.47,371.80 L439.62,371.78 L439.77,371.76 L439.91,371.73 L440.06,371.71 L440.21,371.69 L440.36,371.67 L440.50,371.64 L440.65,371.62 L440.80,371.60 L440.95,371.58 L441.10,371.56 L441.24,371.54 L441.39,371.51 L441.54,371.49 L441.69,371.47 L441.83,371.45 L441.98,371.43 L442.13,371.41 L442.28,371.39 L442.43,371.37 L442.57,371.35 L442.72,371.33 L442.87,371.32 L443.02,371.30 L443.17,371.28 L443.31,371.26 L443.46,371.24 L443.61,371.23 L443.76,371.21 L443.90,371.19 L444.05,371.17 L444.20,371.16 L444.35,371.14 L444.50,371.12 L444.64,371.11 L444.79,371.09 L444.94,371.08 L445.09,371.06 L445.23,371.05 L445.38,371.03 L445.53,371.02 L445.68,371.00 L445.83,370.99 L445.97,370.98 L446.12,370.96 L446.27,370.95 L446.42,370.94 L446.57,370.92 L446.71,370.91 L446.86,370.90 L447.01,370.89 L447.16,370.88 L447.30,370.86 L447.45,370.85 L447.60,370.84 L447.75,370.83 L447.90,370.82 L448.04,370.81 L448.19,370.80 L448.34,370.79 L448.49,370.78 L448.63,370.78 L448.78,370.77 L448.93,370.76 L449.08,370.75 L449.23,370.74 L449.37,370.74 L449.52,370.73 L449.67,370.72 L449.82,370.72 L449.96,370.71 L450.11,370.70 L450.26,370.70 L450.41,370.69 L450.56,370.69 L450.70,370.68 L450.85,370.68 L451.00,370.67 L451.15,370.67 L451.30,370.67 L451.44,370.66 L451.59,370.66 L451.74,370.66 L451.89,370.65 L452.03,370.65 L452.18,370.65 L452.33,370.65 L452.48,370.65 L452.63,370.65 L452.77,370.65 L452.92,370.65 L453.07,370.65 L453.22,370.65 L453.36,370.65 L453.51,370.65 L453.66,370.65 L453.81,370.65 L453.96,370.65 L454.10,370.65 L454.25,370.65 L454.40,370.66 L454.55,370.66 L454.70,370.66 L454.84,370.67 L454.99,370.67 L455.14,370.67 L455.29,370.68 L455.43,370.68 L455.58,370.69 L455.73,370.69 L455.88,370.70 L456.03,370.70 L456.17,370.71 L456.32,370.72 L456.47,370.72 L456.62,370.73 L456.76,370.74 L456.91,370.74 L457.06,370.75 L457.21,370.76 L457.36,370.77 L457.50,370.78 L457.65,370.79 L457.80,370.79 L457.95,370.80 L458.10,370.81 L458.24,370.82 L458.39,370.83 L458.54,370.84 L458.69,370.85 L458.83,370.87 L458.98,370.88 L459.13,370.89 L459.28,370.90 L459.43,370.91 L459.57,370.93 L459.72,370.94 L459.87,370.95 L460.02,370.96 L460.16,370.98 L460.31,370.99 L460.46,371.01 L460.61,371.02 L460.76,371.03 L460.90,371.05 L461.05,371.06 L461.20,371.08 L461.35,371.09 L461.50,371.11 L461.64,371.13 L461.79,371.14 L461.94,371.16 L462.09,371.18 L462.23,371.19 L462.38,371.21 L462.53,371.23 L462.68,371.24 L462.83,371.26 L462.97,371.28 L463.12,371.30 L463.27,371.32 L463.42,371.34 L463.56,371.36 L463.71,371.38 L463.86,371.39 L464.01,371.41 L464.16,371.43 L464.30,371.45 L464.45,371.48 L464.60,371.50 L464.75,371.52 L464.90,371.54 L465.04,371.56 L465.19,371.58 L465.34,371.60 L465.49,371.62 L465.63,371.65 L465.78,371.67 L465.93,371.69 L466.08,371.71 L466.23,371.74 L466.37,371.76 L466.52,371.78 L466.67,371.81 L466.82,371.83 L466.96,371.85 L467.11,371.88 L467.26,371.90 L467.41,371.92 L467.56,371.95 L467.70,371.97 L467.85,372.00 L468.00,372.02 L468.15,372.05 L468.30,372.07 L468.44,372.10 L468.59,372.12 L468.74,372.15 L468.89,372.18 L469.03,372.20 L469.18,372.23 L469.33,372.25 L469.48,372.28 L469.63,372.31 L469.77,372.33 L469.92,372.36 L470.07,372.39 L470.22,372.41 L470.36,372.44 L470.51,372.47 L470.66,372.50 L470.81,372.52 L470.96,372.55 L471.10,372.58 L471.25,372.61 L471.40,372.64 L471.55,372.66 L471.70,372.69 L471.84,372.72 L471.99,372.75 L472.14,372.78 L472.29,372.81 L472.43,372.83 L472.58,372.86 L472.73,372.89 L472.88,372.92 L473.03,372.95 L473.17,372.98 L473.32,373.01 L473.47,373.04 L473.62,373.06 L473.76,373.09 L473.91,373.12 L474.06,373.15 L474.21,373.18 L474.36,373.21 L474.50,373.24 L474.65,373.27 L474.80,373.30 L474.95,373.33 L475.10,373.36 L475.24,373.39 L475.39,373.42 L475.54,373.45 L475.69,373.48 L475.83,373.51 L475.98,373.54 L476.13,373.57 L476.28,373.60 L476.43,373.63 L476.57,373.66 L476.72,373.69 L476.87,373.72 L477.02,373.75 L477.16,373.78 L477.31,373.81 L477.46,373.84 L477.61,373.86 L477.76,373.89 L477.90,373.92 L478.05,373.95 L478.20,373.98 L478.35,374.01 L478.49,374.04 L478.64,374.07 L478.79,374.10 L478.94,374.13 L479.09,374.16 L479.23,374.19 L479.38,374.22 L479.53,374.25 L479.68,374.28 L479.83,374.31 L479.97,374.34 L480.12,374.36 L480.27,374.39 L480.42,374.42 L480.56,374.45 L480.71,374.48 L480.86,374.51 L481.01,374.54 L481.16,374.57 L481.30,374.59 L481.45,374.62 L481.60,374.65 L481.75,374.68 L481.89,374.71 L482.04,374.73 L482.19,374.76 L482.34,374.79 L482.49,374.82 L482.63,374.85 L482.78,374.87 L482.93,374.90 L483.08,374.93 L483.23,374.95 L483.37,374.98 L483.52,375.01 L483.67,375.03 L483.82,375.06 L483.96,375.09 L484.11,375.11 L484.26,375.14 L484.41,375.17 L484.56,375.19 L484.70,375.22 L484.85,375.24 L485.00,375.27 L485.15,375.29 L485.29,375.32 L485.44,375.34 L485.59,375.37 L485.74,375.39 L485.89,375.42 L486.03,375.44 L486.18,375.46 L486.33,375.49 L486.48,375.51 L486.63,375.54 L486.77,375.56 L486.92,375.58 L487.07,375.60 L487.22,375.63 L487.36,375.65 L487.51,375.67 L487.66,375.69 L487.81,375.72 L487.96,375.74 L488.10,375.76 L488.25,375.78 L488.40,375.80 L488.55,375.82 L488.69,375.84 L488.84,375.86 L488.99,375.89 L489.14,375.91 L489.29,375.93 L489.43,375.94 L489.58,375.96 L489.73,375.98 L489.88,376.00 L490.03,376.02 L490.17,376.04 L490.32,376.06 L490.47,376.08 L490.62,376.09 L490.76,376.11 L490.91,376.13 L491.06,376.15 L491.21,376.16 L491.36,376.18 L491.50,376.20 L491.65,376.21 L491.80,376.23 L491.95,376.24 L492.09,376.26 L492.24,376.27 L492.39,376.29 L492.54,376.30 L492.69,376.32 L492.83,376.33 L492.98,376.35 L493.13,376.36 L493.28,376.37 L493.43,376.39 L493.57,376.40 L493.72,376.41 L493.87,376.42 L494.02,376.44 L494.16,376.45 L494.31,376.46 L494.46,376.47 L494.61,376.48 L494.76,376.49 L494.90,376.50 L495.05,376.51 L495.20,376.52 L495.35,376.53 L495.49,376.54 L495.64,376.55 L495.79,376.56 L495.94,376.57 L496.09,376.58 L496.23,376.58 L496.38,376.59 L496.53,376.60 L496.68,376.61 L496.83,376.61 L496.97,376.62 L497.12,376.63 L497.27,376.63 L497.42,376.64 L497.56,376.64 L497.71,376.65 L497.86,376.65 L498.01,376.66 L498.16,376.66 L498.30,376.66 L498.45,376.67 L498.60,376.67 L498.75,376.67 L498.89,376.68 L499.04,376.68 L499.19,376.68 L499.34,376.68 L499.49,376.69 L499.63,376.69 L499.78,376.69 L499.93,376.69 L500.08,376.69 L500.23,376.69 L500.37,376.69 L500.52,376.69 L500.67,376.69 L500.82,376.69 L500.96,376.68 L501.11,376.68 L501.26,376.68 L501.41,376.68 L501.56,376.68 L501.70,376.67 L501.85,376.67 L502.00,376.67 L502.15,376.66 L502.29,376.66 L502.44,376.65 L502.59,376.65 L502.74,376.64 L502.89,376.64 L503.03,376.63 L503.18,376.63 L503.33,376.62 L503.48,376.62 L503.63,376.61 L503.77,376.60 L503.92,376.60 L504.07,376.59 L504.22,376.58 L504.36,376.57 L504.51,376.56 L504.66,376.55 L504.81,376.55 L504.96,376.54 L505.10,376.53 L505.25,376.52 L505.40,376.51 L505.55,376.50 L505.69,376.49 L505.84,376.48 L505.99,376.46 L506.14,376.45 L506.29,376.44 L506.43,376.43 L506.58,376.42 L506.73,376.41 L506.88,376.39 L507.03,376.38 L507.17,376.37 L507.32,376.35 L507.47,376.34 L507.62,376.33 L507.76,376.31 L507.91,376.30 L508.06,376.28 L508.21,376.27 L508.36,376.25 L508.50,376.24 L508.65,376.22 L508.80,376.20 L508.95,376.19 L509.09,376.17 L509.24,376.15 L509.39,376.14 L509.54,376.12 L509.69,376.10 L509.83,376.08 L509.98,376.07 L510.13,376.05 L510.28,376.03 L510.42,376.01 L510.57,375.99 L510.72,375.97 L510.87,375.95 L511.02,375.93 L511.16,375.91 L511.31,375.89 L511.46,375.87 L511.61,375.85 L511.76,375.83 L511.90,375.81 L512.05,375.79 L512.20,375.77 L512.35,375.75 L512.49,375.73 L512.64,375.70 L512.79,375.68 L512.94,375.66 L513.09,375.64 L513.23,375.62 L513.38,375.59 L513.53,375.57 L513.68,375.55 L513.82,375.52 L513.97,375.50 L514.12,375.48 L514.27,375.45 L514.42,375.43 L514.56,375.40 L514.71,375.38 L514.86,375.35 L515.01,375.33 L515.16,375.30 L515.30,375.28 L515.45,375.25 L515.60,375.23 L515.75,375.20 L515.89,375.18 L516.04,375.15 L516.19,375.13 L516.34,375.10 L516.49,375.07 L516.63,375.05 L516.78,375.02 L516.93,374.99 L517.08,374.97 L517.22,374.94 L517.37,374.91 L517.52,374.89 L517.67,374.86 L517.82,374.83 L517.96,374.80 L518.11,374.78 L518.26,374.75 L518.41,374.72 L518.56,374.69 L518.70,374.66 L518.85,374.64 L519.00,374.61 L519.15,374.58 L519.29,374.55 L519.44,374.52 L519.59,374.49 L519.74,374.46 L519.89,374.44 L520.03,374.41 L520.18,374.38 L520.33,374.35 L520.48,374.32 L520.62,374.29 L520.77,374.26 L520.92,374.23 L521.07,374.20 L521.22,374.17 L521.36,374.14 L521.51,374.12 L521.66,374.09 L521.81,374.06 L521.96,374.03 L522.10,374.00 L522.25,373.97 L522.40,373.94 L522.55,373.91 L522.69,373.88 L522.84,373.85 L522.99,373.82 L523.14,373.79 L523.29,373.76 L523.43,373.73 L523.58,373.70 L523.73,373.67 L523.88,373.64 L524.02,373.61 L524.17,373.58 L524.32,373.55 L524.47,373.52 L524.62,373.49 L524.76,373.46 L524.91,373.43 L525.06,373.40 L525.21,373.37 L525.36,373.34 L525.50,373.31 L525.65,373.28 L525.80,373.25 L525.95,373.23 L526.09,373.20 L526.24,373.17 L526.39,373.14 L526.54,373.11 L526.69,373.08 L526.83,373.05 L526.98,373.02 L527.13,372.99 L527.28,372.96 L527.42,372.93 L527.57,372.90 L527.72,372.88 L527.87,372.85 L528.02,372.82 L528.16,372.79 L528.31,372.76 L528.46,372.73 L528.61,372.70 L528.76,372.68 L528.90,372.65 L529.05,372.62 L529.20,372.59 L529.35,372.56 L529.49,372.54 L529.64,372.51 L529.79,372.48 L529.94,372.45 L530.09,372.43 L530.23,372.40 L530.38,372.37 L530.53,372.35 L530.68,372.32 L530.82,372.29 L530.97,372.27 L531.12,372.24 L531.27,372.21 L531.42,372.19 L531.56,372.16 L531.71,372.14 L531.86,372.11 L532.01,372.09 L532.16,372.06 L532.30,372.04 L532.45,372.01 L532.60,371.99 L532.75,371.96 L532.89,371.94 L533.04,371.91 L533.19,371.89 L533.34,371.86 L533.49,371.84 L533.63,371.82 L533.78,371.79 L533.93,371.77 L534.08,371.75 L534.22,371.72 L534.37,371.70 L534.52,371.68 L534.67,371.66 L534.82,371.63 L534.96,371.61 L535.11,371.59 L535.26,371.57 L535.41,371.55 L535.56,371.53 L535.70,371.51 L535.85,371.48 L536.00,371.46 L536.15,371.44 L536.29,371.42 L536.44,371.40 L536.59,371.38 L536.74,371.36 L536.89,371.35 L537.03,371.33 L537.18,371.31 L537.33,371.29 L537.48,371.27 L537.62,371.25 L537.77,371.24 L537.92,371.22 L538.07,371.20 L538.22,371.18 L538.36,371.17 L538.51,371.15 L538.66,371.13 L538.81,371.12 L538.95,371.10 L539.10,371.09 L539.25,371.07 L539.40,371.06 L539.55,371.04 L539.69,371.03 L539.84,371.01 L539.99,371.00 L540.14,370.98 L540.29,370.97 L540.43,370.96 L540.58,370.94 L540.73,370.93 L540.88,370.92 L541.02,370.91 L541.17,370.89 L541.32,370.88 L541.47,370.87 L541.62,370.86 L541.76,370.85 L541.91,370.84 L542.06,370.83 L542.21,370.82 L542.35,370.81 L542.50,370.80 L542.65,370.79 L542.80,370.78 L542.95,370.77 L543.09,370.76 L543.24,370.76 L543.39,370.75 L543.54,370.74 L543.69,370.73 L543.83,370.73 L543.98,370.72 L544.13,370.71 L544.28,370.71 L544.42,370.70 L544.57,370.70 L544.72,370.69 L544.87,370.68 L545.02,370.68 L545.16,370.68 L545.31,370.67 L545.46,370.67 L545.61,370.66 L545.75,370.66 L545.90,370.66 L546.05,370.66 L546.20,370.65 L546.35,370.65 L546.49,370.65 L546.64,370.65 L546.79,370.65 L546.94,370.65 L547.09,370.65 L547.23,370.65 L547.38,370.65 L547.53,370.65 L547.68,370.65 L547.82,370.65 L547.97,370.65 L548.12,370.65 L548.27,370.65 L548.42,370.65 L548.56,370.66 L548.71,370.66 L548.86,370.66 L549.01,370.66 L549.15,370.67 L549.30,370.67 L549.45,370.68 L549.60,370.68 L549.75,370.68 L549.89,370.69 L550.04,370.69 L550.19,370.70 L550.34,370.71 L550.49,370.71 L550.63,370.72 L550.78,370.73 L550.93,370.73 L551.08,370.74 L551.22,370.75 L551.37,370.76 L551.52,370.76 L551.67,370.77 L551.82,370.78 L551.96,370.79 L552.11,370.80 L552.26,370.81 L552.41,370.82 L552.55,370.83 L552.70,370.84 L552.85,370.85 L553.00,370.86 L553.15,370.87 L553.29,370.88 L553.44,370.89 L553.59,370.91 L553.74,370.92 L553.89,370.93 L554.03,370.94 L554.18,370.96 L554.33,370.97 L554.48,370.98 L554.62,371.00 L554.77,371.01 L554.92,371.03 L555.07,371.04 L555.22,371.06 L555.36,371.07 L555.51,371.09 L555.66,371.10 L555.81,371.12 L555.95,371.13 L556.10,371.15 L556.25,371.17 L556.40,371.18 L556.55,371.20 L556.69,371.22 L556.84,371.23 L556.99,371.25 L557.14,371.27 L557.29,371.29 L557.43,371.31 L557.58,371.33 L557.73,371.35 L557.88,371.36 L558.02,371.38 L558.17,371.40 L558.32,371.42 L558.47,371.44 L558.62,371.46 L558.76,371.48 L558.91,371.50 L559.06,371.53 L559.21,371.55 L559.35,371.57 L559.50,371.59 L559.65,371.61 L559.80,371.63 L559.95,371.66 L560.09,371.68 L560.24,371.70 L560.39,371.72 L560.54,371.75 L560.69,371.77 L560.83,371.79 L560.98,371.82 L561.13,371.84 L561.28,371.86 L561.42,371.89 L561.57,371.91 L561.72,371.94 L561.87,371.96 L562.02,371.98 L562.16,372.01 L562.31,372.03 L562.46,372.06 L562.61,372.08 L562.75,372.11 L562.90,372.14 L563.05,372.16 L563.20,372.19 L563.35,372.21 L563.49,372.24 L563.64,372.27 L563.79,372.29 L563.94,372.32 L564.09,372.35 L564.23,372.37 L564.38,372.40 L564.53,372.43 L564.68,372.45 L564.82,372.48 L564.97,372.51 L565.12,372.54 L565.27,372.56 L565.42,372.59 L565.56,372.62 L565.71,372.65 L565.86,372.68 L566.01,372.70 L566.15,372.73 L566.30,372.76 L566.45,372.79 L566.60,372.82 L566.75,372.85 L566.89,372.87 L567.04,372.90 L567.19,372.93 L567.34,372.96 L567.48,372.99 L567.63,373.02 L567.78,373.05 L567.93,373.08 L568.08,373.11 L568.22,373.14 L568.37,373.17 L568.52,373.19 L568.67,373.22 L568.82,373.25 L568.96,373.28 L569.11,373.31 L569.26,373.34 L569.41,373.37 L569.55,373.40 L569.70,373.43 L569.85,373.46 L570.00,373.49 L570.15,373.52 L570.29,373.55 L570.44,373.58 L570.59,373.61 L570.74,373.64 L570.88,373.67 L571.03,373.70 L571.18,373.73 L571.33,373.76 L571.48,373.79 L571.62,373.82 L571.77,373.85 L571.92,373.88 L572.07,373.91 L572.22,373.94 L572.36,373.97 L572.51,374.00 L572.66,374.03 L572.81,374.06 L572.95,374.08 L573.10,374.11 L573.25,374.14 L573.40,374.17 L573.55,374.20 L573.69,374.23 L573.84,374.26 L573.99,374.29 L574.14,374.32 L574.28,374.35 L574.43,374.38 L574.58,374.41 L574.73,374.44 L574.88,374.46 L575.02,374.49 L575.17,374.52 L575.32,374.55 L575.47,374.58 L575.62,374.61 L575.76,374.63 L575.91,374.66 L576.06,374.69 L576.21,374.72 L576.35,374.75 L576.50,374.77 L576.65,374.80 L576.80,374.83 L576.95,374.86 L577.09,374.88 L577.24,374.91 L577.39,374.94 L577.54,374.97 L577.68,374.99 L577.83,375.02 L577.98,375.05 L578.13,375.07 L578.28,375.10 L578.42,375.12 L578.57,375.15 L578.72,375.18 L578.87,375.20 L579.02,375.23 L579.16,375.25 L579.31,375.28 L579.46,375.30 L579.61,375.33 L579.75,375.35 L579.90,375.38 L580.05,375.40 L580.20,375.43 L580.35,375.45 L580.49,375.47 L580.64,375.50 L580.79,375.52 L580.94,375.55 L581.08,375.57 L581.23,375.59 L581.38,375.61 L581.53,375.64 L581.68,375.66 L581.82,375.68 L581.97,375.70 L582.12,375.73 L582.27,375.75 L582.42,375.77 L582.56,375.79 L582.71,375.81 L582.86,375.83 L583.01,375.85 L583.15,375.87 L583.30,375.89 L583.45,375.91 L583.60,375.93 L583.75,375.95 L583.89,375.97 L584.04,375.99 L584.19,376.01 L584.34,376.03 L584.48,376.05 L584.63,376.07 L584.78,376.08 L584.93,376.10 L585.08,376.12 L585.22,376.14 L585.37,376.15 L585.52,376.17 L585.67,376.19 L585.82,376.20 L585.96,376.22 L586.11,376.24 L586.26,376.25 L586.41,376.27 L586.55,376.28 L586.70,376.30 L586.85,376.31 L587.00,376.32 L587.15,376.34 L587.29,376.35 L587.44,376.37 L587.59,376.38 L587.74,376.39 L587.88,376.40 L588.03,376.42 L588.18,376.43 L588.33,376.44 L588.48,376.45 L588.62,376.46 L588.77,376.48 L588.92,376.49 L589.07,376.50 L589.22,376.51 L589.36,376.52 L589.51,376.53 L589.66,376.54 L589.81,376.55 L589.95,376.55 L590.10,376.56 L590.25,376.57 L590.40,376.58 L590.55,376.59 L590.69,376.59 L590.84,376.60 L590.99,376.61 L591.14,376.62 L591.28,376.62 L591.43,376.63 L591.58,376.63 L591.73,376.64 L591.88,376.64 L592.02,376.65 L592.17,376.65 L592.32,376.66 L592.47,376.66 L592.62,376.67 L592.76,376.67 L592.91,376.67 L593.06,376.68 L593.21,376.68 L593.35,376.68 L593.50,376.68 L593.65,376.68 L593.80,376.69 L593.95,376.69 L594.09,376.69 L594.24,376.69 L594.39,376.69 L594.54,376.69 L594.68,376.69 L594.83,376.69 L594.98,376.69 L595.13,376.69 L595.28,376.68 L595.42,376.68 L595.57,376.68 L595.72,376.68 L595.87,376.67 L596.02,376.67 L596.16,376.67 L596.31,376.66 L596.46,376.66 L596.61,376.66 L596.75,376.65 L596.90,376.65 L597.05,376.64 L597.20,376.64 L597.35,376.63 L597.49,376.63 L597.64,376.62 L597.79,376.61 L597.94,376.61 L598.08,376.60 L598.23,376.59 L598.38,376.58 L598.53,376.58 L598.68,376.57 L598.82,376.56 L598.97,376.55 L599.12,376.54 L599.27,376.53 L599.41,376.52 L599.56,376.51 L599.71,376.50 L599.86,376.49 L600.01,376.48 L600.15,376.47 L600.30,376.46 L600.45,376.45 L600.60,376.44 L600.75,376.42 L600.89,376.41 L601.04,376.40 L601.19,376.39 L601.34,376.37 L601.48,376.36 L601.63,376.35 L601.78,376.33 L601.93,376.32 L602.08,376.30 L602.22,376.29 L602.37,376.28 L602.52,376.26 L602.67,376.24 L602.81,376.23 L602.96,376.21 L603.11,376.20 L603.26,376.18 L603.41,376.16 L603.55,376.15 L603.70,376.13 L603.85,376.11 L604.00,376.09 L604.15,376.08 L604.29,376.06 L604.44,376.04 L604.59,376.02 L604.74,376.00 L604.88,375.98 L605.03,375.96 L605.18,375.95 L605.33,375.93 L605.48,375.91 L605.62,375.89 L605.77,375.87 L605.92,375.84 L606.07,375.82 L606.21,375.80 L606.36,375.78 L606.51,375.76 L606.66,375.74 L606.81,375.72 L606.95,375.70 L607.10,375.67 L607.25,375.65 L607.40,375.63 L607.55,375.61 L607.69,375.58 L607.84,375.56 L607.99,375.54 L608.14,375.51 L608.28,375.49 L608.43,375.47 L608.58,375.44 L608.73,375.42 L608.88,375.39 L609.02,375.37 L609.17,375.34 L609.32,375.32 L609.47,375.29 L609.61,375.27 L609.76,375.24 L609.91,375.22 L610.06,375.19 L610.21,375.17 L610.35,375.14 L610.50,375.11 L610.65,375.09 L610.80,375.06 L610.95,375.04 L611.09,375.01 L611.24,374.98 L611.39,374.95 L611.54,374.93 L611.68,374.90 L611.83,374.87 L611.98,374.85 L612.13,374.82 L612.28,374.79 L612.42,374.76 L612.57,374.74 L612.72,374.71 L612.87,374.68 L613.01,374.65 L613.16,374.62 L613.31,374.60 L613.46,374.57 L613.61,374.54 L613.75,374.51 L613.90,374.48 L614.05,374.45 L614.20,374.42 L614.35,374.39 L614.49,374.37 L614.64,374.34 L614.79,374.31 L614.94,374.28 L615.08,374.25 L615.23,374.22 L615.38,374.19 L615.53,374.16 L615.68,374.13 L615.82,374.10 L615.97,374.07 L616.12,374.04 L616.27,374.01 L616.41,373.98 L616.56,373.95 L616.71,373.93 L616.86,373.90 L617.01,373.87 L617.15,373.84 L617.30,373.81 L617.45,373.78 L617.60,373.75 L617.75,373.72 L617.89,373.69 L618.04,373.66 L618.19,373.63 L618.34,373.60 L618.48,373.57 L618.63,373.54 L618.78,373.51 L618.93,373.48 L619.08,373.45 L619.22,373.42 L619.37,373.39 L619.52,373.36 L619.67,373.33 L619.81,373.30 L619.96,373.27 L620.11,373.24 L620.26,373.21 L620.41,373.18 L620.55,373.15 L620.70,373.12 L620.85,373.10 L621.00,373.07 L621.15,373.04 L621.29,373.01 L621.44,372.98 L621.59,372.95 L621.74,372.92 L621.88,372.89 L622.03,372.86 L622.18,372.83 L622.33,372.81 L622.48,372.78 L622.62,372.75 L622.77,372.72 L622.92,372.69 L623.07,372.66 L623.21,372.64 L623.36,372.61 L623.51,372.58 L623.66,372.55 L623.81,372.53 L623.95,372.50 L624.10,372.47 L624.25,372.44 L624.40,372.42 L624.55,372.39 L624.69,372.36 L624.84,372.34 L624.99,372.31 L625.14,372.28 L625.28,372.26 L625.43,372.23 L625.58,372.20 L625.73,372.18 L625.88,372.15 L626.02,372.13 L626.17,372.10 L626.32,372.07 L626.47,372.05 L626.61,372.02 L626.76,372.00 L626.91,371.97 L627.06,371.95 L627.21,371.93 L627.35,371.90 L627.50,371.88 L627.65,371.85 L627.80,371.83 L627.94,371.81 L628.09,371.78 L628.24,371.76 L628.39,371.74 L628.54,371.71 L628.68,371.69 L628.83,371.67 L628.98,371.65 L629.13,371.62 L629.28,371.60 L629.42,371.58 L629.57,371.56 L629.72,371.54 L629.87,371.52 L630.01,371.50 L630.16,371.48 L630.31,371.46 L630.46,371.44 L630.61,371.42 L630.75,371.40 L630.90,371.38 L631.05,371.36 L631.20,371.34 L631.34,371.32 L631.49,371.30 L631.64,371.28 L631.79,371.26 L631.94,371.25 L632.08,371.23 L632.23,371.21 L632.38,371.19 L632.53,371.18 L632.68,371.16 L632.82,371.14 L632.97,371.13 L633.12,371.11 L633.27,371.09 L633.41,371.08 L633.56,371.06 L633.71,371.05 L633.86,371.03 L634.01,371.02 L634.15,371.01 L634.30,370.99 L634.45,370.98 L634.60,370.96 L634.74,370.95 L634.89,370.94 L635.04,370.93 L635.19,370.91 L635.34,370.90 L635.48,370.89 L635.63,370.88 L635.78,370.87 L635.93,370.86 L636.08,370.84 L636.22,370.83 L636.37,370.82 L636.52,370.81 L636.67,370.80 L636.81,370.79 L636.96,370.79 L637.11,370.78 L637.26,370.77 L637.41,370.76 L637.55,370.75 L637.70,370.74 L637.85,370.74 L638.00,370.73 L638.14,370.72 L638.29,370.72 L638.44,370.71 L638.59,370.70 L638.74,370.70 L638.88,370.69 L639.03,370.69 L639.18,370.68 L639.33,370.68 L639.48,370.67 L639.62,370.67 L639.77,370.67 L639.92,370.66 L640.07,370.66 L640.21,370.66 L640.36,370.65 L640.51,370.65 L640.66,370.65 L640.81,370.65 L640.95,370.65 L641.10,370.65 L641.25,370.65 L641.40,370.65 L641.54,370.65 L641.69,370.65 L641.84,370.65 L641.99,370.65 L642.14,370.65 L642.28,370.65 L642.43,370.65 L642.58,370.65 L642.73,370.65 L642.88,370.66 L643.02,370.66 L643.17,370.66 L643.32,370.67 L643.47,370.67 L643.61,370.67 L643.76,370.68 L643.91,370.68 L644.06,370.69 L644.21,370.69 L644.35,370.70 L644.50,370.70 L644.65,370.71 L644.80,370.72 L644.94,370.72 L645.09,370.73 L645.24,370.74 L645.39,370.74 L645.54,370.75 L645.68,370.76 L645.83,370.77 L645.98,370.78 L646.13,370.78 L646.28,370.79 L646.42,370.80 L646.57,370.81 L646.72,370.82 L646.87,370.83 L647.01,370.84 L647.16,370.85 L647.31,370.86 L647.46,370.88 L647.61,370.89 L647.75,370.90 L647.90,370.91 L648.05,370.92 L648.20,370.94 L648.34,370.95 L648.49,370.96 L648.64,370.98 L648.79,370.99 L648.94,371.00 L649.08,371.02 L649.23,371.03 L649.38,371.05 L649.53,371.06 L649.68,371.08 L649.82,371.09 L649.97,371.11 L650.12,371.12 L650.27,371.14 L650.41,371.16 L650.56,371.17 L650.71,371.19 L650.86,371.21 L651.01,371.22 L651.15,371.24 L651.30,371.26 L651.45,371.28 L651.60,371.30 L651.74,371.32 L651.89,371.33 L652.04,371.35 L652.19,371.37 L652.34,371.39 L652.48,371.41 L652.63,371.43 L652.78,371.45 L652.93,371.47 L653.08,371.49 L653.22,371.51 L653.37,371.53 L653.52,371.56 L653.67,371.58 L653.81,371.60 L653.96,371.62 L654.11,371.64 L654.26,371.66 L654.41,371.69 L654.55,371.71 L654.70,371.73 L654.85,371.76 L655.00,371.78 L655.14,371.80 L655.29,371.83 L655.44,371.85 L655.59,371.87 L655.74,371.90 L655.88,371.92 L656.03,371.95 L656.18,371.97 L656.33,372.00 L656.47,372.02 L656.62,372.05 L656.77,372.07 L656.92,372.10 L657.07,372.12 L657.21,372.15 L657.36,372.17 L657.51,372.20 L657.66,372.22 L657.81,372.25 L657.95,372.28 L658.10,372.30 L658.25,372.33 L658.40,372.36 L658.54,372.38 L658.69,372.41 L658.84,372.44 L658.99,372.47 L659.14,372.49 L659.28,372.52 L659.43,372.55 L659.58,372.58 L659.73,372.60 L659.87,372.63 L660.02,372.66 L660.17,372.69 L660.32,372.72 L660.47,372.74 L660.61,372.77 L660.76,372.80 L660.91,372.83 L661.06,372.86 L661.21,372.89 L661.35,372.92 L661.50,372.94 L661.65,372.97 L661.80,373.00 L661.94,373.03 L662.09,373.06 L662.24,373.09 L662.39,373.12 L662.54,373.15 L662.68,373.18 L662.83,373.21 L662.98,373.24 L663.13,373.27 L663.27,373.30 L663.42,373.33 L663.57,373.36 L663.72,373.38 L663.87,373.41 L664.01,373.44 L664.16,373.47 L664.31,373.50 L664.46,373.53 L664.61,373.56 L664.75,373.59 L664.90,373.62 L665.05,373.65 L665.20,373.68 L665.34,373.71 L665.49,373.74 L665.64,373.77 L665.79,373.80 L665.94,373.83 L666.08,373.86 L666.23,373.89 L666.38,373.92 L666.53,373.95 L666.67,373.98 L666.82,374.01 L666.97,374.04 L667.12,374.07 L667.27,374.10 L667.41,374.13 L667.56,374.16 L667.71,374.19 L667.86,374.22 L668.01,374.24 L668.15,374.27 L668.30,374.30 L668.45,374.33 L668.60,374.36 L668.74,374.39 L668.89,374.42 L669.04,374.45 L669.19,374.48 L669.34,374.50 L669.48,374.53 L669.63,374.56 L669.78,374.59 L669.93,374.62 L670.07,374.65 L670.22,374.67 L670.37,374.70 L670.52,374.73 L670.67,374.76 L670.81,374.79 L670.96,374.81 L671.11,374.84 L671.26,374.87 L671.41,374.90 L671.55,374.92 L671.70,374.95 L671.85,374.98 L672.00,375.00 L672.14,375.03 L672.29,375.06 L672.44,375.08 L672.59,375.11 L672.74,375.14 L672.88,375.16 L673.03,375.19 L673.18,375.21 L673.33,375.24 L673.47,375.26 L673.62,375.29 L673.77,375.31 L673.92,375.34 L674.07,375.36 L674.21,375.39 L674.36,375.41 L674.51,375.44 L674.66,375.46 L674.81,375.49 L674.95,375.51 L675.10,375.53 L675.25,375.56 L675.40,375.58 L675.54,375.60 L675.69,375.62 L675.84,375.65 L675.99,375.67 L676.14,375.69 L676.28,375.71 L676.43,375.74 L676.58,375.76 L676.73,375.78 L676.87,375.80 L677.02,375.82 L677.17,375.84 L677.32,375.86 L677.47,375.88 L677.61,375.90 L677.76,375.92 L677.91,375.94 L678.06,375.96 L678.21,375.98 L678.35,376.00 L678.50,376.02 L678.65,376.04 L678.80,376.06 L678.94,376.07 L679.09,376.09 L679.24,376.11 L679.39,376.13 L679.54,376.14 L679.68,376.16 L679.83,376.18 L679.98,376.19 L680.13,376.21 L680.27,376.23 L680.42,376.24 L680.57,376.26 L680.72,376.27 L680.87,376.29 L681.01,376.30 L681.16,376.32 L681.31,376.33 L681.46,376.34 L681.61,376.36 L681.75,376.37 L681.90,376.38 L682.05,376.40 L682.20,376.41 L682.34,376.42 L682.49,376.43 L682.64,376.45 L682.79,376.46 L682.94,376.47 L683.08,376.48 L683.23,376.49 L683.38,376.50 L683.53,376.51 L683.67,376.52 L683.82,376.53 L683.97,376.54 L684.12,376.55 L684.27,376.56 L684.41,376.57 L684.56,376.58 L684.71,376.58 L684.86,376.59 L685.01,376.60 L685.15,376.61 L685.30,376.61 L685.45,376.62 L685.60,376.62 L685.74,376.63 L685.89,376.64 L686.04,376.64 L686.19,376.65 L686.34,376.65 L686.48,376.66 L686.63,376.66 L686.78,376.66 L686.93,376.67 L687.07,376.67 L687.22,376.67 L687.37,376.68 L687.52,376.68 L687.67,376.68 L687.81,376.68 L687.96,376.68 L688.11,376.69 L688.26,376.69 L688.40,376.69 L688.55,376.69 L688.70,376.69 L688.85,376.69 L689.00,376.69 L689.14,376.69 L689.29,376.69 L689.44,376.68 L689.59,376.68 L689.74,376.68 L689.88,376.68 L690.03,376.68 L690.18,376.67 L690.33,376.67 L690.47,376.67 L690.62,376.66 L690.77,376.66 L690.92,376.65 L691.07,376.65 L691.21,376.65 L691.36,376.64 L691.51,376.63 L691.66,376.63 L691.80,376.62 L691.95,376.62 L692.10,376.61 L692.25,376.60 L692.40,376.60 L692.54,376.59 L692.69,376.58 L692.84,376.57 L692.99,376.56 L693.14,376.56 L693.28,376.55 L693.43,376.54 L693.58,376.53 L693.73,376.52 L693.87,376.51 L694.02,376.50 L694.17,376.49 L694.32,376.48 L694.47,376.47 L694.61,376.46 L694.76,376.44 L694.91,376.43 L695.06,376.42 L695.20,376.41 L695.35,376.39 L695.50,376.38 L695.65,376.37 L695.80,376.35 L695.94,376.34 L696.09,376.33 L696.24,376.31 L696.39,376.30 L696.54,376.28 L696.68,376.27 L696.83,376.25 L696.98,376.24 L697.13,376.22 L697.27,376.21 L697.42,376.19 L697.57,376.17 L697.72,376.16 L697.87,376.14 L698.01,376.12 L698.16,376.10 L698.31,376.09 L698.46,376.07 L698.60,376.05 L698.75,376.03 L698.90,376.01 L699.05,375.99 L699.20,375.98 L699.34,375.96 L699.49,375.94 L699.64,375.92 L699.79,375.90 L699.94,375.88 L700.08,375.86 L700.23,375.84 L700.38,375.82 L700.53,375.79 L700.67,375.77 L700.82,375.75 L700.97,375.73 L701.12,375.71 L701.27,375.69 L701.41,375.66 L701.56,375.64 L701.71,375.62 L701.86,375.60 L702.00,375.57 L702.15,375.55 L702.30,375.53 L702.45,375.50 L702.60,375.48 L702.74,375.45 L702.89,375.43 L703.04,375.41 L703.19,375.38 L703.34,375.36 L703.48,375.33 L703.63,375.31 L703.78,375.28 L703.93,375.26 L704.07,375.23 L704.22,375.21 L704.37,375.18 L704.52,375.16 L704.67,375.13 L704.81,375.10 L704.96,375.08 L705.11,375.05 L705.26,375.02 L705.40,375.00 L705.55,374.97 L705.70,374.94 L705.85,374.92 L706.00,374.89 L706.14,374.86 L706.29,374.83 L706.44,374.81 L706.59,374.78 L706.74,374.75 L706.88,374.72 L707.03,374.70 L707.18,374.67 L707.33,374.64 L707.47,374.61 L707.62,374.58 L707.77,374.55 L707.92,374.53 L708.07,374.50 L708.21,374.47 L708.36,374.44 L708.51,374.41 L708.66,374.38 L708.80,374.35 L708.95,374.32 L709.10,374.30 L709.25,374.27 L709.40,374.24 L709.54,374.21 L709.69,374.18 L709.84,374.15 L709.99,374.12 L710.14,374.09 L710.28,374.06 L710.43,374.03 L710.58,374.00 L710.73,373.97 L710.87,373.94 L711.02,373.91 L711.17,373.88 L711.32,373.85 L711.47,373.82 L711.61,373.79 L711.76,373.76 L711.91,373.73 L712.06,373.70 L712.20,373.67 L712.35,373.64 L712.50,373.61 L712.65,373.59 L712.80,373.56 L712.94,373.53 L713.09,373.50 L713.24,373.47 L713.39,373.44 L713.54,373.41 L713.68,373.38 L713.83,373.35 L713.98,373.32 L714.13,373.29 L714.27,373.26 L714.42,373.23 L714.57,373.20 L714.72,373.17 L714.87,373.14 L715.01,373.11 L715.16,373.08 L715.31,373.05 L715.46,373.02 L715.60,373.00 L715.75,372.97 L715.90,372.94 L716.05,372.91 L716.20,372.88 L716.34,372.85 L716.49,372.82 L716.64,372.79 L716.79,372.77 L716.93,372.74 L717.08,372.71 L717.23,372.68 L717.38,372.65 L717.53,372.62 L717.67,372.60 L717.82,372.57 L717.97,372.54 L718.12,372.51 L718.27,372.49 L718.41,372.46 L718.56,372.43 L718.71,372.40 L718.86,372.38 L719.00,372.35 L719.15,372.32 L719.30,372.30 L719.45,372.27 L719.60,372.24 L719.74,372.22 L719.89,372.19 L720.04,372.17 L720.19,372.14 L720.33,372.11 L720.48,372.09 L720.63,372.06 L720.78,372.04 L720.93,372.01 L721.07,371.99 L721.22,371.96 L721.37,371.94 L721.52,371.92 L721.67,371.89 L721.81,371.87 L721.96,371.84 L722.11,371.82 L722.26,371.80 L722.40,371.77 L722.55,371.75 L722.70,371.73 L722.85,371.70 L723.00,371.68 L723.14,371.66 L723.29,371.64 L723.44,371.61 L723.59,371.59 L723.73,371.57 L723.88,371.55 L724.03,371.53 L724.18,371.51 L724.33,371.49 L724.47,371.47 L724.62,371.45 L724.77,371.43 L724.92,371.41 L725.07,371.39 L725.21,371.37 L725.36,371.35 L725.51,371.33 L725.66,371.31 L725.80,371.29 L725.95,371.27 L726.10,371.26 L726.25,371.24 L726.40,371.22 L726.54,371.20 L726.69,371.19 L726.84,371.17 L726.99,371.15 L727.13,371.14 L727.28,371.12 L727.43,371.10 L727.58,371.09 L727.73,371.07 L727.87,371.06 L728.02,371.04 L728.17,371.03 L728.32,371.01 L728.47,371.00 L728.61,370.99 L728.76,370.97 L728.91,370.96 L729.06,370.95 L729.20,370.93 L729.35,370.92 L729.50,370.91" stroke="#0072bd" stroke-width="1.0" fill="none"/>
<text transform="translate(43.50,286.20) scale(1,1.1)" font-size="9" text-anchor="middle">0</text>
<text transform="translate(73.50,286.20) scale(1,1.1)" font-size="9" text-anchor="middle">2</text>
<text transform="translate(103.50,286.20) scale(1,1.1)" font-size="9" text-anchor="middle">4</text>
<text transform="translate(133.50,286.20) scale(1,1.1)" font-size="9" text-anchor="middle">6</text>
<text transform="translate(163.50,286.20) scale(1,1.1)" font-size="9" text-anchor="middle">8</text>
<text data-o="1" transform="translate(193.50,286.20) scale(1,1.1)" font-size="9" text-anchor="middle"> 0</text>
<text data-o="2" transform="translate(223.50,286.20) scale(1,1.1)" font-size="9" text-anchor="middle"> 2</text>
<text data-o="3" transform="translate(253.50,286.20) scale(1,1.1)" font-size="9" text-anchor="middle"> 4</text>
<text data-o="4" transform="translate(283.50,286.20) scale(1,1.1)" font-size="9" text-anchor="middle"> 6</text>
<text data-o="5" transform="translate(313.50,286.20) scale(1,1.1)" font-size="9" text-anchor="middle"> 8</text>
<text transform="translate(343.50,286.20) scale(1,1.1)" font-size="9" text-anchor="middle">20</text>
<text transform="translate(39.60,276.10) scale(1,1.1)" font-size="9" text-anchor="end">-0.5</text>
<text transform="translate(39.60,251.30) scale(1,1.1)" font-size="9" text-anchor="end">-0.4</text>
<text transform="translate(39.60,226.50) scale(1,1.1)" font-size="9" text-anchor="end">-0.3</text>
<text transform="translate(39.60,201.70) scale(1,1.1)" font-size="9" text-anchor="end">-0.2</text>
<text data-o="6" transform="translate(39.60,176.90) scale(1,1.1)" font-size="9" text-anchor="end">-0. </text>
<text transform="translate(39.60,152.10) scale(1,1.1)" font-size="9" text-anchor="end">0</text>
<text data-o="7" transform="translate(39.60,127.30) scale(1,1.1)" font-size="9" text-anchor="end">0. </text>
<text transform="translate(39.60,102.50) scale(1,1.1)" font-size="9" text-anchor="end">0.2</text>
<text transform="translate(39.60,77.70) scale(1,1.1)" font-size="9" text-anchor="end">0.3</text>
<text transform="translate(39.60,52.90) scale(1,1.1)" font-size="9" text-anchor="end">0.4</text>
<text transform="translate(39.60,28.10) scale(1,1.1)" font-size="9" text-anchor="end">0.5</text>
<text x="193.50" y="299.90" font-size="10" text-anchor="middle">Time(sec)</text>
<text transform="translate(429.50,286.20) scale(1,1.1)" font-size="9" text-anchor="middle">0</text>
<text transform="translate(459.50,286.20) scale(1,1.1)" font-size="9" text-anchor="middle">2</text>
<text transform="translate(489.50,286.20) scale(1,1.1)" font-size="9" text-anchor="middle">4</text>
<text transform="translate(519.50,286.20) scale(1,1.1)" font-size="9" text-anchor="middle">6</text>
<text transform="translate(549.50,286.20) scale(1,1.1)" font-size="9" text-anchor="middle">8</text>
<text data-o="8" transform="translate(579.50,286.20) scale(1,1.1)" font-size="9" text-anchor="middle"> 0</text>
<text data-o="9" transform="translate(609.50,286.20) scale(1,1.1)" font-size="9" text-anchor="middle"> 2</text>
<text data-o="10" transform="translate(639.50,286.20) scale(1,1.1)" font-size="9" text-anchor="middle"> 4</text>
<text data-o="11" transform="translate(669.50,286.20) scale(1,1.1)" font-size="9" text-anchor="middle"> 6</text>
<text data-o="12" transform="translate(699.50,286.20) scale(1,1.1)" font-size="9" text-anchor="middle"> 8</text>
<text transform="translate(729.50,286.20) scale(1,1.1)" font-size="9" text-anchor="middle">20</text>
<text transform="translate(425.60,276.10) scale(1,1.1)" font-size="9" text-anchor="end">-0.6</text>
<text transform="translate(425.60,234.77) scale(1,1.1)" font-size="9" text-anchor="end">-0.4</text>
<text transform="translate(425.60,193.43) scale(1,1.1)" font-size="9" text-anchor="end">-0.2</text>
<text transform="translate(425.60,152.10) scale(1,1.1)" font-size="9" text-anchor="end">0</text>
<text transform="translate(425.60,110.77) scale(1,1.1)" font-size="9" text-anchor="end">0.2</text>
<text transform="translate(425.60,69.43) scale(1,1.1)" font-size="9" text-anchor="end">0.4</text>
<text transform="translate(425.60,28.10) scale(1,1.1)" font-size="9" text-anchor="end">0.6</text>
<text x="579.50" y="299.90" font-size="10" text-anchor="middle">Time(sec)</text>
<text transform="translate(43.50,603.20) scale(1,1.1)" font-size="9" text-anchor="middle">0</text>
<text transform="translate(73.50,603.20) scale(1,1.1)" font-size="9" text-anchor="middle">2</text>
<text transform="translate(103.50,603.20) scale(1,1.1)" font-size="9" text-anchor="middle">4</text>
<text transform="translate(133.50,603.20) scale(1,1.1)" font-size="9" text-anchor="middle">6</text>
<text transform="translate(163.50,603.20) scale(1,1.1)" font-size="9" text-anchor="middle">8</text>
<text data-o="13" transform="translate(193.50,603.20) scale(1,1.1)" font-size="9" text-anchor="middle"> 0</text>
<text data-o="14" transform="translate(223.50,603.20) scale(1,1.1)" font-size="9" text-anchor="middle"> 2</text>
<text data-o="15" transform="translate(253.50,603.20) scale(1,1.1)" font-size="9" text-anchor="middle"> 4</text>
<text data-o="16" transform="translate(283.50,603.20) scale(1,1.1)" font-size="9" text-anchor="middle"> 6</text>
<text data-o="17" transform="translate(313.50,603.20) scale(1,1.1)" font-size="9" text-anchor="middle"> 8</text>
<text transform="translate(343.50,603.20) scale(1,1.1)" font-size="9" text-anchor="middle">20</text>
<text data-o="18" transform="translate(39.60,593.10) scale(1,1.1)" font-size="9" text-anchor="end">- 0</text>
<text transform="translate(39.60,564.32) scale(1,1.1)" font-size="9" text-anchor="end">-8</text>
<text transform="translate(39.60,535.54) scale(1,1.1)" font-size="9" text-anchor="end">-6</text>
<text transform="translate(39.60,506.77) scale(1,1.1)" font-size="9" text-anchor="end">-4</text>
<text transform="translate(39.60,477.99) scale(1,1.1)" font-size="9" text-anchor="end">-2</text>
<text transform="translate(39.60,449.21) scale(1,1.1)" font-size="9" text-anchor="end">0</text>
<text transform="translate(39.60,420.43) scale(1,1.1)" font-size="9" text-anchor="end">2</text>
<text transform="translate(39.60,391.66) scale(1,1.1)" font-size="9" text-anchor="end">4</text>
<text transform="translate(39.60,362.88) scale(1,1.1)" font-size="9" text-anchor="end">6</text>
<text transform="translate(39.60,334.10) scale(1,1.1)" font-size="9" text-anchor="end">8</text>
<text x="193.50" y="616.90" font-size="10" text-anchor="middle">Time(sec)</text>
<text transform="translate(429.50,603.20) scale(1,1.1)" font-size="9" text-anchor="middle">0</text>
<text transform="translate(459.50,603.20) scale(1,1.1)" font-size="9" text-anchor="middle">2</text>
<text transform="translate(489.50,603.20) scale(1,1.1)" font-size="9" text-anchor="middle">4</text>
<text transform="translate(519.50,603.20) scale(1,1.1)" font-size="9" text-anchor="middle">6</text>
<text transform="translate(549.50,603.20) scale(1,1.1)" font-size="9" text-anchor="middle">8</text>
<text data-o="19" transform="translate(579.50,603.20) scale(1,1.1)" font-size="9" text-anchor="middle"> 0</text>
<text data-o="20" transform="translate(609.50,603.20) scale(1,1.1)" font-size="9" text-anchor="middle"> 2</text>
<text data-o="21" transform="translate(639.50,603.20) scale(1,1.1)" font-size="9" text-anchor="middle"> 4</text>
<text data-o="22" transform="translate(669.50,603.20) scale(1,1.1)" font-size="9" text-anchor="middle"> 6</text>
<text data-o="23" transform="translate(699.50,603.20) scale(1,1.1)" font-size="9" text-anchor="middle"> 8</text>
<text transform="translate(729.50,603.20) scale(1,1.1)" font-size="9" text-anchor="middle">20</text>
<text transform="translate(425.60,593.10) scale(1,1.1)" font-size="9" text-anchor="end">-0.5</text>
<text transform="translate(425.60,549.93) scale(1,1.1)" font-size="9" text-anchor="end">-0.4</text>
<text transform="translate(425.60,506.77) scale(1,1.1)" font-size="9" text-anchor="end">-0.3</text>
<text transform="translate(425.60,463.60) scale(1,1.1)" font-size="9" text-anchor="end">-0.2</text>
<text data-o="24" transform="translate(425.60,420.43) scale(1,1.1)" font-size="9" text-anchor="end">-0. </text>
<text transform="translate(425.60,377.27) scale(1,1.1)" font-size="9" text-anchor="end">0</text>
<text data-o="25" transform="translate(425.60,334.10) scale(1,1.1)" font-size="9" text-anchor="end">0. </text>
<text x="579.50" y="616.90" font-size="10" text-anchor="middle">Time(sec)</text>
<text transform="translate(18.6,148.45) rotate(-90)" x="0" y="0" font-size="10.2" text-anchor="middle" textLength="98.7" lengthAdjust="spacingAndGlyphs">Angular position(rad)</text>
<text transform="translate(405.2,148.15) rotate(-90)" x="0" y="0" font-size="10.2" text-anchor="middle" textLength="98.7" lengthAdjust="spacingAndGlyphs">Angular position(rad)</text>
<text transform="translate(20.8,459.55) rotate(-90)" x="0" y="0" font-size="10.2" text-anchor="middle" textLength="46.7" lengthAdjust="spacingAndGlyphs">Error(rad)</text>
<text transform="translate(405.3,459.55) rotate(-90)" x="0" y="0" font-size="10.2" text-anchor="middle" textLength="46.7" lengthAdjust="spacingAndGlyphs">Error(rad)</text>
<text data-o="26" x="194.00" y="16.6" font-size="10.05" font-weight="bold" text-anchor="middle" fill="#000"><tspan dy="0">The output y</tspan><tspan font-size="8" dx="1.0" dy="4.9"> </tspan><tspan dx="0.3" dy="-4.9">(t) and the reference r</tspan><tspan font-size="8" dx="1.0" dy="4.9"> </tspan><tspan dx="0.3" dy="-4.9">(t) for the robot manipulator</tspan></text>
<text x="580.00" y="16.6" font-size="10.05" font-weight="bold" text-anchor="middle" fill="#000"><tspan dy="0">The output y</tspan><tspan font-size="8" dx="1.0" dy="4.9">2</tspan><tspan dx="0.3" dy="-4.9">(t) and the reference r</tspan><tspan font-size="8" dx="1.0" dy="4.9">2</tspan><tspan dx="0.3" dy="-4.9">(t) for the robot manipulator</tspan></text>
<text data-o="27" x="194.00" y="321.8" font-size="10.05" font-weight="bold" text-anchor="middle" fill="#000"><tspan dy="0">The error of the output y</tspan><tspan font-size="8" dx="1.0" dy="4.9"> </tspan><tspan dx="0.3" dy="-4.9">(t) and r</tspan><tspan font-size="8" dx="1.0" dy="4.9"> </tspan><tspan dx="0.3" dy="-4.9">(t)</tspan></text>
<text x="580.00" y="321.8" font-size="10.05" font-weight="bold" text-anchor="middle" fill="#000"><tspan dy="0">The error of the output y</tspan><tspan font-size="8" dx="1.0" dy="4.9">2</tspan><tspan dx="0.3" dy="-4.9">(t) and r</tspan><tspan font-size="8" dx="1.0" dy="4.9">2</tspan><tspan dx="0.3" dy="-4.9">(t)</tspan></text>
<text x="43.4" y="327.6" font-size="10">×</text>
<text data-o="28" transform="translate(50.2,327.6) scale(1,1.08)" font-size="9.2"> 0</text>
<text x="60.5" y="322.8" font-size="7.6">-3</text>
<rect x="284.5" y="32.5" width="51.0" height="33.0" fill="#fff" stroke="#5c5c5c" stroke-width="1"/>
<path d="M287.0,41.5 h28" stroke="#2f8ad0" stroke-width="0.8" stroke-dasharray="2.7,1.3"/>
<path d="M287.0,56.5 h28" stroke="#ee1a2e" stroke-width="1"/>
<text data-o="29" x="316.7" y="44.0" font-size="8.6">y<tspan font-size="6.6" dx="0.4" dy="2.6"> </tspan><tspan dx="0.2" dy="-2.6">(t)</tspan></text>
<text data-o="30" x="316.7" y="59.0" font-size="8.6">r<tspan font-size="6.6" dx="0.4" dy="2.6"> </tspan><tspan dx="0.2" dy="-2.6">(t)</tspan></text>
<rect x="670.5" y="32.5" width="51.0" height="33.0" fill="#fff" stroke="#5c5c5c" stroke-width="1"/>
<path d="M673.0,41.5 h28" stroke="#2f8ad0" stroke-width="0.8" stroke-dasharray="2.7,1.3"/>
<path d="M673.0,56.5 h28" stroke="#ee1a2e" stroke-width="1"/>
<text x="702.7" y="44.0" font-size="8.6">y<tspan font-size="6.6" dx="0.4" dy="2.6">2</tspan><tspan dx="0.2" dy="-2.6">(t)</tspan></text>
<text x="702.7" y="59.0" font-size="8.6">r<tspan font-size="6.6" dx="0.4" dy="2.6">2</tspan><tspan dx="0.2" dy="-2.6">(t)</tspan></text>
<path transform="translate(193.50,286.20) scale(1,1.1) translate(-5.00,0.00) scale(0.004395,-0.004395)" d="M763 0H583V1102Q518 1043 412 983Q307 924 223 894V1061Q374 1129 487 1226Q600 1323 647 1409H763V0Z" fill="rgb(38, 38, 38)"/>
<path transform="translate(223.50,286.20) scale(1,1.1) translate(-5.00,0.00) scale(0.004395,-0.004395)" d="M763 0H583V1102Q518 1043 412 983Q307 924 223 894V1061Q374 1129 487 1226Q600 1323 647 1409H763V0Z" fill="rgb(38, 38, 38)"/>
<path transform="translate(253.50,286.20) scale(1,1.1) translate(-5.00,0.00) scale(0.004395,-0.004395)" d="M763 0H583V1102Q518 1043 412 983Q307 924 223 894V1061Q374 1129 487 1226Q600 1323 647 1409H763V0Z" fill="rgb(38, 38, 38)"/>
<path transform="translate(283.50,286.20) scale(1,1.1) translate(-5.00,0.00) scale(0.004395,-0.004395)" d="M763 0H583V1102Q518 1043 412 983Q307 924 223 894V1061Q374 1129 487 1226Q600 1323 647 1409H763V0Z" fill="rgb(38, 38, 38)"/>
<path transform="translate(313.50,286.20) scale(1,1.1) translate(-5.00,0.00) scale(0.004395,-0.004395)" d="M763 0H583V1102Q518 1043 412 983Q307 924 223 894V1061Q374 1129 487 1226Q600 1323 647 1409H763V0Z" fill="rgb(38, 38, 38)"/>
<path transform="translate(39.60,176.90) scale(1,1.1) translate(-5.01,0.00) scale(0.004395,-0.004395)" d="M763 0H583V1102Q518 1043 412 983Q307 924 223 894V1061Q374 1129 487 1226Q600 1323 647 1409H763V0Z" fill="rgb(38, 38, 38)"/>
<path transform="translate(39.60,127.30) scale(1,1.1) translate(-5.02,0.00) scale(0.004395,-0.004395)" d="M763 0H583V1102Q518 1043 412 983Q307 924 223 894V1061Q374 1129 487 1226Q600 1323 647 1409H763V0Z" fill="rgb(38, 38, 38)"/>
<path transform="translate(579.50,286.20) scale(1,1.1) translate(-5.00,0.00) scale(0.004395,-0.004395)" d="M763 0H583V1102Q518 1043 412 983Q307 924 223 894V1061Q374 1129 487 1226Q600 1323 647 1409H763V0Z" fill="rgb(38, 38, 38)"/>
<path transform="translate(609.50,286.20) scale(1,1.1) translate(-5.00,0.00) scale(0.004395,-0.004395)" d="M763 0H583V1102Q518 1043 412 983Q307 924 223 894V1061Q374 1129 487 1226Q600 1323 647 1409H763V0Z" fill="rgb(38, 38, 38)"/>
<path transform="translate(639.50,286.20) scale(1,1.1) translate(-5.00,0.00) scale(0.004395,-0.004395)" d="M763 0H583V1102Q518 1043 412 983Q307 924 223 894V1061Q374 1129 487 1226Q600 1323 647 1409H763V0Z" fill="rgb(38, 38, 38)"/>
<path transform="translate(669.50,286.20) scale(1,1.1) translate(-5.00,0.00) scale(0.004395,-0.004395)" d="M763 0H583V1102Q518 1043 412 983Q307 924 223 894V1061Q374 1129 487 1226Q600 1323 647 1409H763V0Z" fill="rgb(38, 38, 38)"/>
<path transform="translate(699.50,286.20) scale(1,1.1) translate(-5.00,0.00) scale(0.004395,-0.004395)" d="M763 0H583V1102Q518 1043 412 983Q307 924 223 894V1061Q374 1129 487 1226Q600 1323 647 1409H763V0Z" fill="rgb(38, 38, 38)"/>
<path transform="translate(193.50,603.20) scale(1,1.1) translate(-5.00,0.00) scale(0.004395,-0.004395)" d="M763 0H583V1102Q518 1043 412 983Q307 924 223 894V1061Q374 1129 487 1226Q600 1323 647 1409H763V0Z" fill="rgb(38, 38, 38)"/>
<path transform="translate(223.50,603.20) scale(1,1.1) translate(-5.00,0.00) scale(0.004395,-0.004395)" d="M763 0H583V1102Q518 1043 412 983Q307 924 223 894V1061Q374 1129 487 1226Q600 1323 647 1409H763V0Z" fill="rgb(38, 38, 38)"/>
<path transform="translate(253.50,603.20) scale(1,1.1) translate(-5.00,0.00) scale(0.004395,-0.004395)" d="M763 0H583V1102Q518 1043 412 983Q307 924 223 894V1061Q374 1129 487 1226Q600 1323 647 1409H763V0Z" fill="rgb(38, 38, 38)"/>
<path transform="translate(283.50,603.20) scale(1,1.1) translate(-5.00,0.00) scale(0.004395,-0.004395)" d="M763 0H583V1102Q518 1043 412 983Q307 924 223 894V1061Q374 1129 487 1226Q600 1323 647 1409H763V0Z" fill="rgb(38, 38, 38)"/>
<path transform="translate(313.50,603.20) scale(1,1.1) translate(-5.00,0.00) scale(0.004395,-0.004395)" d="M763 0H583V1102Q518 1043 412 983Q307 924 223 894V1061Q374 1129 487 1226Q600 1323 647 1409H763V0Z" fill="rgb(38, 38, 38)"/>
<path transform="translate(39.60,593.10) scale(1,1.1) translate(-10.02,0.00) scale(0.004395,-0.004395)" d="M763 0H583V1102Q518 1043 412 983Q307 924 223 894V1061Q374 1129 487 1226Q600 1323 647 1409H763V0Z" fill="rgb(38, 38, 38)"/>
<path transform="translate(579.50,603.20) scale(1,1.1) translate(-5.00,0.00) scale(0.004395,-0.004395)" d="M763 0H583V1102Q518 1043 412 983Q307 924 223 894V1061Q374 1129 487 1226Q600 1323 647 1409H763V0Z" fill="rgb(38, 38, 38)"/>
<path transform="translate(609.50,603.20) scale(1,1.1) translate(-5.00,0.00) scale(0.004395,-0.004395)" d="M763 0H583V1102Q518 1043 412 983Q307 924 223 894V1061Q374 1129 487 1226Q600 1323 647 1409H763V0Z" fill="rgb(38, 38, 38)"/>
<path transform="translate(639.50,603.20) scale(1,1.1) translate(-5.00,0.00) scale(0.004395,-0.004395)" d="M763 0H583V1102Q518 1043 412 983Q307 924 223 894V1061Q374 1129 487 1226Q600 1323 647 1409H763V0Z" fill="rgb(38, 38, 38)"/>
<path transform="translate(669.50,603.20) scale(1,1.1) translate(-5.00,0.00) scale(0.004395,-0.004395)" d="M763 0H583V1102Q518 1043 412 983Q307 924 223 894V1061Q374 1129 487 1226Q600 1323 647 1409H763V0Z" fill="rgb(38, 38, 38)"/>
<path transform="translate(699.50,603.20) scale(1,1.1) translate(-5.00,0.00) scale(0.004395,-0.004395)" d="M763 0H583V1102Q518 1043 412 983Q307 924 223 894V1061Q374 1129 487 1226Q600 1323 647 1409H763V0Z" fill="rgb(38, 38, 38)"/>
<path transform="translate(425.60,420.43) scale(1,1.1) translate(-5.01,0.00) scale(0.004395,-0.004395)" d="M763 0H583V1102Q518 1043 412 983Q307 924 223 894V1061Q374 1129 487 1226Q600 1323 647 1409H763V0Z" fill="rgb(38, 38, 38)"/>
<path transform="translate(425.60,334.10) scale(1,1.1) translate(-5.02,0.00) scale(0.004395,-0.004395)" d="M763 0H583V1102Q518 1043 412 983Q307 924 223 894V1061Q374 1129 487 1226Q600 1323 647 1409H763V0Z" fill="rgb(38, 38, 38)"/>
<path transform="translate(101.33,21.50) scale(0.003906,-0.003906)" d="M856 0H581V997Q430 861 225 797V1036Q333 1070 459 1164Q585 1258 632 1409H856V0Z" fill="rgb(0, 0, 0)"/>
<path transform="translate(210.38,21.50) scale(0.003906,-0.003906)" d="M856 0H581V997Q430 861 225 797V1036Q333 1070 459 1164Q585 1258 632 1409H856V0Z" fill="rgb(0, 0, 0)"/>
<path transform="translate(223.85,326.70) scale(0.003906,-0.003906)" d="M856 0H581V997Q430 861 225 797V1036Q333 1070 459 1164Q585 1258 632 1409H856V0Z" fill="rgb(0, 0, 0)"/>
<path transform="translate(267.01,326.70) scale(0.003906,-0.003906)" d="M856 0H581V997Q430 861 225 797V1036Q333 1070 459 1164Q585 1258 632 1409H856V0Z" fill="rgb(0, 0, 0)"/>
<path transform="translate(50.2,327.6) scale(1,1.08) translate(0.00,0.00) scale(0.004492,-0.004492)" d="M763 0H583V1102Q518 1043 412 983Q307 924 223 894V1061Q374 1129 487 1226Q600 1323 647 1409H763V0Z" fill="rgb(38, 38, 38)"/>
<path transform="translate(321.40,46.60) scale(0.003223,-0.003223)" d="M763 0H583V1102Q518 1043 412 983Q307 924 223 894V1061Q374 1129 487 1226Q600 1323 647 1409H763V0Z" fill="rgb(38, 38, 38)"/>
<path transform="translate(319.98,61.60) scale(0.003223,-0.003223)" d="M763 0H583V1102Q518 1043 412 983Q307 924 223 894V1061Q374 1129 487 1226Q600 1323 647 1409H763V0Z" fill="rgb(38, 38, 38)"/>
</svg></body></html>
